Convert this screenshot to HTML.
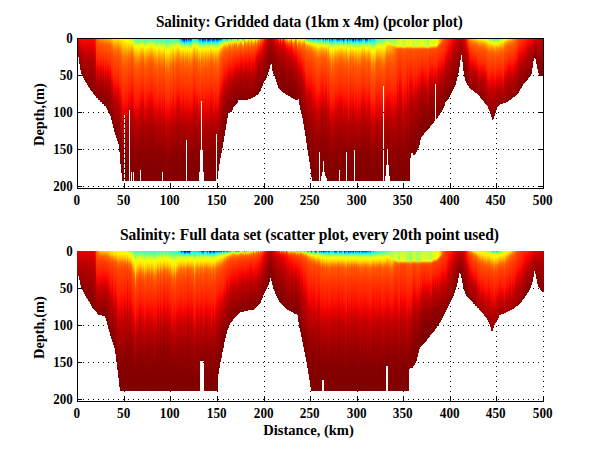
<!DOCTYPE html>
<html><head><meta charset="utf-8"><title>Salinity</title>
<style>
html,body{margin:0;padding:0;background:#fff}
body{width:600px;height:451px;position:relative;overflow:hidden;font-family:"Liberation Serif",serif}
svg{position:absolute;left:0;top:0}
i{position:absolute;width:1px;display:block}
</style></head><body>
<svg width="600" height="451" viewBox="0 0 600 451" shape-rendering="crispEdges">
<path d="M78 75.5 H543" stroke="#000" stroke-width="1" stroke-dasharray="1 4" stroke-dashoffset="0"/>
<path d="M78 112.5 H543" stroke="#000" stroke-width="1" stroke-dasharray="1 4" stroke-dashoffset="0"/>
<path d="M78 149.5 H543" stroke="#000" stroke-width="1" stroke-dasharray="1 4" stroke-dashoffset="0"/>
<path d="M78 186.5 H543" stroke="#000" stroke-width="1" stroke-dasharray="1 4" stroke-dashoffset="0"/>
<path d="M124.5 38 V188" stroke="#000" stroke-width="1" stroke-dasharray="1 4" stroke-dashoffset="0"/>
<path d="M170.5 38 V188" stroke="#000" stroke-width="1" stroke-dasharray="1 4" stroke-dashoffset="0"/>
<path d="M217.5 38 V188" stroke="#000" stroke-width="1" stroke-dasharray="1 4" stroke-dashoffset="0"/>
<path d="M264.5 38 V188" stroke="#000" stroke-width="1" stroke-dasharray="1 4" stroke-dashoffset="0"/>
<path d="M310.5 38 V188" stroke="#000" stroke-width="1" stroke-dasharray="1 4" stroke-dashoffset="0"/>
<path d="M357.5 38 V188" stroke="#000" stroke-width="1" stroke-dasharray="1 4" stroke-dashoffset="0"/>
<path d="M403.5 38 V188" stroke="#000" stroke-width="1" stroke-dasharray="1 4" stroke-dashoffset="0"/>
<path d="M450.5 38 V188" stroke="#000" stroke-width="1" stroke-dasharray="1 4" stroke-dashoffset="0"/>
<path d="M496.5 38 V188" stroke="#000" stroke-width="1" stroke-dasharray="1 4" stroke-dashoffset="0"/>
<path d="M543.5 38 V188" stroke="#000" stroke-width="1" stroke-dasharray="1 4" stroke-dashoffset="0"/>
<path d="M78 288.5 H543" stroke="#000" stroke-width="1" stroke-dasharray="1 4" stroke-dashoffset="0"/>
<path d="M78 325.5 H543" stroke="#000" stroke-width="1" stroke-dasharray="1 4" stroke-dashoffset="0"/>
<path d="M78 362.5 H543" stroke="#000" stroke-width="1" stroke-dasharray="1 4" stroke-dashoffset="0"/>
<path d="M78 399.5 H543" stroke="#000" stroke-width="1" stroke-dasharray="1 4" stroke-dashoffset="0"/>
<path d="M124.5 251 V401" stroke="#000" stroke-width="1" stroke-dasharray="1 4" stroke-dashoffset="0"/>
<path d="M170.5 251 V401" stroke="#000" stroke-width="1" stroke-dasharray="1 4" stroke-dashoffset="0"/>
<path d="M217.5 251 V401" stroke="#000" stroke-width="1" stroke-dasharray="1 4" stroke-dashoffset="0"/>
<path d="M264.5 251 V401" stroke="#000" stroke-width="1" stroke-dasharray="1 4" stroke-dashoffset="0"/>
<path d="M310.5 251 V401" stroke="#000" stroke-width="1" stroke-dasharray="1 4" stroke-dashoffset="0"/>
<path d="M357.5 251 V401" stroke="#000" stroke-width="1" stroke-dasharray="1 4" stroke-dashoffset="0"/>
<path d="M403.5 251 V401" stroke="#000" stroke-width="1" stroke-dasharray="1 4" stroke-dashoffset="0"/>
<path d="M450.5 251 V401" stroke="#000" stroke-width="1" stroke-dasharray="1 4" stroke-dashoffset="0"/>
<path d="M496.5 251 V401" stroke="#000" stroke-width="1" stroke-dasharray="1 4" stroke-dashoffset="0"/>
<path d="M543.5 251 V401" stroke="#000" stroke-width="1" stroke-dasharray="1 4" stroke-dashoffset="0"/>
<path d="M77.5 38 V189 M77 188.5 H544 M543.5 38 V189 M77 38.5 H544" stroke="#000" fill="none"/>
<path d="M77.5 251 V402 M77 401.5 H544" stroke="#000" fill="none"/>
<path d="M124.5 188 v-5 M124.5 38 v5 M124.5 401 v-5 M170.5 188 v-5 M170.5 38 v5 M170.5 401 v-5 M217.5 188 v-5 M217.5 38 v5 M217.5 401 v-5 M264.5 188 v-5 M264.5 38 v5 M264.5 401 v-5 M310.5 188 v-5 M310.5 38 v5 M310.5 401 v-5 M357.5 188 v-5 M357.5 38 v5 M357.5 401 v-5 M403.5 188 v-5 M403.5 38 v5 M403.5 401 v-5 M450.5 188 v-5 M450.5 38 v5 M450.5 401 v-5 M496.5 188 v-5 M496.5 38 v5 M496.5 401 v-5 M543.5 401 v-5 M77 75.5 h5 M543 75.5 h-5 M77 112.5 h5 M543 112.5 h-5 M77 149.5 h5 M543 149.5 h-5 M77 186.5 h5 M543 186.5 h-5 M77 288.5 h5 M77 325.5 h5 M77 362.5 h5 M77 399.5 h5" stroke="#000" fill="none"/>
</svg>
<div id="p1">
<i style="left:78px;top:39px;height:18px;background:linear-gradient(#f00 0px,#bc0000 7px,#930000 18px)"></i>
<i style="left:79px;top:39px;height:25px;background:linear-gradient(#ff0100 0px,#be0000 8px,#8a0000 25px)"></i>
<i style="left:80px;top:39px;height:31px;background:linear-gradient(#ff0300 0px,#bc0000 10px,#890000 31px)"></i>
<i style="left:81px;top:39px;height:35px;background:linear-gradient(#ff0600 0px,#bc0000 12px,#890000 35px)"></i>
<i style="left:82px;top:39px;height:37px;background:linear-gradient(#ff0900 0px,#d70000 8px,#ac0000 20px,#8d0000 37px)"></i>
<i style="left:83px;top:39px;height:39px;background:linear-gradient(#ff0b00 0px,#ec0000 6px,#b90000 17px,#910000 39px)"></i>
<i style="left:84px;top:39px;height:41px;background:linear-gradient(#ff0900 0px,#e80000 6px,#b70000 17px,#8d0000 41px)"></i>
<i style="left:85px;top:39px;height:43px;background:linear-gradient(#ff0a00 0px,#ec0000 6px,#b00 17px,#8e0000 43px)"></i>
<i style="left:86px;top:39px;height:44px;background:linear-gradient(#ff0800 0px,#dc0000 8px,#b10000 20px,#8a0000 44px)"></i>
<i style="left:87px;top:39px;height:46px;background:linear-gradient(#ff0900 0px,#df0000 8px,#b30000 20px,#8a0000 46px)"></i>
<i style="left:88px;top:39px;height:48px;background:linear-gradient(#ff0800 0px,#de0000 8px,#b30000 20px,#890000 48px)"></i>
<i style="left:89px;top:39px;height:49px;background:linear-gradient(#ff0800 0px,#df0000 8px,#b40000 20px,#890000 49px)"></i>
<i style="left:90px;top:39px;height:51px;background:linear-gradient(#ff0900 0px,#e30000 8px,#b60000 20px,#890000 51px)"></i>
<i style="left:91px;top:39px;height:52px;background:linear-gradient(#ff0500 0px,#bd0000 14px,#8b0000 42px,#840000 52px)"></i>
<i style="left:92px;top:39px;height:53px;background:linear-gradient(#ff0500 0px,#be0000 14px,#940000 35px,#840000 53px)"></i>
<i style="left:93px;top:39px;height:55px;background:linear-gradient(#ff0b00 0px,#ed0000 7px,#bc0000 20px,#890000 55px)"></i>
<i style="left:94px;top:39px;height:56px;background:linear-gradient(#ff0a00 0px,#e60000 8px,#ba0000 20px,#800 56px)"></i>
<i style="left:95px;top:39px;height:57px;background:linear-gradient(#ff2e00 0px,#fe0000 12px,#c20000 24px,#900000 50px,#800 57px)"></i>
<i style="left:96px;top:39px;height:59px;background:linear-gradient(#ff5d00 0px,#ff2900 20px,#fa0000 29px,#b50000 42px,#900000 59px)"></i>
<i style="left:97px;top:39px;height:59px;background:linear-gradient(#ff6700 0px,#ff4500 8px,#ff2000 20px,#ff0900 24px,#c00000 35px,#890000 59px)"></i>
<i style="left:98px;top:39px;height:61px;background:linear-gradient(#ff8100 0px,#ff5700 5px,#ff1c00 24px,#fd0000 29px,#d20000 35px,#9d0000 50px,#890000 61px)"></i>
<i style="left:99px;top:39px;height:61px;background:linear-gradient(#ff9100 0px,#ff5c00 5px,#ff1f00 24px,#ff0100 29px,#b30000 42px,#890000 61px)"></i>
<i style="left:100px;top:39px;height:63px;background:linear-gradient(#ff8b00 0px,#ff5d00 4px,#ff2900 20px,#ff1200 24px,#ed0000 29px,#c30000 35px,#970000 50px,#850000 63px)"></i>
<i style="left:101px;top:39px;height:63px;background:linear-gradient(#ff9100 0px,#ff5b00 5px,#ff1800 24px,#f60000 29px,#c90000 35px,#9a0000 50px,#860000 63px)"></i>
<i style="left:102px;top:39px;height:65px;background:linear-gradient(#ff9800 0px,#ff5e00 5px,#ff2100 24px,#ff0300 29px,#b50000 42px,#860000 65px)"></i>
<i style="left:103px;top:39px;height:65px;background:linear-gradient(#ff9700 0px,#ff5d00 5px,#ff1a00 24px,#f90000 29px,#cb0000 35px,#9b0000 50px,#850000 65px)"></i>
<i style="left:104px;top:39px;height:67px;background:linear-gradient(#ffa500 0px,#ff6000 6px,#ff1900 29px,#f60000 35px,#c50000 42px,#940000 60px,#890000 67px)"></i>
<i style="left:105px;top:39px;height:67px;background:linear-gradient(#ff9c00 0px,#ff5e00 5px,#ff1b00 24px,#fa0000 29px,#c00 35px,#9c0000 50px,#840000 67px)"></i>
<i style="left:106px;top:39px;height:69px;background:linear-gradient(#ffa600 0px,#ff6000 6px,#ff3600 20px,#ff1200 29px,#ec0000 35px,#c00000 42px,#920000 60px,#860000 69px)"></i>
<i style="left:107px;top:39px;height:71px;background:linear-gradient(#ffa400 0px,#ff6300 5px,#ff4200 14px,#ff2500 24px,#ff0800 29px,#b70000 42px,#8f0000 60px,#830000 71px)"></i>
<i style="left:108px;top:39px;height:73px;background:linear-gradient(#fa0 0px,#ff6000 6px,#ff2a00 24px,#ff1000 29px,#e80000 35px,#be0000 42px,#930000 60px,#830000 73px)"></i>
<i style="left:109px;top:39px;height:75px;background:linear-gradient(#ffae00 0px,#ff6100 6px,#f40 14px,#ff2a00 24px,#ff0f00 29px,#e60000 35px,#bd0000 42px,#930000 60px,#820000 75px)"></i>
<i style="left:110px;top:39px;height:77px;background:linear-gradient(#ffb500 0px,#f60 6px,#ff4600 14px,#ff2c00 24px,#ff1400 29px,#ed0000 35px,#c20000 42px,#950000 60px,#820000 77px)"></i>
<i style="left:111px;top:39px;height:81px;background:linear-gradient(#ffca00 0px,#ff7300 7px,#ff4c00 14px,#ff2d00 29px,#ff1600 35px,#ed0000 42px,#bf0000 50px,#8f0000 72px,#850000 81px)"></i>
<i style="left:112px;top:39px;height:85px;background:linear-gradient(#ffd100 0px,#ff7000 8px,#ff5000 14px,#ff1d00 35px,#f70000 42px,#c70000 50px,#930000 72px,#840000 85px)"></i>
<i style="left:113px;top:39px;height:89px;background:linear-gradient(#ffe100 0px,#ff8500 8px,#ff5c00 14px,#ff3000 35px,#ff1600 42px,#e90000 50px,#b80000 60px,#870000 89px)"></i>
<i style="left:114px;top:39px;height:93px;background:linear-gradient(#ffe600 0px,#ff7a00 10px,#f50 17px,#ff1d00 42px,#f40000 50px,#c00000 60px,#8c0000 86px,#860000 93px)"></i>
<i style="left:115px;top:39px;height:96px;background:linear-gradient(#ffe400 0px,#ff8700 8px,#ff5c00 14px,#ff1800 42px,#f00000 50px,#be0000 60px,#8d0000 86px,#840000 96px)"></i>
<i style="left:116px;top:39px;height:99px;background:linear-gradient(#ffe800 0px,#ff7b00 10px,#f50 17px,#ff2000 42px,#fa0000 50px,#c50000 60px,#910000 86px,#840000 99px)"></i>
<i style="left:117px;top:39px;height:102px;background:linear-gradient(#ffe700 0px,#ff7900 10px,#ff5400 17px,#ff1e00 42px,#f80000 50px,#c50000 60px,#920000 86px,#830000 102px)"></i>
<i style="left:118px;top:39px;height:105px;background:linear-gradient(#ffe200 0px,#ff8100 8px,#ff5900 14px,#ff2c00 35px,#ff1300 42px,#ec0000 50px,#bf0000 60px,#900000 86px,#810000 105px)"></i>
<i style="left:119px;top:39px;height:113px;background:linear-gradient(#ffec00 0px,#ff8100 10px,#ff5900 17px,#ff2a00 42px,#ff0b00 50px,#b30000 72px,#8a0000 100px,#820000 113px)"></i>
<i style="left:120px;top:39px;height:125px;background:linear-gradient(#ffed00 0px,#ff8600 10px,#ff5b00 17px,#ff2d00 42px,#ff1400 50px,#e90000 60px,#b00 72px,#900000 100px,#800000 125px)"></i>
<i style="left:121px;top:39px;height:134px;background:linear-gradient(#fff400 0px,#ff8400 12px,#ff5a00 20px,#ff2500 50px,#ff0100 60px,#cb0000 72px,#980000 100px,#800000 134px)"></i>
<i style="left:122px;top:39px;height:142px;background:linear-gradient(#fffd00 0px,#ff7a00 17px,#ff5100 29px,#ff1a00 60px,#ec0000 72px,#ba0000 86px,#910000 115px,#800000 142px)"></i>
<i style="left:123px;top:39px;height:142px;background:linear-gradient(#faff05 0px,#ff7800 20px,#ff5800 29px,#ff2400 60px,#f90000 72px,#c30000 86px,#950000 115px,#810000 142px)"></i>
<i style="left:124px;top:39px;height:76px;background:linear-gradient(#f9ff06 0px,#ff7f00 17px,#ff5200 29px,#ff1c00 60px,#f00000 72px,#de0000 76px)"></i>
<i style="left:125px;top:39px;height:142px;background:linear-gradient(#f2ff0d 0px,#fff700 2px,#ff8e00 14px,#ff5b00 24px,#ff1600 60px,#e60000 72px,#b70000 86px,#850000 130px,#800000 142px)"></i>
<i style="left:126px;top:39px;height:142px;background:linear-gradient(#e5ff1a 0px,#fffe00 2px,#ff7d00 17px,#ff4f00 29px,#ff3000 50px,#ff1600 60px,#e70000 72px,#b70000 86px,#850000 130px,#800000 142px)"></i>
<i style="left:127px;top:39px;height:142px;background:linear-gradient(#d8ff27 0px,#fffd00 3px,#ff8200 17px,#ff5e00 24px,#ff1700 60px,#e80000 72px,#b70000 86px,#850000 130px,#800000 142px)"></i>
<i style="left:128px;top:39px;height:142px;background:linear-gradient(#deff21 0px,#fffe00 2px,#ff7e00 14px,#ff4f00 24px,#ff2000 50px,#fa0000 60px,#c80000 72px,#970000 100px,#800000 142px)"></i>
<i style="left:129px;top:39px;height:71px;background:linear-gradient(#c0ff3f 0px,#fbff04 3px,#ff7b00 17px,#ff4b00 29px,#ff2b00 50px,#ff0c00 60px,#d00 71px)"></i>
<i style="left:130px;top:39px;height:142px;background:linear-gradient(#beff41 0px,#feff01 3px,#ff8500 14px,#ff5d00 20px,#ff1f00 50px,#fa0000 60px,#c70000 72px,#970000 100px,#800000 142px)"></i>
<i style="left:131px;top:39px;height:133px;background:linear-gradient(#b5ff4a 0px,#ebff14 2px,#feff01 3px,#ff7d00 14px,#ff5900 20px,#ff1600 50px,#ed0000 60px,#bf0000 72px,#930000 100px,#800000 133px)"></i>
<i style="left:132px;top:39px;height:142px;background:linear-gradient(#afff50 0px,#d5ff2a 1px,#ff0 3px,#ff8900 12px,#ff5f00 17px,#ff2500 42px,#ff0900 50px,#b60000 72px,#840000 115px,#800000 142px)"></i>
<i style="left:133px;top:39px;height:133px;background:linear-gradient(#7cff83 0px,#d9ff26 3px,#feff01 5px,#ff7b00 17px,#ff5600 24px,#ff2400 50px,#f00 60px,#ca0000 72px,#980000 100px,#800000 133px)"></i>
<i style="left:134px;top:39px;height:142px;background:linear-gradient(#59ffa6 0px,#bf4 4px,#f6ff09 7px,#ffe800 10px,#f80 20px,#ff5800 29px,#ff1b00 60px,#eb0000 72px,#b80000 86px,#8f0000 115px,#800000 142px)"></i>
<i style="left:135px;top:39px;height:142px;background:linear-gradient(#5fa 0px,#94ff6b 3px,#cfff30 5px,#ff0 8px,#ff8900 20px,#ff5800 29px,#ff1b00 60px,#ea0000 72px,#b70000 86px,#840000 130px,#800000 142px)"></i>
<i style="left:136px;top:39px;height:142px;background:linear-gradient(#4fffb0 0px,#84ff7b 3px,#d5ff2a 6px,#f6ff09 8px,#ffac00 17px,#ff7500 24px,#ff4c00 35px,#ff1f00 60px,#f00000 72px,#b00 86px,#900000 115px,#800000 142px)"></i>
<i style="left:137px;top:39px;height:142px;background:linear-gradient(#4fffb0 0px,#87ff78 3px,#dbff24 6px,#fdff02 8px,#ff8700 20px,#ff5700 29px,#ff1800 60px,#e60000 72px,#b60000 86px,#8d0000 115px,#800000 142px)"></i>
<i style="left:138px;top:39px;height:142px;background:linear-gradient(#49ffb6 0px,#78ff87 3px,#deff21 7px,#fff600 10px,#ff9200 20px,#ff5b00 29px,#ff1d00 60px,#ed0000 72px,#b90000 86px,#8f0000 115px,#800000 142px)"></i>
<i style="left:139px;top:39px;height:142px;background:linear-gradient(#49ffb6 0px,#7eff81 3px,#d6ff29 6px,#faff05 8px,#ff8500 20px,#ff6800 24px,#ff4800 35px,#ff3000 50px,#ff1400 60px,#e10000 72px,#b40000 86px,#8c0000 115px,#800000 142px)"></i>
<i style="left:140px;top:39px;height:131px;background:linear-gradient(#4effb1 0px,#76ff89 2px,#d5ff2a 5px,#fcff03 7px,#ff8c00 17px,#ff5b00 24px,#ff2800 50px,#ff0400 60px,#c00 72px,#980000 100px,#800000 131px)"></i>
<i style="left:141px;top:39px;height:142px;background:linear-gradient(#4fffb0 0px,#9f6 3px,#daff25 5px,#fffe00 7px,#ff8700 17px,#ff5900 24px,#ff2400 50px,#fe0000 60px,#c90000 72px,#970000 100px,#800000 142px)"></i>
<i style="left:142px;top:39px;height:142px;background:linear-gradient(#52ffad 0px,#a2ff5d 3px,#e1ff1e 5px,#fff900 7px,#ff8000 17px,#ff5600 24px,#ff2000 50px,#f90000 60px,#c50000 72px,#950000 100px,#800000 142px)"></i>
<i style="left:143px;top:39px;height:142px;background:linear-gradient(#51ffae 0px,#7eff81 2px,#deff21 5px,#fffc00 7px,#ff8300 17px,#ff5700 24px,#f20 50px,#fb0000 60px,#c70000 72px,#960000 100px,#800000 130px,#800000 142px)"></i>
<i style="left:144px;top:39px;height:142px;background:linear-gradient(#4fb 0px,#6fff90 3px,#d9ff26 7px,#fff900 10px,#ff9300 20px,#ff5b00 29px,#ff1c00 60px,#eb0000 72px,#b70000 86px,#8e0000 115px,#800000 142px)"></i>
<i style="left:145px;top:39px;height:142px;background:linear-gradient(#46ffb9 0px,#74ff8b 3px,#deff21 7px,#fff500 10px,#ff8d00 20px,#ff5800 29px,#ff1800 60px,#e60000 72px,#b60000 86px,#8d0000 115px,#800000 142px)"></i>
<i style="left:146px;top:39px;height:142px;background:linear-gradient(#49ffb6 0px,#7fff80 3px,#d8ff27 6px,#fcff03 8px,#ff8000 20px,#ff6400 24px,#f10 60px,#dc0000 72px,#b20000 86px,#8b0000 115px,#800000 142px)"></i>
<i style="left:147px;top:39px;height:142px;background:linear-gradient(#49ffb6 0px,#68ff97 2px,#d9ff26 6px,#fdff02 8px,#ff7f00 20px,#ff6300 24px,#ff1000 60px,#db0000 72px,#b20000 86px,#8b0000 115px,#800000 142px)"></i>
<i style="left:148px;top:39px;height:142px;background:linear-gradient(#4dffb2 0px,#73ff8c 2px,#d2ff2d 5px,#faff05 7px,#ff7500 20px,#ff4c00 29px,#ff2900 50px,#ff0600 60px,#cf0000 72px,#980000 100px,#800000 142px)"></i>
<i style="left:149px;top:39px;height:142px;background:linear-gradient(#4fffb0 0px,#78ff87 2px,#d8ff27 5px,#feff01 7px,#ff8900 17px,#ff5a00 24px,#ff2600 50px,#ff0100 60px,#cb0000 72px,#970000 100px,#800000 142px)"></i>
<i style="left:150px;top:39px;height:142px;background:linear-gradient(#4effb1 0px,#7f8 2px,#d6ff29 5px,#fdff02 7px,#ff8b00 17px,#ff5b00 24px,#ff2700 50px,#ff0300 60px,#c00 72px,#980000 100px,#800000 130px,#800000 142px)"></i>
<i style="left:151px;top:39px;height:142px;background:linear-gradient(#53ffac 0px,#85ff7a 2px,#cfff30 4px,#fbff04 6px,#ff7c00 17px,#ff5400 24px,#ff1d00 50px,#f50000 60px,#c30000 72px,#940000 100px,#800000 142px)"></i>
<i style="left:152px;top:39px;height:142px;background:linear-gradient(#4fffb0 0px,#97ff68 3px,#d9ff26 5px,#ff0 7px,#f80 17px,#ff5900 24px,#ff2500 50px,#ff0100 60px,#ca0000 72px,#970000 100px,#800000 142px)"></i>
<i style="left:153px;top:39px;height:142px;background:linear-gradient(#4bffb4 0px,#6eff91 2px,#e0ff1f 6px,#fffc00 8px,#ff7900 20px,#ff5f00 24px,#ff2c00 50px,#ff0b00 60px,#af0000 86px,#890000 115px,#800000 142px)"></i>
<i style="left:154px;top:39px;height:142px;background:linear-gradient(#47ffb8 0px,#78ff87 3px,#d0ff2f 6px,#f5ff0a 8px,#ffc500 14px,#ff6b00 24px,#ff4900 35px,#ff1600 60px,#e30000 72px,#b40000 86px,#8c0000 115px,#800000 142px)"></i>
<i style="left:155px;top:39px;height:142px;background:linear-gradient(#46ffb9 0px,#76ff89 3px,#e1ff1e 7px,#f3ff0c 8px,#fd0 12px,#ff8b00 20px,#ff5700 29px,#ff1700 60px,#e50000 72px,#b50000 86px,#8d0000 115px,#800000 142px)"></i>
<i style="left:156px;top:39px;height:142px;background:linear-gradient(#4fb 0px,#59ffa6 2px,#a1ff5e 5px,#eaff15 8px,#fff900 10px,#ff9300 20px,#ff5b00 29px,#ff1c00 60px,#ec0000 72px,#b80000 86px,#8e0000 115px,#800000 142px)"></i>
<i style="left:157px;top:39px;height:142px;background:linear-gradient(#3fffc0 0px,#5effa1 3px,#bcff43 7px,#f5ff0a 10px,#ffe100 14px,#ff8700 24px,#ff6700 29px,#ff2800 60px,#fa0000 72px,#c10000 86px,#920000 115px,#800000 142px)"></i>
<i style="left:158px;top:39px;height:142px;background:linear-gradient(#49ffb6 0px,#6f9 2px,#d7ff28 6px,#fbff04 8px,#ff8200 20px,#ff6500 24px,#ff4700 35px,#ff2f00 50px,#ff1200 60px,#d00 72px,#b20000 86px,#8b0000 115px,#800000 142px)"></i>
<i style="left:159px;top:39px;height:142px;background:linear-gradient(#47ffb8 0px,#79ff86 3px,#d2ff2d 6px,#f6ff09 8px,#ffa300 17px,#ff6a00 24px,#ff4800 35px,#ff3100 50px,#ff1500 60px,#e20000 72px,#b40000 86px,#8c0000 115px,#800000 142px)"></i>
<i style="left:160px;top:39px;height:142px;background:linear-gradient(#45ffba 0px,#72ff8d 3px,#dcff23 7px,#fff600 10px,#ff8f00 20px,#ff5900 29px,#ff1a00 60px,#e80000 72px,#b60000 86px,#8e0000 115px,#800000 142px)"></i>
<i style="left:161px;top:39px;height:142px;background:linear-gradient(#4fb 0px,#59ffa6 2px,#a1ff5e 5px,#eaff15 8px,#fff900 10px,#ff9300 20px,#ff5b00 29px,#ff1c00 60px,#eb0000 72px,#b70000 86px,#8e0000 115px,#800000 142px)"></i>
<i style="left:162px;top:39px;height:133px;background:linear-gradient(#4fb 0px,#58ffa7 2px,#bcff43 6px,#e8ff17 8px,#fffa00 10px,#ff9500 20px,#ff5c00 29px,#ff1d00 60px,#ed0000 72px,#b80000 86px,#8f0000 115px,#820000 133px)"></i>
<i style="left:163px;top:39px;height:142px;background:linear-gradient(#45ffba 0px,#73ff8c 3px,#df2 7px,#fff600 10px,#ff8e00 20px,#ff5900 29px,#ff1900 60px,#e80000 72px,#b60000 86px,#8e0000 115px,#800000 142px)"></i>
<i style="left:164px;top:39px;height:142px;background:linear-gradient(#4cffb3 0px,#70ff8f 2px,#e3ff1c 6px,#fffa00 8px,#ff7800 20px,#ff4d00 29px,#ff2b00 50px,#ff0900 60px,#d20000 72px,#ae0000 86px,#890000 115px,#800000 142px)"></i>
<i style="left:165px;top:39px;height:142px;background:linear-gradient(#39ffc6 0px,#5affa5 4px,#d6ff29 10px,#f2ff0d 12px,#fff800 14px,#ff8000 29px,#ff4c00 42px,#ff3000 60px,#ff0d00 72px,#cd0000 86px,#970000 115px,#810000 142px)"></i>
<i style="left:166px;top:39px;height:142px;background:linear-gradient(#3dffc2 0px,#58ffa7 3px,#afff50 7px,#ebff14 10px,#fffa00 12px,#ff8f00 24px,#ff5800 35px,#ff2b00 60px,#f00 72px,#c40000 86px,#940000 115px,#800000 142px)"></i>
<i style="left:167px;top:39px;height:142px;background:linear-gradient(#3dffc2 0px,#58ffa7 3px,#afff50 7px,#ebff14 10px,#fffb00 12px,#ff8f00 24px,#ff5800 35px,#ff2b00 60px,#f00 72px,#c40000 86px,#940000 115px,#800000 142px)"></i>
<i style="left:168px;top:39px;height:142px;background:linear-gradient(#3cffc3 0px,#65ff9a 4px,#e3ff1c 10px,#feff01 12px,#ff9700 24px,#ff5b00 35px,#ff2d00 60px,#ff0500 72px,#c70000 86px,#950000 115px,#800000 142px)"></i>
<i style="left:169px;top:39px;height:142px;background:linear-gradient(#3dffc2 0px,#58ffa7 3px,#afff50 7px,#ecff13 10px,#fffa00 12px,#ff8f00 24px,#ff6e00 29px,#ff4800 42px,#ff2b00 60px,#f00 72px,#c40000 86px,#940000 115px,#800000 142px)"></i>
<i style="left:170px;top:39px;height:142px;background:linear-gradient(#45ffba 0px,#5bffa4 2px,#a4ff5b 5px,#ecff13 8px,#fff700 10px,#ff9100 20px,#ff5a00 29px,#ff1b00 60px,#ea0000 72px,#b70000 86px,#8e0000 115px,#800000 142px)"></i>
<i style="left:171px;top:39px;height:142px;background:linear-gradient(#3fffc0 0px,#5effa1 3px,#bcff43 7px,#f4ff0b 10px,#ffe100 14px,#ff8700 24px,#ff6700 29px,#ff2800 60px,#fa0000 72px,#c10000 86px,#920000 115px,#800000 142px)"></i>
<i style="left:172px;top:39px;height:142px;background:linear-gradient(#47ffb8 0px,#79ff86 3px,#d1ff2e 6px,#f6ff09 8px,#ffa300 17px,#ff6a00 24px,#ff4900 35px,#ff3100 50px,#ff1500 60px,#e20000 72px,#b40000 86px,#8c0000 115px,#800000 142px)"></i>
<i style="left:173px;top:39px;height:142px;background:linear-gradient(#4bffb4 0px,#6fff90 2px,#e1ff1e 6px,#fffc00 8px,#ff7900 20px,#ff4e00 29px,#ff2b00 50px,#ff0b00 60px,#af0000 86px,#890000 115px,#800000 142px)"></i>
<i style="left:174px;top:39px;height:142px;background:linear-gradient(#42ffbd 0px,#69ff96 3px,#d1ff2e 7px,#fffe00 10px,#ff7a00 24px,#ff5e00 29px,#ff2000 60px,#f10000 72px,#b00 86px,#900000 115px,#800000 142px)"></i>
<i style="left:175px;top:39px;height:142px;background:linear-gradient(#45ffba 0px,#5bffa4 2px,#a4ff5b 5px,#ecff13 8px,#fff700 10px,#ff9100 20px,#ff5a00 29px,#ff1b00 60px,#ea0000 72px,#b70000 86px,#8e0000 115px,#800000 142px)"></i>
<i style="left:176px;top:39px;height:142px;background:linear-gradient(#3fffc0 0px,#67ff98 2px,#deff21 6px,#fffd00 8px,#ff7900 20px,#ff4e00 29px,#ff2b00 50px,#ff0a00 60px,#af0000 86px,#890000 115px,#800000 142px)"></i>
<i style="left:177px;top:39px;height:142px;background:linear-gradient(#29ffd6 0px,#86ff79 3px,#d0ff2f 5px,#f9ff06 7px,#f80 17px,#ff5900 24px,#ff2500 50px,#f00 60px,#ca0000 72px,#970000 100px,#800000 142px)"></i>
<i style="left:178px;top:39px;height:142px;background:linear-gradient(#10ffef 0px,#cbff34 5px,#f7ff08 7px,#ffa600 14px,#ff6d00 20px,#ff4a00 29px,#ff2300 50px,#fd0000 60px,#c80000 72px,#960000 100px,#800000 142px)"></i>
<i style="left:179px;top:39px;height:142px;background:linear-gradient(#00f3ff 0px,#17ffe8 1px,#bcff43 5px,#fdff02 8px,#ff8f00 17px,#ff5c00 24px,#ff2900 50px,#ff0500 60px,#ce0000 72px,#980000 100px,#800000 142px)"></i>
<i style="left:180px;top:39px;height:142px;background:linear-gradient(#008bff 0px,#00f6ff 2px,#afff50 6px,#e3ff1c 8px,#fffb00 10px,#ff8600 20px,#ff6800 24px,#ff4800 35px,#ff3000 50px,#ff1400 60px,#e00000 72px,#b30000 86px,#8c0000 115px,#800000 142px)"></i>
<i style="left:181px;top:39px;height:142px;background:linear-gradient(#0092ff 0px,#00f4ff 2px,#4dffb2 4px,#a4ff5b 6px,#daff25 8px,#fdff02 10px,#ff8f00 20px,#ff5900 29px,#ff1900 60px,#e70000 72px,#b60000 86px,#8d0000 115px,#800000 142px)"></i>
<i style="left:182px;top:39px;height:142px;background:linear-gradient(#0000e0 0px,#0042ff 1px,#009bff 2px,#00e5ff 3px,#2cffd3 4px,#6bff94 5px,#bdff42 7px,#fffd00 10px,#f90 17px,#ff6000 24px,#ff2c00 50px,#ff0b00 60px,#af0000 86px,#890000 115px,#800000 142px)"></i>
<i style="left:183px;top:39px;height:142px;background:linear-gradient(#0000bf 0px,#0029ff 1px,#08f 2px,#00d7ff 3px,#23ffdc 4px,#65ff9a 5px,#baff45 7px,#fffe00 10px,#ffbc00 14px,#ff7a00 20px,#ff5f00 24px,#ff2b00 50px,#ff0a00 60px,#d30000 72px,#900 100px,#810000 130px,#800000 142px)"></i>
<i style="left:184px;top:39px;height:142px;background:linear-gradient(#000080 0px,#0000dc 1px,#0040ff 2px,#09f 3px,#00e2ff 4px,#27ffd8 5px,#91ff6e 7px,#e6ff19 10px,#fff500 12px,#ff9300 20px,#ff5a00 29px,#ff1b00 60px,#ea0000 72px,#b70000 86px,#8e0000 115px,#800000 142px)"></i>
<i style="left:185px;top:39px;height:142px;background:linear-gradient(#0060ff 0px,#00dcff 2px,#14ffeb 3px,#a6ff59 6px,#deff21 8px,#fffe00 10px,#ff8600 20px,#ff6900 24px,#ff4800 35px,#ff3000 50px,#ff1400 60px,#e00000 72px,#b30000 86px,#8c0000 115px,#800000 142px)"></i>
<i style="left:186px;top:39px;height:101px;background:linear-gradient(#00009f 0px,#000fff 1px,#00beff 3px,#06fff9 4px,#80ff7f 6px,#c8ff37 8px,#f3ff0c 10px,#ffcb00 14px,#ff8700 20px,#ff6900 24px,#ff4800 35px,#ff3000 50px,#ff1400 60px,#e00000 72px,#b30000 86px,#9b0000 101px)"></i>
<i style="left:187px;top:39px;height:142px;background:linear-gradient(#0079ff 0px,#00f1ff 2px,#27ffd8 3px,#8fff70 5px,#d1ff2e 7px,#e8ff17 8px,#fff500 10px,#f90 17px,#ff6000 24px,#ff2c00 50px,#ff0d00 60px,#b00000 86px,#8a0000 115px,#800000 142px)"></i>
<i style="left:188px;top:39px;height:142px;background:linear-gradient(#0015ff 0px,#06f 1px,#00e5ff 3px,#1bffe4 4px,#a7ff58 7px,#ef1 10px,#fff300 12px,#f90 20px,#ff5d00 29px,#ff1f00 60px,#ef0000 72px,#b90000 86px,#8f0000 115px,#800000 142px)"></i>
<i style="left:189px;top:39px;height:142px;background:linear-gradient(#0025ff 0px,#00bdff 2px,#00fcff 3px,#71ff8e 5px,#bfff40 7px,#ff0 10px,#ffa000 17px,#ff6500 24px,#ff3d00 42px,#f10 60px,#dc0000 72px,#b20000 86px,#8b0000 115px,#800000 142px)"></i>
<i style="left:190px;top:39px;height:142px;background:linear-gradient(#001dff 0px,#006cff 1px,#00e4ff 3px,#19ffe6 4px,#a1ff5e 7px,#eaff15 10px,#fff700 12px,#ff9e00 20px,#ff5f00 29px,#f20 60px,#f30000 72px,#bc0000 86px,#900000 115px,#800000 142px)"></i>
<i style="left:191px;top:39px;height:142px;background:linear-gradient(#0043ff 0px,#00c5ff 2px,#00feff 3px,#91ff6e 6px,#cfff30 8px,#f6ff09 10px,#ffae00 17px,#ff7200 24px,#ff4b00 35px,#ff1a00 60px,#e90000 72px,#b70000 86px,#8e0000 115px,#800000 142px)"></i>
<i style="left:192px;top:39px;height:142px;background:linear-gradient(#00f2ff 0px,#12ffed 1px,#c4ff3b 6px,#f0ff0f 8px,#fff400 10px,#ff8400 20px,#ff6700 24px,#ff4800 35px,#ff3000 50px,#ff1300 60px,#df0000 72px,#b30000 86px,#8c0000 115px,#800000 142px)"></i>
<i style="left:193px;top:39px;height:142px;background:linear-gradient(#06fff9 0px,#c8ff37 5px,#f6ff09 7px,#fd0 10px,#ff8600 17px,#ff5800 24px,#ff2400 50px,#fd0000 60px,#c80000 72px,#960000 100px,#800000 142px)"></i>
<i style="left:194px;top:39px;height:142px;background:linear-gradient(#02fffd 0px,#beff41 4px,#f2ff0d 6px,#ffea00 8px,#ff9200 14px,#ff5e00 20px,#ff1400 50px,#ea0000 60px,#bc0000 72px,#910000 100px,#800000 142px)"></i>
<i style="left:195px;top:39px;height:142px;background:linear-gradient(#00eaff 0px,#0dfff2 1px,#b3ff4c 5px,#f8ff07 8px,#ff7900 20px,#ff5e00 24px,#ff2b00 50px,#ff0a00 60px,#d30000 72px,#900 100px,#810000 130px,#800000 142px)"></i>
<i style="left:196px;top:39px;height:142px;background:linear-gradient(#00c3ff 0px,#00f0ff 1px,#23ffdc 2px,#aeff51 5px,#f5ff0a 8px,#ffb300 14px,#ff7600 20px,#ff4c00 29px,#ff2a00 50px,#ff0700 60px,#d00000 72px,#900 100px,#810000 130px,#800000 142px)"></i>
<i style="left:197px;top:39px;height:142px;background:linear-gradient(#0afff5 0px,#9bff64 4px,#c2ff3d 5px,#ff0 8px,#ff8e00 17px,#ff5c00 24px,#ff2900 50px,#ff0500 60px,#ce0000 72px,#980000 100px,#800000 142px)"></i>
<i style="left:198px;top:39px;height:142px;background:linear-gradient(#0075ff 0px,#00deff 2px,#10ffef 3px,#b5ff4a 7px,#f4ff0b 10px,#ffd800 14px,#ff7800 24px,#ff4c00 35px,#ff1f00 60px,#ef0000 72px,#ba0000 86px,#8f0000 115px,#800000 142px)"></i>
<i style="left:199px;top:39px;height:133px;background:linear-gradient(#005bff 0px,#00dbff 2px,#14ffeb 3px,#a7ff58 6px,#dfff20 8px,#fffd00 10px,#ffa100 17px,#ff6700 24px,#ff4700 35px,#ff2f00 50px,#ff1200 60px,#de0000 72px,#b30000 86px,#8b0000 115px,#810000 133px)"></i>
<i style="left:200px;top:39px;height:111px;background:linear-gradient(#0053ff 0px,#00c7ff 2px,#00f4ff 3px,#48ffb7 5px,#b9ff46 8px,#fffe00 12px,#f80 24px,#ff6800 29px,#ff4700 42px,#ff2800 60px,#fb0000 72px,#c10000 86px,#970000 111px)"></i>
<i style="left:201px;top:39px;height:62px;background:linear-gradient(#09f 0px,#0ff 2px,#b3ff4c 6px,#e6ff19 8px,#fff900 10px,#ff8400 20px,#ff6700 24px,#ff4700 35px,#ff2f00 50px,#ff0b00 62px)"></i>
<i style="left:202px;top:39px;height:111px;background:linear-gradient(#000084 0px,#0000f9 1px,#00b4ff 3px,#0ff 4px,#7dff82 6px,#c7ff38 8px,#f3ff0c 10px,#ffc900 14px,#ff8400 20px,#f60 24px,#ff3e00 42px,#ff1200 60px,#d00 72px,#b20000 86px,#900000 111px)"></i>
<i style="left:203px;top:39px;height:133px;background:linear-gradient(#0000f7 0px,#00e1ff 3px,#1effe1 4px,#8cff73 6px,#cdff32 8px,#f5ff0a 10px,#ffce00 14px,#ff8b00 20px,#ff5700 29px,#ff1700 60px,#e40000 72px,#b50000 86px,#8d0000 115px,#810000 133px)"></i>
<i style="left:204px;top:39px;height:142px;background:linear-gradient(#0005ff 0px,#005aff 1px,#00dfff 3px,#17ffe8 4px,#a6ff59 7px,#ef1 10px,#fff200 12px,#ff9600 20px,#ff5c00 29px,#ff1d00 60px,#ed0000 72px,#b80000 86px,#8f0000 115px,#800000 142px)"></i>
<i style="left:205px;top:39px;height:142px;background:linear-gradient(#0000db 0px,#0040ff 1px,#009cff 2px,#00e8ff 3px,#3fc 4px,#73ff8c 5px,#c3ff3c 7px,#fff900 10px,#ffb700 14px,#ff7600 20px,#ff4c00 29px,#ff2a00 50px,#ff0600 60px,#cf0000 72px,#980000 100px,#800000 142px)"></i>
<i style="left:206px;top:39px;height:142px;background:linear-gradient(#00cbff 0px,#00f2ff 1px,#17ffe8 2px,#b3ff4c 6px,#e3ff1c 8px,#fffc00 10px,#ff8c00 20px,#ff5800 29px,#ff1800 60px,#e50000 72px,#b50000 86px,#8d0000 115px,#800000 142px)"></i>
<i style="left:207px;top:39px;height:142px;background:linear-gradient(#0000e5 0px,#0043ff 1px,#00d9ff 3px,#17ffe8 4px,#8f7 6px,#cbff34 8px,#f4ff0b 10px,#ffce00 14px,#ff8c00 20px,#ff6d00 24px,#ff4900 35px,#ff1700 60px,#e40000 72px,#b50000 86px,#8d0000 115px,#800000 142px)"></i>
<i style="left:208px;top:39px;height:142px;background:linear-gradient(#0000ac 0px,#001aff 1px,#007cff 2px,#00cdff 3px,#1affe5 4px,#5dffa2 5px,#b4ff4b 7px,#fdff02 10px,#ff9a00 17px,#ff6000 24px,#ff2c00 50px,#ff0c00 60px,#b00000 86px,#8a0000 115px,#800000 142px)"></i>
<i style="left:209px;top:39px;height:142px;background:linear-gradient(#0000ec 0px,#0048ff 1px,#00d7ff 3px,#12ffed 4px,#7dff82 6px,#c3ff3c 8px,#efff10 10px,#fff100 12px,#ff9300 20px,#ff5b00 29px,#ff1b00 60px,#eb0000 72px,#b70000 86px,#8e0000 115px,#800000 142px)"></i>
<i style="left:210px;top:39px;height:142px;background:linear-gradient(#000cff 0px,#0bf 2px,#04fffb 3px,#83ff7c 5px,#cdff32 7px,#fff200 10px,#ffb100 14px,#ff7200 20px,#ff4b00 29px,#ff2700 50px,#ff0300 60px,#cb0000 72px,#970000 100px,#800000 142px)"></i>
<i style="left:211px;top:39px;height:142px;background:linear-gradient(#0083ff 0px,#06fff9 2px,#7cff83 4px,#c9ff36 6px,#f7ff08 8px,#ff8600 17px,#ff5800 24px,#ff2300 50px,#fc0000 60px,#c80000 72px,#960000 100px,#800000 142px)"></i>
<i style="left:212px;top:39px;height:142px;background:linear-gradient(#0000d2 0px,#0037ff 1px,#0092ff 2px,#00deff 3px,#27ffd8 4px,#67ff98 5px,#baff45 7px,#ff0 10px,#f90 17px,#ff6000 24px,#ff2c00 50px,#ff0b00 60px,#af0000 86px,#890000 115px,#800000 142px)"></i>
<i style="left:213px;top:39px;height:142px;background:linear-gradient(#00f 0px,#00a5ff 2px,#00e9ff 3px,#28ffd7 4px,#94ff6b 6px,#d4ff2b 8px,#faff05 10px,#ffa300 17px,#ff6700 24px,#ff4800 35px,#ff2f00 50px,#ff1200 60px,#de0000 72px,#b30000 86px,#8b0000 115px,#800000 142px)"></i>
<i style="left:214px;top:39px;height:142px;background:linear-gradient(#0016ff 0px,#0af 2px,#00eaff 3px,#20ffdf 4px,#86ff79 6px,#c8ff37 8px,#f1ff0e 10px,#ffd500 14px,#ff9400 20px,#ff5b00 29px,#ff1c00 60px,#eb0000 72px,#b70000 86px,#8e0000 115px,#800000 142px)"></i>
<i style="left:215px;top:39px;height:142px;background:linear-gradient(#0061ff 0px,#00e7ff 2px,#20ffdf 3px,#8cff73 5px,#ceff31 7px,#fff700 10px,#ff9c00 17px,#ff6300 24px,#ff1000 60px,#da0000 72px,#b10000 86px,#8a0000 115px,#800000 142px)"></i>
<i style="left:216px;top:39px;height:95px;background:linear-gradient(#0000d9 0px,#003cff 1px,#0095ff 2px,#00deff 3px,#2fd 4px,#8fff70 6px,#d0ff2f 8px,#f6ff09 10px,#ffa800 17px,#ff6e00 24px,#ff4a00 35px,#ff1700 60px,#e40000 72px,#b40000 86px,#a50000 95px)"></i>
<i style="left:217px;top:39px;height:139px;background:linear-gradient(#0000c1 0px,#002dff 1px,#008aff 2px,#00d6ff 3px,#1fffe0 4px,#5dffa2 5px,#b0ff4f 7px,#f6ff09 10px,#ffa800 17px,#ff6e00 24px,#ff4a00 35px,#ff3200 50px,#ff1600 60px,#e10000 72px,#b30000 86px,#8a0000 115px,#800000 139px)"></i>
<i style="left:218px;top:39px;height:132px;background:linear-gradient(#001fff 0px,#007bff 1px,#00c8ff 2px,#0dfff2 3px,#82ff7d 5px,#c6ff39 7px,#fffd00 10px,#ffa300 17px,#ff6b00 24px,#ff4a00 35px,#ff3000 50px,#ff1200 60px,#d90000 72px,#af0000 86px,#800 115px,#800000 132px)"></i>
<i style="left:219px;top:39px;height:125px;background:linear-gradient(#0014ff 0px,#00e9ff 2px,#39ffc6 3px,#a1ff5e 5px,#f8ff07 8px,#ff9f00 14px,#ff6500 20px,#ff4000 35px,#ff1d00 50px,#f10000 60px,#bc0000 72px,#8e0000 100px,#800000 125px)"></i>
<i style="left:220px;top:39px;height:119px;background:linear-gradient(#0015ff 0px,#09f 1px,#00faff 2px,#48ffb7 3px,#adff52 5px,#f3ff0c 7px,#ffef00 8px,#ffa000 12px,#ff6700 17px,#ff4200 29px,#ff2700 42px,#ff0600 50px,#d20000 60px,#af0000 72px,#800 100px,#800000 119px)"></i>
<i style="left:221px;top:39px;height:114px;background:linear-gradient(#0018ff 0px,#09f 1px,#00fdff 2px,#82ff7d 4px,#dbff24 6px,#fdff02 7px,#ffb600 10px,#ff7b00 14px,#ff5300 20px,#ff1f00 42px,#fa0000 50px,#c70000 60px,#930000 86px,#800000 114px)"></i>
<i style="left:222px;top:39px;height:109px;background:linear-gradient(#00b3ff 0px,#13ffec 1px,#92ff6d 3px,#e9ff16 5px,#fff300 6px,#ff9800 10px,#f60 14px,#ff4300 24px,#ff2a00 35px,#ff0d00 42px,#e20000 50px,#b70000 60px,#8b0000 86px,#800000 109px)"></i>
<i style="left:223px;top:39px;height:103px;background:linear-gradient(#00edff 0px,#3dffc2 1px,#b3ff4c 3px,#fff900 5px,#ffa900 8px,#ff6c00 12px,#ff4800 20px,#ff1e00 35px,#fb0000 42px,#c00 50px,#980000 72px,#800000 103px)"></i>
<i style="left:224px;top:39px;height:97px;background:linear-gradient(#09fff6 0px,#95ff6a 2px,#f6ff09 4px,#f90 8px,#ff6500 12px,#f40 20px,#f10 35px,#e90000 42px,#c00000 50px,#920000 72px,#800000 97px)"></i>
<i style="left:225px;top:39px;height:91px;background:linear-gradient(#00dcff 0px,#36ffc9 1px,#baff45 3px,#ecff13 4px,#ffec00 5px,#ff9a00 8px,#ff7800 10px,#ff5700 14px,#f10 35px,#e70000 42px,#bd0000 50px,#900000 72px,#800000 91px)"></i>
<i style="left:226px;top:39px;height:85px;background:linear-gradient(#00a5ff 0px,#1fe 1px,#6f9 2px,#abff54 3px,#e0ff1f 4px,#fff200 5px,#ffb000 7px,#f70 10px,#f50 14px,#ff2800 29px,#ff0900 35px,#b60000 50px,#8b0000 72px,#800000 85px)"></i>
<i style="left:227px;top:39px;height:79px;background:linear-gradient(#007fff 0px,#00f6ff 1px,#a0ff5f 3px,#dbff24 4px,#fff300 5px,#ff9500 8px,#ff6000 12px,#fd0000 35px,#cd0000 42px,#900 60px,#820000 79px)"></i>
<i style="left:228px;top:39px;height:74px;background:linear-gradient(#23ffdc 0px,#78ff87 1px,#efff10 3px,#ffe300 4px,#ff8c00 7px,#ff5600 12px,#ff1600 29px,#ef0000 35px,#c20000 42px,#940000 60px,#830000 74px)"></i>
<i style="left:229px;top:39px;height:74px;background:linear-gradient(#00e6ff 0px,#4cffb3 1px,#9bff64 2px,#daff25 3px,#fff200 4px,#fa0 6px,#ff8100 8px,#ff5700 12px,#f10 29px,#e80000 35px,#be0000 42px,#920000 60px,#820000 74px)"></i>
<i style="left:230px;top:39px;height:73px;background:linear-gradient(#78ff87 0px,#f2ff0d 2px,#ffbd00 4px,#ff7b00 7px,#ff5000 12px,#ff2800 24px,#ff0c00 29px,#ba0000 42px,#900000 60px,#820000 73px)"></i>
<i style="left:231px;top:39px;height:73px;background:linear-gradient(#006eff 0px,#00f0ff 1px,#57ffa8 2px,#a8ff57 3px,#e6ff19 4px,#ffe600 5px,#ffa400 7px,#ff6d00 10px,#ff4300 17px,#ff1300 29px,#ec0000 35px,#c00000 42px,#930000 60px,#830000 73px)"></i>
<i style="left:232px;top:39px;height:71px;background:linear-gradient(#3effc1 0px,#92ff6d 1px,#d5ff2a 2px,#fff600 3px,#ffac00 5px,#ff7300 8px,#ff4800 14px,#ff0800 29px,#b70000 42px,#8f0000 60px,#830000 71px)"></i>
<i style="left:233px;top:39px;height:68px;background:linear-gradient(#00e8ff 0px,#51ffae 1px,#a3ff5c 2px,#e3ff1c 3px,#ffe900 4px,#ffa600 6px,#ff7d00 8px,#f50 12px,#ff0b00 29px,#ba0000 42px,#850000 68px)"></i>
<i style="left:234px;top:39px;height:67px;background:linear-gradient(#79ff86 0px,#c2ff3d 1px,#fcff03 2px,#ffb300 4px,#ff7300 7px,#ff4200 14px,#ff1400 24px,#f10000 29px,#c60000 35px,#900 50px,#820000 67px)"></i>
<i style="left:235px;top:39px;height:66px;background:linear-gradient(#49ffb6 0px,#9eff61 1px,#e0ff1f 2px,#ffe900 3px,#ff8f00 6px,#ff5b00 10px,#fa0000 29px,#cd0000 35px,#9c0000 50px,#850000 66px)"></i>
<i style="left:236px;top:39px;height:65px;background:linear-gradient(#81ff7e 0px,#c9ff36 1px,#fffb00 2px,#ffb000 4px,#ff7200 7px,#ff4000 14px,#ff1200 24px,#ef0000 29px,#c50000 35px,#900 50px,#840000 65px)"></i>
<i style="left:237px;top:39px;height:64px;background:linear-gradient(#0065ff 0px,#00f0ff 1px,#5effa1 2px,#afff50 3px,#ef1 4px,#ffe000 5px,#ff9d00 7px,#ff6900 10px,#ff3800 17px,#f50000 29px,#c90000 35px,#9a0000 50px,#850000 64px)"></i>
<i style="left:238px;top:39px;height:61px;background:linear-gradient(#0afff5 0px,#70ff8f 1px,#bfff40 2px,#f9ff06 3px,#ff9800 6px,#ff7300 8px,#ff4100 14px,#ff0d00 24px,#e80000 29px,#c10000 35px,#960000 50px,#860000 61px)"></i>
<i style="left:239px;top:39px;height:61px;background:linear-gradient(#49ffb6 0px,#a0ff5f 1px,#e4ff1b 2px,#ffe900 3px,#ff8c00 6px,#ff5900 10px,#ff1200 24px,#ef0000 29px,#c50000 35px,#980000 50px,#870000 61px)"></i>
<i style="left:240px;top:39px;height:61px;background:linear-gradient(#afff50 0px,#f0ff0f 1px,#ffdf00 2px,#ff9d00 4px,#ff6900 7px,#ff3900 14px,#fc0000 24px,#d30000 29px,#a00000 42px,#830000 61px)"></i>
<i style="left:241px;top:39px;height:61px;background:linear-gradient(#87ff78 0px,#d2ff2d 1px,#fff700 2px,#ffab00 4px,#ff7000 7px,#ff4500 12px,#ff0300 24px,#b80000 35px,#840000 61px)"></i>
<i style="left:242px;top:39px;height:61px;background:linear-gradient(#00fbff 0px,#67ff98 1px,#b6ff49 2px,#f3ff0c 3px,#ffb500 5px,#ff7400 8px,#ff3e00 14px,#ff0400 24px,#ba0000 35px,#860000 60px,#850000 61px)"></i>
<i style="left:243px;top:39px;height:61px;background:linear-gradient(#007aff 0px,#04fffb 1px,#6aff95 2px,#b9ff46 3px,#f7ff08 4px,#f90 7px,#ff6500 10px,#ff3200 17px,#ff0800 24px,#be0000 35px,#950000 50px,#850000 61px)"></i>
<i style="left:244px;top:39px;height:61px;background:linear-gradient(#efff10 0px,#ffe000 1px,#f80 4px,#ff5800 8px,#ff0500 24px,#bc0000 35px,#860000 60px,#850000 61px)"></i>
<i style="left:245px;top:39px;height:61px;background:linear-gradient(#baff45 0px,#f5ff0a 1px,#f90 4px,#ff5d00 8px,#fc0000 24px,#d50000 29px,#b60000 35px,#850000 60px,#840000 61px)"></i>
<i style="left:246px;top:39px;height:61px;background:linear-gradient(#70ff8f 0px,#bdff42 1px,#faff05 2px,#ffb200 4px,#ff7200 7px,#ff4200 12px,#f50000 24px,#c00 29px,#9e0000 42px,#830000 61px)"></i>
<i style="left:247px;top:39px;height:61px;background:linear-gradient(#abff54 0px,#e9ff16 1px,#ffe400 2px,#ff9f00 4px,#ff6b00 7px,#ff3a00 14px,#ff0900 24px,#c10000 35px,#970000 50px,#870000 61px)"></i>
<i style="left:248px;top:39px;height:60px;background:linear-gradient(#ffdc00 0px,#ff8700 3px,#ff5800 7px,#ff0200 24px,#b00 35px,#860000 60px)"></i>
<i style="left:249px;top:39px;height:60px;background:linear-gradient(#7eff81 0px,#c8ff37 1px,#fffc00 2px,#ffae00 4px,#ff7000 7px,#ff4200 12px,#fd0000 24px,#b90000 35px,#860000 60px)"></i>
<i style="left:250px;top:39px;height:60px;background:linear-gradient(#49ffb6 0px,#a0ff5f 1px,#e4ff1b 2px,#ffe600 3px,#ffa100 5px,#ff6900 8px,#ff3900 14px,#f00 24px,#b00 35px,#860000 60px)"></i>
<i style="left:251px;top:39px;height:59px;background:linear-gradient(#ffca00 0px,#ff7e00 3px,#ff4f00 8px,#ff0900 24px,#c40000 35px,#890000 59px)"></i>
<i style="left:252px;top:39px;height:59px;background:linear-gradient(#afff50 0px,#efff10 1px,#ffde00 2px,#ff9d00 4px,#ff6700 7px,#ff3500 14px,#fe0000 24px,#bd0000 35px,#800 59px)"></i>
<i style="left:253px;top:39px;height:58px;background:linear-gradient(#90ff6f 0px,#d8ff27 1px,#fff000 2px,#ffa700 4px,#ff6a00 7px,#ff3d00 12px,#f60000 24px,#d10000 29px,#a30000 42px,#870000 58px)"></i>
<i style="left:254px;top:39px;height:58px;background:linear-gradient(#af5 0px,#ebff14 1px,#ffe200 2px,#ff9e00 4px,#ff6700 7px,#ff3d00 12px,#ff0100 24px,#c10000 35px,#8a0000 58px)"></i>
<i style="left:255px;top:39px;height:57px;background:linear-gradient(#ffe100 0px,#ff9d00 2px,#f60 5px,#ff3b00 10px,#f00 20px,#c40000 29px,#8f0000 50px,#860000 57px)"></i>
<i style="left:256px;top:39px;height:56px;background:linear-gradient(#95ff6a 0px,#dcff23 1px,#ffeb00 2px,#ff9f00 4px,#ff5e00 7px,#ff0100 17px,#c90000 24px,#950000 42px,#830000 56px)"></i>
<i style="left:257px;top:39px;height:56px;background:linear-gradient(#ffef00 0px,#ffa200 2px,#ff6000 5px,#ff0800 14px,#bd0000 24px,#8f0000 42px,#800000 56px)"></i>
<i style="left:258px;top:39px;height:55px;background:linear-gradient(#ff9c00 0px,#ff6000 3px,#ff1000 12px,#ff0100 14px,#cf0000 20px,#9b0000 35px,#810000 55px)"></i>
<i style="left:259px;top:39px;height:53px;background:linear-gradient(#ffd800 0px,#ff8f00 2px,#ff3f00 6px,#fa0000 12px,#cb0000 17px,#9d0000 29px,#800000 53px)"></i>
<i style="left:260px;top:39px;height:52px;background:linear-gradient(#ff7600 0px,#ff3e00 4px,#ff0800 10px,#c00000 20px,#8a0000 42px,#810000 52px)"></i>
<i style="left:261px;top:39px;height:49px;background:linear-gradient(#ff8d00 0px,#ff3f00 4px,#ff0400 10px,#c00000 20px,#8d0000 42px,#850000 49px)"></i>
<i style="left:262px;top:39px;height:47px;background:linear-gradient(#ff7000 0px,#ff2800 4px,#fc0000 8px,#be0000 17px,#930000 35px,#840000 47px)"></i>
<i style="left:263px;top:39px;height:44px;background:linear-gradient(#ff5300 0px,#ff1400 4px,#f60000 7px,#c50000 14px,#940000 35px,#870000 44px)"></i>
<i style="left:264px;top:39px;height:42px;background:linear-gradient(#ff2e00 0px,#fe0000 3px,#cd0000 8px,#a20000 20px,#830000 42px)"></i>
<i style="left:265px;top:39px;height:41px;background:linear-gradient(#ff0f00 0px,#f00 1px,#cd0000 6px,#9f0000 20px,#830000 41px)"></i>
<i style="left:266px;top:39px;height:39px;background:linear-gradient(#e70000 0px,#b60000 7px,#8e0000 24px,#800000 39px)"></i>
<i style="left:267px;top:39px;height:36px;background:linear-gradient(#d40000 0px,#ac0000 8px,#870000 29px,#810000 36px)"></i>
<i style="left:268px;top:39px;height:33px;background:linear-gradient(#c50000 0px,#960000 14px,#800000 33px)"></i>
<i style="left:269px;top:39px;height:30px;background:linear-gradient(#b00 0px,#930000 14px,#800000 30px)"></i>
<i style="left:270px;top:39px;height:26px;background:linear-gradient(#b00000 0px,#870000 20px,#810000 26px)"></i>
<i style="left:271px;top:39px;height:25px;background:linear-gradient(#b30000 0px,#890000 17px,#820000 25px)"></i>
<i style="left:272px;top:39px;height:32px;background:linear-gradient(#c40000 0px,#9a0000 10px,#800000 32px)"></i>
<i style="left:273px;top:39px;height:35px;background:linear-gradient(#d80000 0px,#a80000 8px,#850000 29px,#800000 35px)"></i>
<i style="left:274px;top:39px;height:37px;background:linear-gradient(#eb0000 0px,#c00000 4px,#9a0000 14px,#800000 37px)"></i>
<i style="left:275px;top:39px;height:40px;background:linear-gradient(#ff0300 0px,#c30000 5px,#980000 17px,#800000 40px)"></i>
<i style="left:276px;top:39px;height:43px;background:linear-gradient(#ff1d00 0px,#ff0400 1px,#bf0000 7px,#970000 20px,#800000 43px)"></i>
<i style="left:277px;top:39px;height:46px;background:linear-gradient(#ff3400 0px,#ff0100 2px,#c60000 7px,#9b0000 20px,#800000 46px)"></i>
<i style="left:278px;top:39px;height:49px;background:linear-gradient(#ff4100 0px,#ff0a00 2px,#db0000 5px,#b70000 10px,#8b0000 29px,#800000 49px)"></i>
<i style="left:279px;top:39px;height:50px;background:linear-gradient(#ff9400 0px,#ff4100 2px,#ff0c00 4px,#ea0000 6px,#b00 12px,#8c0000 35px,#800000 50px)"></i>
<i style="left:280px;top:39px;height:51px;background:linear-gradient(#ff1200 0px,#f60000 2px,#c60000 8px,#940000 29px,#800000 51px)"></i>
<i style="left:281px;top:39px;height:52px;background:linear-gradient(#ffc400 0px,#ff6100 2px,#ff0a00 5px,#d00 8px,#b70000 14px,#8c0000 35px,#800000 52px)"></i>
<i style="left:282px;top:39px;height:53px;background:linear-gradient(#ff6300 0px,#ff1300 3px,#f00 4px,#d10000 8px,#a00 17px,#840000 42px,#800000 53px)"></i>
<i style="left:283px;top:39px;height:54px;background:linear-gradient(#ff2300 0px,#f80000 4px,#c40000 12px,#930000 35px,#810000 54px)"></i>
<i style="left:284px;top:39px;height:54px;background:linear-gradient(#ff6d00 0px,#ff2000 3px,#fe0000 5px,#cb0000 10px,#9c0000 24px,#800000 50px,#800000 54px)"></i>
<i style="left:285px;top:39px;height:55px;background:linear-gradient(#ffb800 0px,#ff6700 2px,#ff2100 5px,#ff0200 7px,#c60000 14px,#930000 35px,#800000 55px)"></i>
<i style="left:286px;top:39px;height:56px;background:linear-gradient(#ffe100 0px,#ff8600 2px,#ff3700 5px,#ff0c00 8px,#e50000 12px,#bc0000 20px,#800 50px,#840000 56px)"></i>
<i style="left:287px;top:39px;height:56px;background:linear-gradient(#ffdc00 0px,#ff8400 2px,#ff3900 5px,#ff0f00 8px,#fa0000 10px,#c80000 17px,#910000 42px,#830000 56px)"></i>
<i style="left:288px;top:39px;height:57px;background:linear-gradient(#df2 0px,#ffe100 1px,#ff8700 3px,#ff3a00 6px,#ff0300 10px,#ca0000 17px,#9a0000 35px,#820000 57px)"></i>
<i style="left:289px;top:39px;height:57px;background:linear-gradient(#fff000 0px,#ff9400 2px,#ff4500 5px,#ff0200 10px,#bd0000 20px,#8f0000 42px,#810000 57px)"></i>
<i style="left:290px;top:39px;height:58px;background:linear-gradient(#fff800 0px,#ff9d00 2px,#ff4d00 5px,#ff0900 10px,#ce0000 17px,#9a0000 35px,#810000 58px)"></i>
<i style="left:291px;top:39px;height:59px;background:linear-gradient(#f60 0px,#ff1a00 7px,#ff0300 10px,#c10000 20px,#8e0000 42px,#800000 59px)"></i>
<i style="left:292px;top:39px;height:59px;background:linear-gradient(#c3ff3c 0px,#fffb00 1px,#ffa100 3px,#ff5400 6px,#ff0900 12px,#c90000 20px,#9c0000 35px,#800000 59px)"></i>
<i style="left:293px;top:39px;height:60px;background:linear-gradient(#8aff75 0px,#d7ff28 1px,#ffeb00 2px,#f90 4px,#ff5300 7px,#ff1400 12px,#ff0300 14px,#bf0000 24px,#940000 42px,#810000 60px)"></i>
<i style="left:294px;top:39px;height:60px;background:linear-gradient(#f3ff0c 0px,#ffb100 2px,#ff6700 5px,#ff2f00 10px,#fd0000 17px,#ce0000 24px,#9b0000 42px,#840000 60px)"></i>
<i style="left:295px;top:39px;height:61px;background:linear-gradient(#ff9500 0px,#ff5300 4px,#f80000 17px,#c70000 24px,#970000 42px,#810000 61px)"></i>
<i style="left:296px;top:39px;height:61px;background:linear-gradient(#fc0 0px,#ff8e00 2px,#ff4e00 6px,#fe0000 17px,#ca0000 24px,#970000 42px,#810000 61px)"></i>
<i style="left:297px;top:39px;height:61px;background:linear-gradient(#12ffed 0px,#78ff87 1px,#c6ff39 2px,#fffc00 3px,#ffa900 5px,#ff6500 8px,#ff2900 14px,#f00 20px,#c40000 29px,#910000 50px,#840000 61px)"></i>
<i style="left:298px;top:39px;height:60px;background:linear-gradient(#dcff23 0px,#ffed00 1px,#ffa500 3px,#ff6a00 6px,#ff3900 12px,#fb0000 24px,#bd0000 35px,#800 60px)"></i>
<i style="left:299px;top:39px;height:66px;background:linear-gradient(#d6ff29 0px,#fff100 1px,#ffa800 3px,#ff6d00 6px,#ff3e00 12px,#ff0600 24px,#c50000 35px,#9b0000 50px,#860000 66px)"></i>
<i style="left:300px;top:39px;height:71px;background:linear-gradient(#deff21 0px,#ffeb00 1px,#ffa400 3px,#ff6b00 6px,#ff3c00 12px,#fa0000 24px,#b90000 35px,#890000 60px,#800000 71px)"></i>
<i style="left:301px;top:39px;height:75px;background:linear-gradient(#36ffc9 0px,#91ff6e 1px,#d7ff28 2px,#fff000 3px,#ffa800 5px,#ff6d00 8px,#ff3e00 14px,#ff1200 24px,#f40000 29px,#c00 35px,#a10000 50px,#820000 75px)"></i>
<i style="left:302px;top:39px;height:79px;background:linear-gradient(#aeff51 0px,#ebff14 1px,#ffe300 2px,#ffa100 4px,#ff6c00 7px,#ff4000 14px,#ff0300 29px,#bc0000 42px,#870000 72px,#820000 79px)"></i>
<i style="left:303px;top:39px;height:85px;background:linear-gradient(#baff45 0px,#f5ff0a 1px,#ffa000 4px,#ff6d00 7px,#ff4500 14px,#f70000 35px,#cd0000 42px,#9d0000 60px,#820000 85px)"></i>
<i style="left:304px;top:39px;height:91px;background:linear-gradient(#f1ff0e 0px,#ffbe00 2px,#ff7e00 5px,#ff5300 10px,#ff1a00 29px,#fc0000 35px,#d40000 42px,#b60000 50px,#830000 86px,#800000 91px)"></i>
<i style="left:305px;top:39px;height:97px;background:linear-gradient(#3affc5 0px,#8eff71 1px,#cfff30 2px,#fffd00 3px,#ffb400 5px,#ff7c00 8px,#ff5800 12px,#ff1b00 35px,#fb0000 42px,#cf0000 50px,#9b0000 72px,#820000 97px)"></i>
<i style="left:306px;top:39px;height:104px;background:linear-gradient(#00a8ff 0px,#1bffe4 1px,#74ff8b 2px,#bf4 3px,#f0ff0f 4px,#ffe300 5px,#ffa500 7px,#ff7500 10px,#ff5600 14px,#ff2800 35px,#ff0c00 42px,#ba0000 60px,#8f0000 86px,#810000 104px)"></i>
<i style="left:307px;top:39px;height:111px;background:linear-gradient(#1fffe0 0px,#72ff8d 1px,#e7ff18 3px,#ffed00 4px,#ff9d00 7px,#ff7200 10px,#ff4e00 17px,#ff1700 42px,#f40000 50px,#c50000 60px,#950000 86px,#800000 111px)"></i>
<i style="left:308px;top:39px;height:117px;background:linear-gradient(#00a1ff 0px,#13ffec 1px,#6bff94 2px,#e7ff18 4px,#ffeb00 5px,#ff9700 8px,#f60 12px,#ff4600 20px,#ff2700 35px,#ff0d00 42px,#e90000 50px,#bf0000 60px,#860000 100px,#800000 117px)"></i>
<i style="left:309px;top:39px;height:123px;background:linear-gradient(#00e6ff 0px,#47ffb8 1px,#91ff6e 2px,#fbff04 4px,#ffa700 7px,#ff7500 10px,#ff4d00 17px,#ff2600 35px,#ff0d00 42px,#e90000 50px,#c00000 60px,#870000 100px,#800000 123px)"></i>
<i style="left:310px;top:39px;height:130px;background:linear-gradient(#00d7ff 0px,#36ffc9 1px,#81ff7e 2px,#ebff14 4px,#fe0 5px,#ffa000 8px,#ff6c00 12px,#ff4a00 20px,#ff1b00 42px,#fb0000 50px,#cd0000 60px,#9a0000 86px,#800000 130px)"></i>
<i style="left:311px;top:39px;height:138px;background:linear-gradient(#00caff 0px,#2bffd4 1px,#7f8 2px,#e5ff1a 4px,#fff300 5px,#ffa300 8px,#ff6c00 12px,#ff4900 20px,#f60000 50px,#ca0000 60px,#9a0000 86px,#800000 130px,#800000 138px)"></i>
<i style="left:312px;top:39px;height:142px;background:linear-gradient(#00cfff 0px,#2affd5 1px,#acff53 3px,#fffc00 5px,#ffae00 8px,#ff7500 12px,#ff4c00 20px,#ff2100 42px,#ff0500 50px,#b50000 72px,#900000 100px,#800000 142px)"></i>
<i style="left:313px;top:39px;height:142px;background:linear-gradient(#005dff 0px,#00cfff 1px,#2bffd4 2px,#adff52 4px,#fffb00 6px,#ffc300 8px,#ff8000 12px,#ff6a00 14px,#ff4700 24px,#ff2500 42px,#ff0b00 50px,#b80000 72px,#860000 115px,#800000 142px)"></i>
<i style="left:314px;top:39px;height:142px;background:linear-gradient(#0095ff 0px,#00f8ff 1px,#85ff7a 3px,#e2ff1d 5px,#fff900 6px,#ffa100 10px,#ff7100 14px,#ff4900 24px,#ff2a00 42px,#ff1200 50px,#e90000 60px,#bd0000 72px,#930000 100px,#800000 142px)"></i>
<i style="left:315px;top:39px;height:142px;background:linear-gradient(#0ff 0px,#7eff81 2px,#ef1 5px,#fff500 6px,#ffab00 10px,#ff6700 17px,#ff4600 29px,#ff2000 50px,#fb0000 60px,#c90000 72px,#980000 100px,#800000 142px)"></i>
<i style="left:316px;top:39px;height:142px;background:linear-gradient(#00a8ff 0px,#06fff9 1px,#4bffb4 2px,#aeff51 4px,#f0ff0f 6px,#fff400 7px,#ffb900 10px,#ff8700 14px,#ff5e00 20px,#ff2400 50px,#ff0100 60px,#c00 72px,#900 100px,#800000 142px)"></i>
<i style="left:317px;top:39px;height:142px;background:linear-gradient(#00b4ff 0px,#0cfff3 1px,#51ffae 2px,#adff52 4px,#ecff13 6px,#fffa00 7px,#ffa500 12px,#ff6100 20px,#ff2800 50px,#ff0500 60px,#d00000 72px,#9a0000 100px,#800000 142px)"></i>
<i style="left:318px;top:39px;height:142px;background:linear-gradient(#006cff 0px,#00d4ff 1px,#25ffda 2px,#64ff9b 3px,#b9ff46 5px,#f3ff0c 7px,#fff300 8px,#ffaf00 12px,#f60 20px,#ff4300 35px,#ff2a00 50px,#ff0800 60px,#b00000 86px,#820000 130px,#800000 142px)"></i>
<i style="left:319px;top:39px;height:113px;background:linear-gradient(#008dff 0px,#00f0ff 1px,#3cffc3 2px,#7f8 3px,#e6ff19 6px,#fffe00 7px,#ffbf00 10px,#ff8a00 14px,#ff5d00 20px,#ff1d00 50px,#f70000 60px,#c60000 72px,#960000 100px,#890000 113px)"></i>
<i style="left:320px;top:39px;height:142px;background:linear-gradient(#0070ff 0px,#0df 1px,#2dffd2 2px,#6cff93 3px,#c2ff3d 5px,#feff01 7px,#ffbe00 10px,#ff8700 14px,#ff5b00 20px,#ff1800 50px,#f10000 60px,#c10000 72px,#940000 100px,#800000 142px)"></i>
<i style="left:321px;top:39px;height:137px;background:linear-gradient(#36ffc9 0px,#74ff8b 1px,#c6ff39 3px,#fbff04 5px,#ffa700 10px,#ff6000 17px,#ff3400 35px,#ff0b00 50px,#b70000 72px,#850000 115px,#800000 137px)"></i>
<i style="left:322px;top:39px;height:133px;background:linear-gradient(#006fff 0px,#00deff 1px,#30ffcf 2px,#6fff90 3px,#e7ff18 6px,#fffa00 7px,#ffb800 10px,#ff8000 14px,#ff6400 17px,#ff4200 29px,#ff0f00 50px,#e40000 60px,#b90000 72px,#910000 100px,#800000 133px)"></i>
<i style="left:323px;top:39px;height:122px;background:linear-gradient(#000aff 0px,#0093ff 1px,#00f5ff 2px,#7dff82 4px,#d3ff2c 6px,#f4ff0b 7px,#ffed00 8px,#ff9d00 12px,#ff6500 17px,#ff4200 29px,#ff2900 42px,#ff0e00 50px,#e20000 60px,#b90000 72px,#910000 100px,#810000 122px)"></i>
<i style="left:324px;top:39px;height:133px;background:linear-gradient(#00f9ff 0px,#7eff81 2px,#caff35 4px,#f7ff08 6px,#ff8e00 14px,#ff5e00 20px,#ff1c00 50px,#f50000 60px,#c40000 72px,#950000 100px,#800000 133px)"></i>
<i style="left:325px;top:39px;height:137px;background:linear-gradient(#0000dc 0px,#006eff 1px,#00dbff 2px,#30ffcf 3px,#9fff60 5px,#ebff14 7px,#fff500 8px,#ffa100 12px,#f60 17px,#ff4200 29px,#ff2900 42px,#ff0d00 50px,#e20000 60px,#b80000 72px,#900000 100px,#800000 137px)"></i>
<i style="left:326px;top:39px;height:139px;background:linear-gradient(#005eff 0px,#00d1ff 1px,#29ffd6 2px,#6bff94 3px,#c3ff3c 5px,#fffd00 7px,#ffb800 10px,#ff7e00 14px,#ff6200 17px,#f30 35px,#ff0700 50px,#b50000 72px,#8f0000 100px,#800000 139px)"></i>
<i style="left:327px;top:39px;height:142px;background:linear-gradient(#06f 0px,#00bdff 1px,#0ffff0 2px,#5fa 3px,#afff50 5px,#faff05 8px,#ffa600 14px,#ff6e00 20px,#ff4b00 29px,#ff2900 50px,#ff0600 60px,#cf0000 72px,#900 100px,#810000 130px,#800000 142px)"></i>
<i style="left:328px;top:39px;height:142px;background:linear-gradient(#0dfff2 0px,#a9ff56 3px,#f6ff09 6px,#ffc700 10px,#ff7600 17px,#ff5200 24px,#ff1d00 50px,#f50000 60px,#c40000 72px,#950000 100px,#800000 142px)"></i>
<i style="left:329px;top:39px;height:142px;background:linear-gradient(#0000ce 0px,#0043ff 1px,#00f6ff 3px,#7f8 5px,#c3ff3c 7px,#fff900 10px,#fb0 14px,#ff7d00 20px,#ff6100 24px,#f10 60px,#d00 72px,#b30000 86px,#8c0000 115px,#800000 142px)"></i>
<i style="left:330px;top:39px;height:142px;background:linear-gradient(#0094ff 0px,#08fff7 2px,#94ff6b 5px,#e6ff19 8px,#fffb00 10px,#ff8e00 20px,#ff5a00 29px,#ff1d00 60px,#ed0000 72px,#b90000 86px,#8f0000 115px,#800000 142px)"></i>
<i style="left:331px;top:39px;height:142px;background:linear-gradient(#005eff 0px,#00d5ff 2px,#08fff7 3px,#a8ff57 7px,#eaff15 10px,#fffc00 12px,#ff8e00 24px,#ff5900 35px,#ff2c00 60px,#ff0300 72px,#c70000 86px,#950000 115px,#810000 142px)"></i>
<i style="left:332px;top:39px;height:142px;background:linear-gradient(#0000fe 0px,#00b5ff 2px,#00fdff 3px,#7aff85 5px,#c2ff3d 7px,#fffe00 10px,#ffa100 17px,#ff6800 24px,#ff4900 35px,#ff1600 60px,#e40000 72px,#b50000 86px,#8d0000 115px,#800000 142px)"></i>
<i style="left:333px;top:39px;height:142px;background:linear-gradient(#0095ff 0px,#00fdff 2px,#a6ff59 6px,#d7ff28 8px,#f8ff07 10px,#ff7d00 24px,#ff6000 29px,#ff2500 60px,#f70000 72px,#bf0000 86px,#920000 115px,#800000 142px)"></i>
<i style="left:334px;top:39px;height:142px;background:linear-gradient(#0095ff 0px,#07fff8 2px,#94ff6b 5px,#e6ff19 8px,#fffa00 10px,#ff8c00 20px,#ff5900 29px,#ff1b00 60px,#eb0000 72px,#b70000 86px,#840000 130px,#800000 142px)"></i>
<i style="left:335px;top:39px;height:142px;background:linear-gradient(#00aeff 0px,#0ef 1px,#26ffd9 2px,#93ff6c 4px,#d4ff2b 6px,#fbff04 8px,#ff8d00 17px,#ff5c00 24px,#ff2a00 50px,#ff0800 60px,#d20000 72px,#900 100px,#810000 130px,#800000 142px)"></i>
<i style="left:336px;top:39px;height:142px;background:linear-gradient(#0041ff 0px,#00e0ff 2px,#24ffdb 3px,#92ff6d 5px,#d3ff2c 7px,#fff300 10px,#ff9700 17px,#ff6000 24px,#ff2e00 50px,#ff1000 60px,#da0000 72px,#b20000 86px,#8b0000 115px,#800000 142px)"></i>
<i style="left:337px;top:39px;height:142px;background:linear-gradient(#0000fe 0px,#0068ff 1px,#00bfff 2px,#1fe 3px,#57ffa8 4px,#b1ff4e 6px,#e6ff19 8px,#fff000 10px,#ffb000 14px,#ff7400 20px,#ff4c00 29px,#ff2a00 50px,#ff0800 60px,#d10000 72px,#900 100px,#810000 130px,#800000 142px)"></i>
<i style="left:338px;top:39px;height:142px;background:linear-gradient(#01f 0px,#07f 1px,#00caff 2px,#19ffe6 3px,#5effa1 4px,#b5ff4a 6px,#e9ff16 8px,#fe0 10px,#ffaf00 14px,#ff7300 20px,#ff4c00 29px,#ff2a00 50px,#ff0700 60px,#d00000 72px,#900 100px,#810000 130px,#800000 142px)"></i>
<i style="left:339px;top:39px;height:131px;background:linear-gradient(#0016ff 0px,#007cff 1px,#00d3ff 2px,#25ffda 3px,#67ff98 4px,#bcff43 6px,#efff10 8px,#ffe600 10px,#ff8400 17px,#ff5800 24px,#ff2400 50px,#fe0000 60px,#c90000 72px,#970000 100px,#800000 131px)"></i>
<i style="left:340px;top:39px;height:142px;background:linear-gradient(#0061ff 0px,#01fffe 2px,#81ff7e 4px,#cbff34 6px,#f9ff06 8px,#ffa400 14px,#ff6a00 20px,#ff4a00 29px,#ff2300 50px,#fd0000 60px,#c90000 72px,#970000 100px,#800000 142px)"></i>
<i style="left:341px;top:39px;height:142px;background:linear-gradient(#0031ff 0px,#00e4ff 2px,#32ffcd 3px,#71ff8e 4px,#c3ff3c 6px,#f4ff0b 8px,#ffc000 12px,#ff8200 17px,#ff5700 24px,#f20 50px,#fc0000 60px,#c80000 72px,#960000 100px,#800000 142px)"></i>
<i style="left:342px;top:39px;height:142px;background:linear-gradient(#0081ff 0px,#00ceff 1px,#1fe 2px,#8bff74 4px,#d1ff2e 6px,#fbff04 8px,#ffa500 14px,#ff6b00 20px,#ff4a00 29px,#ff2400 50px,#fe0000 60px,#c90000 72px,#970000 100px,#800000 142px)"></i>
<i style="left:343px;top:39px;height:142px;background:linear-gradient(#000080 0px,#0000f4 1px,#00c6ff 3px,#1bffe4 4px,#5dffa2 5px,#b5ff4a 7px,#fffe00 10px,#ffb900 14px,#ff7800 20px,#ff5e00 24px,#ff2b00 50px,#ff0b00 60px,#af0000 86px,#810000 130px,#800000 142px)"></i>
<i style="left:344px;top:39px;height:142px;background:linear-gradient(#0023ff 0px,#0081ff 1px,#00d0ff 2px,#1bffe4 3px,#5dffa2 4px,#b5ff4a 6px,#e9ff16 8px,#ffef00 10px,#ffb100 14px,#ff7500 20px,#ff4c00 29px,#ff2a00 50px,#ff0800 60px,#d10000 72px,#900 100px,#810000 130px,#800000 142px)"></i>
<i style="left:345px;top:39px;height:142px;background:linear-gradient(#00f3ff 0px,#16ffe9 1px,#caff35 6px,#f3ff0c 8px,#ffd900 12px,#ff8600 20px,#ff5600 29px,#ff1600 60px,#e40000 72px,#b50000 86px,#8d0000 115px,#800000 142px)"></i>
<i style="left:346px;top:39px;height:113px;background:linear-gradient(#00a3ff 0px,#00e7ff 1px,#2fd 2px,#94ff6b 4px,#d7ff28 6px,#feff01 8px,#ffa600 14px,#ff6c00 20px,#ff4a00 29px,#ff2500 50px,#f00 60px,#ca0000 72px,#970000 100px,#890000 113px)"></i>
<i style="left:347px;top:39px;height:142px;background:linear-gradient(#00008f 0px,#0006ff 1px,#006eff 2px,#00c2ff 3px,#1fe 4px,#54ffab 5px,#adff52 7px,#f7ff08 10px,#ff8400 20px,#ff6700 24px,#ff4800 35px,#ff3000 50px,#ff1400 60px,#e10000 72px,#b40000 86px,#8c0000 115px,#800000 142px)"></i>
<i style="left:348px;top:39px;height:142px;background:linear-gradient(#00b2ff 0px,#08fff7 2px,#c1ff3e 7px,#f9ff06 10px,#ff7b00 24px,#ff5f00 29px,#f20 60px,#f40000 72px,#bd0000 86px,#910000 115px,#800000 142px)"></i>
<i style="left:349px;top:39px;height:142px;background:linear-gradient(#0059ff 0px,#00deff 2px,#17ffe8 3px,#a7ff58 6px,#dfff20 8px,#ff0 10px,#ffa600 17px,#ff6c00 24px,#ff4900 35px,#ff1800 60px,#e50000 72px,#b50000 86px,#8d0000 115px,#800000 142px)"></i>
<i style="left:350px;top:39px;height:142px;background:linear-gradient(#0013ff 0px,#007bff 1px,#00d3ff 2px,#26ffd9 3px,#69ff96 4px,#bfff40 6px,#f3ff0c 8px,#ffbd00 12px,#ff7e00 17px,#ff6400 20px,#ff3e00 35px,#f60000 60px,#c40000 72px,#950000 100px,#800000 142px)"></i>
<i style="left:351px;top:39px;height:142px;background:linear-gradient(#009dff 0px,#0cfff3 2px,#9dff62 5px,#edff12 8px,#fff300 10px,#ff9c00 17px,#ff6300 24px,#f10 60px,#dc0000 72px,#b20000 86px,#8b0000 115px,#800000 142px)"></i>
<i style="left:352px;top:39px;height:142px;background:linear-gradient(#0000c7 0px,#0038ff 1px,#00ebff 3px,#38ffc7 4px,#74ff8b 5px,#c3ff3c 7px,#fff700 10px,#ffb400 14px,#ff7500 20px,#ff4c00 29px,#ff2a00 50px,#ff0700 60px,#d00000 72px,#900 100px,#810000 130px,#800000 142px)"></i>
<i style="left:353px;top:39px;height:142px;background:linear-gradient(#00008b 0px,#000bff 1px,#00d4ff 3px,#28ffd7 4px,#67ff98 5px,#bcff43 7px,#fff800 10px,#ffb200 14px,#ff7200 20px,#ff4b00 29px,#ff2800 50px,#ff0400 60px,#c00 72px,#980000 100px,#800000 142px)"></i>
<i style="left:354px;top:39px;height:111px;background:linear-gradient(#007dff 0px,#00ecff 2px,#1effe1 3px,#a4ff5b 6px,#daff25 8px,#fcff03 10px,#ff9100 20px,#ff5a00 29px,#ff1b00 60px,#eb0000 72px,#b70000 86px,#930000 111px)"></i>
<i style="left:355px;top:39px;height:142px;background:linear-gradient(#0000bd 0px,#0029ff 1px,#0089ff 2px,#00d7ff 3px,#23ffdc 4px,#64ff9b 5px,#b7ff48 7px,#fdff02 10px,#ff9c00 17px,#ff6100 24px,#ff2d00 50px,#ff0f00 60px,#d90000 72px,#b10000 86px,#8a0000 115px,#800000 142px)"></i>
<i style="left:356px;top:39px;height:142px;background:linear-gradient(#08f 0px,#01fffe 2px,#9bff64 5px,#ecff13 8px,#fff100 10px,#ff9800 17px,#ff6000 24px,#ff2d00 50px,#ff0d00 60px,#b00000 86px,#8a0000 115px,#800000 142px)"></i>
<i style="left:357px;top:39px;height:142px;background:linear-gradient(#0089ff 0px,#00e9ff 2px,#18ffe7 3px,#b5ff4a 7px,#f2ff0d 10px,#ffdc00 14px,#ff7e00 24px,#ff6000 29px,#ff2300 60px,#f50000 72px,#bd0000 86px,#910000 115px,#800000 142px)"></i>
<i style="left:358px;top:39px;height:142px;background:linear-gradient(#0015ff 0px,#00baff 2px,#00fcff 3px,#78ff87 5px,#c3ff3c 7px,#fffb00 10px,#ff9b00 17px,#ff6100 24px,#ff2d00 50px,#ff0f00 60px,#d90000 72px,#b10000 86px,#8a0000 115px,#800000 142px)"></i>
<i style="left:359px;top:39px;height:142px;background:linear-gradient(#0010ff 0px,#00a9ff 2px,#00e9ff 3px,#20ffdf 4px,#8f7 6px,#c9ff36 8px,#f2ff0d 10px,#ffd400 14px,#ff9300 20px,#ff5b00 29px,#ff1c00 60px,#eb0000 72px,#b80000 86px,#8e0000 115px,#800000 142px)"></i>
<i style="left:360px;top:39px;height:142px;background:linear-gradient(#0064ff 0px,#00dcff 2px,#12ffed 3px,#a0ff5f 6px,#d8ff27 8px,#fbff04 10px,#ff8e00 20px,#ff5900 29px,#ff1900 60px,#e70000 72px,#b60000 86px,#8e0000 115px,#800000 142px)"></i>
<i style="left:361px;top:39px;height:142px;background:linear-gradient(#0000dc 0px,#0045ff 1px,#00f1ff 3px,#78ff87 5px,#c6ff39 7px,#fff400 10px,#ffb100 14px,#ff7300 20px,#ff4b00 29px,#ff2800 50px,#ff0300 60px,#c00 72px,#980000 100px,#800000 130px,#800000 142px)"></i>
<i style="left:362px;top:39px;height:142px;background:linear-gradient(#00c6ff 0px,#00fbff 1px,#96ff69 4px,#d9ff26 6px,#fffe00 8px,#ffa500 14px,#ff6b00 20px,#ff4900 29px,#f20 50px,#fb0000 60px,#c70000 72px,#960000 100px,#800000 142px)"></i>
<i style="left:363px;top:39px;height:142px;background:linear-gradient(#0086ff 0px,#03fffc 2px,#a3ff5c 5px,#dfff20 7px,#f2ff0d 8px,#ffcb00 12px,#ff7200 20px,#ff4b00 29px,#ff2700 50px,#ff0300 60px,#c00 72px,#980000 100px,#800000 130px,#800000 142px)"></i>
<i style="left:364px;top:39px;height:142px;background:linear-gradient(#00a0ff 0px,#00e1ff 1px,#1effe1 2px,#93ff6c 4px,#d8ff27 6px,#fffd00 8px,#ff9f00 14px,#ff6400 20px,#ff3e00 35px,#f50000 60px,#c30000 72px,#940000 100px,#800000 142px)"></i>
<i style="left:365px;top:39px;height:142px;background:linear-gradient(#0000e9 0px,#0048ff 1px,#00e4ff 3px,#28ffd7 4px,#6f9 5px,#b9ff46 7px,#fdff02 10px,#ff9e00 17px,#ff6200 24px,#ff2e00 50px,#ff0f00 60px,#da0000 72px,#b10000 86px,#8a0000 115px,#800000 142px)"></i>
<i style="left:366px;top:39px;height:142px;background:linear-gradient(#0000fb 0px,#0af 2px,#00f1ff 3px,#73ff8c 5px,#c1ff3e 7px,#fffb00 10px,#ff9800 17px,#ff5f00 24px,#ff2c00 50px,#ff0b00 60px,#af0000 86px,#890000 115px,#800000 142px)"></i>
<i style="left:367px;top:39px;height:142px;background:linear-gradient(#001bff 0px,#00b9ff 2px,#00faff 3px,#72ff8d 5px,#c0ff3f 7px,#fffe00 10px,#ff9d00 17px,#ff6200 24px,#ff2e00 50px,#ff0f00 60px,#da0000 72px,#b10000 86px,#8a0000 115px,#800000 142px)"></i>
<i style="left:368px;top:39px;height:142px;background:linear-gradient(#00d2ff 0px,#02fffd 1px,#94ff6b 4px,#d7ff28 6px,#feff01 8px,#ff8700 17px,#ff5900 24px,#ff2400 50px,#fe0000 60px,#c90000 72px,#960000 100px,#800000 142px)"></i>
<i style="left:369px;top:39px;height:142px;background:linear-gradient(#006fff 0px,#00f1ff 2px,#2affd5 3px,#98ff67 5px,#d8ff27 7px,#fff000 10px,#ff9200 17px,#ff5d00 24px,#ff3900 42px,#ff2a00 50px,#ff0700 60px,#d00000 72px,#900 100px,#810000 130px,#800000 142px)"></i>
<i style="left:370px;top:39px;height:142px;background:linear-gradient(#0064ff 0px,#00deff 2px,#15ffea 3px,#a5ff5a 6px,#df2 8px,#ff0 10px,#ffa500 17px,#ff6a00 24px,#ff4800 35px,#ff3100 50px,#ff1500 60px,#e10000 72px,#b40000 86px,#8c0000 115px,#800000 142px)"></i>
<i style="left:371px;top:39px;height:142px;background:linear-gradient(#00ecff 0px,#07fff8 1px,#8fff70 7px,#d8ff27 10px,#f7ff08 12px,#ff9d00 24px,#ff5e00 35px,#ff2e00 60px,#ff0900 72px,#ca0000 86px,#960000 115px,#810000 142px)"></i>
<i style="left:372px;top:39px;height:142px;background:linear-gradient(#00cfff 0px,#00f2ff 1px,#28ffd7 3px,#beff41 8px,#fffe00 12px,#ff8f00 24px,#ff6e00 29px,#ff4800 42px,#ff2a00 60px,#f00 72px,#c40000 86px,#930000 115px,#800000 142px)"></i>
<i style="left:373px;top:39px;height:142px;background:linear-gradient(#00acff 0px,#00fbff 2px,#c5ff3a 8px,#ebff14 10px,#fffa00 12px,#ff8600 24px,#ff6700 29px,#ff2700 60px,#fa0000 72px,#c10000 86px,#920000 115px,#800000 142px)"></i>
<i style="left:374px;top:39px;height:142px;background:linear-gradient(#00e4ff 0px,#02fffd 1px,#8eff71 7px,#d8ff27 10px,#f7ff08 12px,#ff9c00 24px,#ff5e00 35px,#ff2e00 60px,#ff0800 72px,#ca0000 86px,#960000 115px,#810000 142px)"></i>
<i style="left:375px;top:39px;height:142px;background:linear-gradient(#0ffff0 0px,#6bff94 4px,#c7ff38 7px,#fbff04 10px,#ff7b00 24px,#ff5f00 29px,#ff2100 60px,#f20000 72px,#b00 86px,#900000 115px,#800000 142px)"></i>
<i style="left:376px;top:39px;height:142px;background:linear-gradient(#2cffd3 0px,#5cffa3 2px,#c1ff3e 5px,#feff01 8px,#ff7b00 20px,#ff6000 24px,#ff2c00 50px,#ff0d00 60px,#b00000 86px,#8a0000 115px,#800000 142px)"></i>
<i style="left:377px;top:39px;height:142px;background:linear-gradient(#3fc 0px,#82ff7d 3px,#cbff34 5px,#fffd00 8px,#ff9300 17px,#ff5e00 24px,#ff2b00 50px,#ff0b00 60px,#af0000 86px,#890000 115px,#800000 142px)"></i>
<i style="left:378px;top:39px;height:142px;background:linear-gradient(#36ffc9 0px,#7bff84 3px,#d7ff28 6px,#fbff04 8px,#ff8300 20px,#ff6700 24px,#ff4800 35px,#ff3000 50px,#ff1400 60px,#e00000 72px,#b30000 86px,#8c0000 115px,#800000 142px)"></i>
<i style="left:379px;top:39px;height:142px;background:linear-gradient(#3cffc3 0px,#84ff7b 3px,#c8ff37 5px,#ff0 8px,#ff7f00 20px,#ff6400 24px,#ff1200 60px,#de0000 72px,#b30000 86px,#8c0000 115px,#800000 142px)"></i>
<i style="left:380px;top:39px;height:142px;background:linear-gradient(#41ffbe 0px,#82ff7d 3px,#d9ff26 6px,#fcff03 8px,#ff8700 20px,#ff6a00 24px,#ff4900 35px,#ff1700 60px,#e50000 72px,#b50000 86px,#8d0000 115px,#800000 142px)"></i>
<i style="left:381px;top:39px;height:142px;background:linear-gradient(#45ffba 0px,#a1ff5e 4px,#eaff15 7px,#faff05 8px,#ff8b00 20px,#ff5900 29px,#ff1b00 60px,#ea0000 72px,#b70000 86px,#8e0000 115px,#800000 142px)"></i>
<i style="left:382px;top:39px;height:142px;background:linear-gradient(#4bffb4 0px,#8f7 3px,#dbff24 6px,#fbff04 8px,#ff8c00 20px,#ff5900 29px,#ff1c00 60px,#eb0000 72px,#b80000 86px,#8f0000 115px,#800000 142px)"></i>
<i style="left:383px;top:39px;height:47px;background:linear-gradient(#4fffb0 0px,#a3ff5c 4px,#e7ff18 7px,#f8ff07 8px,#ff7600 24px,#ff4d00 35px,#ff3c00 47px)"></i>
<i style="left:384px;top:39px;height:142px;background:linear-gradient(#56ffa9 0px,#9eff61 3px,#d6ff29 5px,#fffc00 8px,#f80 20px,#ff5900 29px,#ff1c00 60px,#ec0000 72px,#b80000 86px,#8f0000 115px,#800000 142px)"></i>
<i style="left:385px;top:39px;height:137px;background:linear-gradient(#5fffa0 0px,#67ff98 1px,#d6ff29 4px,#fffb00 7px,#ff7f00 20px,#f50 29px,#ff1800 60px,#e70000 72px,#b60000 86px,#8e0000 115px,#800000 137px)"></i>
<i style="left:386px;top:39px;height:126px;background:linear-gradient(#87ff78 0px,#8fff70 1px,#e7ff18 3px,#fffa00 4px,#ff8100 14px,#ff5a00 20px,#ff1800 50px,#f00000 60px,#c10000 72px,#940000 100px,#810000 126px)"></i>
<i style="left:387px;top:39px;height:110px;background:linear-gradient(#85ff7a 0px,#96ff69 2px,#d7ff28 3px,#fcff03 4px,#ffb000 10px,#ff7000 17px,#ff5100 24px,#ff2100 50px,#fc0000 60px,#c80000 72px,#970000 100px,#8d0000 110px)"></i>
<i style="left:388px;top:39px;height:126px;background:linear-gradient(#8aff75 0px,#98ff67 2px,#f6ff09 4px,#ffc200 8px,#ff6e00 17px,#ff4800 29px,#f20 50px,#fd0000 60px,#ca0000 72px,#980000 100px,#830000 126px)"></i>
<i style="left:389px;top:39px;height:137px;background:linear-gradient(#90ff6f 0px,#a1ff5e 3px,#e6ff19 4px,#fff200 5px,#ffd400 6px,#ff6e00 17px,#ff4800 29px,#ff2500 50px,#ff0200 60px,#c00 72px,#900 100px,#800000 137px)"></i>
<i style="left:390px;top:39px;height:142px;background:linear-gradient(#98ff67 0px,#a7ff58 3px,#fffb00 5px,#ffc300 7px,#ff6c00 17px,#ff4800 29px,#ff2600 50px,#ff0300 60px,#ce0000 72px,#9a0000 100px,#800000 142px)"></i>
<i style="left:391px;top:39px;height:142px;background:linear-gradient(#94ff6b 0px,#9eff61 4px,#e7ff18 5px,#ffec00 6px,#ffc800 7px,#ff7400 17px,#ff5700 24px,#ff2c00 50px,#ff0f00 60px,#dc0000 72px,#b40000 86px,#8e0000 115px,#800000 142px)"></i>
<i style="left:392px;top:39px;height:142px;background:linear-gradient(#a1ff5e 0px,#acff53 4px,#fff200 6px,#ffa900 8px,#ff6900 17px,#ff4900 29px,#ff2a00 50px,#ff0900 60px,#b20000 86px,#8d0000 115px,#800000 142px)"></i>
<i style="left:393px;top:39px;height:142px;background:linear-gradient(#9bff64 0px,#9eff61 5px,#f8ff07 6px,#ffa300 8px,#ff6700 17px,#ff4300 35px,#ff2c00 50px,#ff1000 60px,#df0000 72px,#b50000 86px,#850000 130px,#800000 142px)"></i>
<i style="left:394px;top:39px;height:142px;background:linear-gradient(#abff54 0px,#b4ff4b 5px,#e2ff1d 6px,#ffd900 7px,#ffa000 8px,#ff7a00 10px,#ff5300 20px,#ff2500 50px,#ff0400 60px,#d20000 72px,#9c0000 100px,#800000 142px)"></i>
<i style="left:395px;top:39px;height:142px;background:linear-gradient(#9eff61 0px,#94ff6b 6px,#fffb00 7px,#ffba00 8px,#ff7800 10px,#ff4e00 24px,#ff2c00 50px,#f10 60px,#e30000 72px,#b70000 86px,#860000 130px,#810000 142px)"></i>
<i style="left:396px;top:39px;height:142px;background:linear-gradient(#baff45 0px,#c5ff3a 6px,#f7ff08 7px,#fb0 8px,#ff6000 10px,#ff1b00 50px,#f90000 60px,#ca0000 72px,#9b0000 100px,#800000 142px)"></i>
<i style="left:397px;top:39px;height:142px;background:linear-gradient(#d4ff2b 0px,#e9ff16 7px,#ffc600 8px,#ff5600 10px,#ff1f00 42px,#ff0600 50px,#b00 72px,#800 115px,#800000 142px)"></i>
<i style="left:398px;top:39px;height:142px;background:linear-gradient(#ceff31 0px,#dcff23 7px,#ffe000 8px,#ff5b00 10px,#ff4800 17px,#ff2500 42px,#ff0e00 50px,#e90000 60px,#c00000 72px,#8a0000 115px,#800000 142px)"></i>
<i style="left:399px;top:39px;height:142px;background:linear-gradient(#e0ff1f 0px,#feff01 7px,#ff5400 10px,#ff1000 42px,#f30000 50px,#cb0000 60px,#9e0000 86px,#800000 130px,#800000 142px)"></i>
<i style="left:400px;top:39px;height:142px;background:linear-gradient(#e1ff1e 0px,#ff0 7px,#ff5300 10px,#ff0d00 42px,#f00000 50px,#ca0000 60px,#9d0000 86px,#800000 130px,#800000 142px)"></i>
<i style="left:401px;top:39px;height:142px;background:linear-gradient(#d7ff28 0px,#ecff13 7px,#ffd500 8px,#ff5800 10px,#ff4600 17px,#ff1b00 42px,#ff0200 50px,#b90000 72px,#800 115px,#800000 142px)"></i>
<i style="left:402px;top:39px;height:142px;background:linear-gradient(#c7ff38 0px,#d3ff2c 7px,#ffe600 8px,#ff5d00 10px,#ff4900 17px,#ff2a00 42px,#f00000 60px,#c50000 72px,#8c0000 115px,#800000 142px)"></i>
<i style="left:403px;top:39px;height:142px;background:linear-gradient(#b0ff4f 0px,#a3ff5c 7px,#fff800 8px,#ff6400 10px,#ff4d00 17px,#ff2400 50px,#ff0500 60px,#b40000 86px,#860000 130px,#810000 142px)"></i>
<i style="left:404px;top:39px;height:142px;background:linear-gradient(#d2ff2d 0px,#e1ff1e 7px,#fd0 8px,#ff5a00 10px,#ff4b00 14px,#f20 42px,#ff0a00 50px,#be0000 72px,#890000 115px,#800000 142px)"></i>
<i style="left:405px;top:39px;height:142px;background:linear-gradient(#c3ff3c 0px,#cbff34 7px,#ffe900 8px,#ff5d00 10px,#ff4a00 17px,#ff2b00 42px,#f30000 60px,#c60000 72px,#8c0000 115px,#800000 142px)"></i>
<i style="left:406px;top:39px;height:142px;background:linear-gradient(#d0ff2f 0px,#dfff20 7px,#ffde00 8px,#ff5a00 10px,#ff4b00 14px,#f20 42px,#ff0a00 50px,#be0000 72px,#890000 115px,#800000 142px)"></i>
<i style="left:407px;top:39px;height:142px;background:linear-gradient(#e1ff1e 0px,#feff01 7px,#ff5200 10px,#ff0c00 42px,#e00 50px,#c80000 60px,#8f0000 100px,#800000 142px)"></i>
<i style="left:408px;top:39px;height:142px;background:linear-gradient(#cf3 0px,#d9ff26 7px,#ffe100 8px,#ff5b00 10px,#ff4b00 14px,#ff2400 42px,#ff0b00 50px,#be0000 72px,#890000 115px,#800000 142px)"></i>
<i style="left:409px;top:39px;height:142px;background:linear-gradient(#e0ff1f 0px,#feff01 7px,#ff5200 10px,#ff1f00 35px,#ff0900 42px,#c50000 60px,#8d0000 100px,#800000 142px)"></i>
<i style="left:410px;top:39px;height:119px;background:linear-gradient(#df2 0px,#faff05 7px,#ff5300 10px,#ff1a00 35px,#fe0000 42px,#ba0000 60px,#870000 100px,#800000 119px)"></i>
<i style="left:411px;top:39px;height:114px;background:linear-gradient(#daff25 0px,#f3ff0c 7px,#ffcf00 8px,#ff5400 10px,#ff1a00 35px,#fe0000 42px,#b80000 60px,#860000 100px,#800000 114px)"></i>
<i style="left:412px;top:39px;height:114px;background:linear-gradient(#d1ff2e 0px,#e0ff1f 7px,#ffdb00 8px,#ff5700 10px,#ff4500 17px,#ff2400 35px,#ff0b00 42px,#bf0000 60px,#940000 86px,#800000 114px)"></i>
<i style="left:413px;top:39px;height:116px;background:linear-gradient(#c1ff3e 0px,#c6ff39 7px,#ffe800 8px,#ff5b00 10px,#ff4b00 14px,#ff2d00 35px,#f60000 50px,#c90000 60px,#980000 86px,#800000 116px)"></i>
<i style="left:414px;top:39px;height:116px;background:linear-gradient(#b2ff4d 0px,#a7ff58 7px,#fff400 8px,#ff5f00 10px,#ff4900 17px,#ff2100 42px,#ff0200 50px,#d20000 60px,#b10000 72px,#8a0000 100px,#810000 116px)"></i>
<i style="left:415px;top:39px;height:115px;background:linear-gradient(#d4ff2b 0px,#e5ff1a 7px,#ffd700 8px,#ff5600 10px,#ff4300 17px,#ff1e00 35px,#ff0300 42px,#b90000 60px,#850000 100px,#800000 115px)"></i>
<i style="left:416px;top:39px;height:113px;background:linear-gradient(#c6ff39 0px,#d1ff2e 7px,#ffe400 8px,#ff5900 10px,#ff4a00 14px,#ff2800 35px,#ff0e00 42px,#e90000 50px,#bf0000 60px,#930000 86px,#800000 113px)"></i>
<i style="left:417px;top:39px;height:111px;background:linear-gradient(#c5ff3a 0px,#d0ff2f 7px,#ffe400 8px,#ff5900 10px,#ff4900 14px,#ff2600 35px,#ff0c00 42px,#bd0000 60px,#910000 86px,#800000 111px)"></i>
<i style="left:418px;top:39px;height:109px;background:linear-gradient(#d6ff29 0px,#ebff14 7px,#ffd200 8px,#ff5400 10px,#ff1400 35px,#f40000 42px,#cb0000 50px,#9b0000 72px,#800000 109px)"></i>
<i style="left:419px;top:39px;height:106px;background:linear-gradient(#c7ff38 0px,#d3ff2c 7px,#ffe200 8px,#ff5800 10px,#ff4900 14px,#ff2000 35px,#ff0300 42px,#b50000 60px,#8c0000 86px,#800000 106px)"></i>
<i style="left:420px;top:39px;height:101px;background:linear-gradient(#d4ff2b 0px,#e6ff19 7px,#ffd500 8px,#ff5400 10px,#ff2800 29px,#ff1000 35px,#ed0000 42px,#c50000 50px,#970000 72px,#800000 101px)"></i>
<i style="left:421px;top:39px;height:98px;background:linear-gradient(#d9ff26 0px,#f0ff0f 7px,#ffce00 8px,#ff5100 10px,#ff2100 29px,#ff0600 35px,#bc0000 50px,#930000 72px,#800000 98px)"></i>
<i style="left:422px;top:39px;height:97px;background:linear-gradient(#dbff24 0px,#f6ff09 7px,#ff5000 10px,#ff1c00 29px,#fe0000 35px,#b70000 50px,#900000 72px,#800000 97px)"></i>
<i style="left:423px;top:39px;height:96px;background:linear-gradient(#d0ff2f 0px,#deff21 7px,#ffd900 8px,#f50 10px,#ff3c00 20px,#ff0e00 35px,#e70000 42px,#c00000 50px,#940000 72px,#800000 96px)"></i>
<i style="left:424px;top:39px;height:94px;background:linear-gradient(#c4ff3b 0px,#ceff31 7px,#ffe300 8px,#ff5700 10px,#ff3e00 20px,#ff1400 35px,#ef0000 42px,#c40000 50px,#950000 72px,#800000 94px)"></i>
<i style="left:425px;top:39px;height:93px;background:linear-gradient(#cfff30 0px,#df2 7px,#ffda00 8px,#ff5400 10px,#ff2400 29px,#ff0900 35px,#bc0000 50px,#910000 72px,#800000 93px)"></i>
<i style="left:426px;top:39px;height:92px;background:linear-gradient(#c6ff39 0px,#d2ff2d 7px,#ffe100 8px,#ff5600 10px,#ff3c00 20px,#ff0f00 35px,#e70000 42px,#bf0000 50px,#920000 72px,#800000 92px)"></i>
<i style="left:427px;top:39px;height:91px;background:linear-gradient(#a2ff5d 0px,#85ff7a 7px,#fffe00 8px,#ff5f00 10px,#ff4c00 14px,#ff2800 35px,#ff0800 42px,#b20000 60px,#870000 86px,#840000 91px)"></i>
<i style="left:428px;top:39px;height:90px;background:linear-gradient(#b5ff4a 0px,#adff52 7px,#fe0 8px,#ff5a00 10px,#ff4900 14px,#ff1800 35px,#f30000 42px,#c50000 50px,#930000 72px,#810000 90px)"></i>
<i style="left:429px;top:39px;height:89px;background:linear-gradient(#d7ff28 0px,#ecff13 7px,#ffce00 8px,#ff5000 10px,#ff1700 29px,#f50000 35px,#ca0000 42px,#9b0000 60px,#800000 89px)"></i>
<i style="left:430px;top:39px;height:87px;background:linear-gradient(#d8ff27 0px,#edff12 7px,#ffc800 8px,#ff4e00 10px,#ff1500 29px,#f30000 35px,#c80000 42px,#9a0000 60px,#800000 87px)"></i>
<i style="left:431px;top:39px;height:86px;background:linear-gradient(#deff21 0px,#f4ff0b 7px,#ffb900 8px,#ff4b00 10px,#ff2a00 24px,#ff1200 29px,#ef0000 35px,#c60000 42px,#900 60px,#800000 86px)"></i>
<i style="left:432px;top:39px;height:85px;background:linear-gradient(#e9ff16 0px,#fffc00 7px,#ffa300 8px,#ff4800 10px,#f20 24px,#ff0800 29px,#bd0000 42px,#860000 72px,#800000 85px)"></i>
<i style="left:433px;top:39px;height:84px;background:linear-gradient(#d3ff2c 0px,#d5ff2a 7px,#ffba00 8px,#ff4c00 10px,#ff2400 29px,#ff0900 35px,#b80000 50px,#8d0000 72px,#820000 84px)"></i>
<i style="left:434px;top:39px;height:82px;background:linear-gradient(#e4ff1b 0px,#f2ff0d 6px,#fffe00 7px,#ff9c00 8px,#ff4900 10px,#ff2a00 24px,#f10000 35px,#c60000 42px,#900 60px,#800000 82px)"></i>
<i style="left:435px;top:39px;height:45px;background:linear-gradient(#deff21 0px,#e1ff1e 6px,#ff0 7px,#ff9e00 8px,#ff4b00 10px,#ff1d00 29px,#f00 35px,#c50000 45px)"></i>
<i style="left:436px;top:39px;height:80px;background:linear-gradient(#e6ff19 0px,#edff12 6px,#ffed00 7px,#ff8f00 8px,#ff4900 10px,#ff2c00 24px,#f70000 35px,#cb0000 42px,#9a0000 60px,#830000 80px)"></i>
<i style="left:437px;top:39px;height:79px;background:linear-gradient(#ff0 0px,#fff700 6px,#ff6300 8px,#ff4700 10px,#ff2600 24px,#ff0f00 29px,#ec0000 35px,#c30000 42px,#970000 60px,#820000 79px)"></i>
<i style="left:438px;top:39px;height:77px;background:linear-gradient(#ffde00 0px,#ffd200 5px,#ff5c00 7px,#ff4800 8px,#ff2a00 20px,#f90000 29px,#d00000 35px,#a20000 50px,#800000 77px)"></i>
<i style="left:439px;top:39px;height:76px;background:linear-gradient(#ffc600 0px,#ffbe00 4px,#ff5c00 6px,#ff4900 7px,#ff1600 24px,#fa0000 29px,#d30000 35px,#a30000 50px,#820000 76px)"></i>
<i style="left:440px;top:39px;height:74px;background:linear-gradient(#ffab00 0px,#ffa700 3px,#ff5b00 5px,#ff4500 7px,#ff2600 20px,#f60000 29px,#d00000 35px,#a20000 50px,#830000 74px)"></i>
<i style="left:441px;top:39px;height:73px;background:linear-gradient(#ff8b00 0px,#f80 2px,#ff5400 4px,#ff4000 8px,#ff1b00 20px,#ff0600 24px,#c30000 35px,#8d0000 60px,#820000 73px)"></i>
<i style="left:442px;top:39px;height:71px;background:linear-gradient(#ff7100 0px,#ff7000 1px,#ff4800 4px,#ff1a00 20px,#ff0500 24px,#c40000 35px,#8d0000 60px,#830000 71px)"></i>
<i style="left:443px;top:39px;height:69px;background:linear-gradient(#ff5e00 0px,#f40 5px,#ff1d00 20px,#ff0b00 24px,#ef0000 29px,#ca0000 35px,#9f0000 50px,#860000 69px)"></i>
<i style="left:444px;top:39px;height:67px;background:linear-gradient(#ff4b00 0px,#ff2600 14px,#ff0500 20px,#c90000 29px,#940000 50px,#820000 67px)"></i>
<i style="left:445px;top:39px;height:63px;background:linear-gradient(#ff4600 0px,#ff1b00 14px,#f60000 20px,#bf0000 29px,#900000 50px,#830000 63px)"></i>
<i style="left:446px;top:39px;height:62px;background:linear-gradient(#ff3f00 0px,#ff1500 12px,#f60000 17px,#c80000 24px,#980000 42px,#820000 62px)"></i>
<i style="left:447px;top:39px;height:61px;background:linear-gradient(#ff3800 0px,#ff0b00 12px,#f00 14px,#c40000 24px,#980000 42px,#830000 61px)"></i>
<i style="left:448px;top:39px;height:60px;background:linear-gradient(#ff2f00 0px,#f70000 12px,#b80000 24px,#890000 50px,#820000 60px)"></i>
<i style="left:449px;top:39px;height:58px;background:linear-gradient(#ff2900 0px,#f70000 10px,#c10000 20px,#930000 42px,#830000 58px)"></i>
<i style="left:450px;top:39px;height:56px;background:linear-gradient(#ff1f00 0px,#f80000 8px,#bd0000 20px,#890000 50px,#840000 56px)"></i>
<i style="left:451px;top:39px;height:54px;background:linear-gradient(#ff1400 0px,#f40000 6px,#bc0000 17px,#8d0000 42px,#830000 54px)"></i>
<i style="left:452px;top:39px;height:52px;background:linear-gradient(#ff0800 0px,#e00000 7px,#b60000 17px,#8a0000 42px,#830000 52px)"></i>
<i style="left:453px;top:39px;height:50px;background:linear-gradient(#fc0000 0px,#bf0000 12px,#920000 35px,#830000 50px)"></i>
<i style="left:454px;top:39px;height:48px;background:linear-gradient(#ea0000 0px,#b70000 10px,#800 35px,#800000 48px)"></i>
<i style="left:455px;top:39px;height:46px;background:linear-gradient(#e30000 0px,#b30000 12px,#860000 42px,#830000 46px)"></i>
<i style="left:456px;top:39px;height:42px;background:linear-gradient(#d70000 0px,#a90000 14px,#830000 42px)"></i>
<i style="left:457px;top:39px;height:38px;background:linear-gradient(#cb0000 0px,#980000 20px,#830000 38px)"></i>
<i style="left:458px;top:39px;height:34px;background:linear-gradient(#c30000 0px,#910000 20px,#820000 34px)"></i>
<i style="left:459px;top:39px;height:28px;background:linear-gradient(#bd0000 0px,#800 24px,#850000 28px)"></i>
<i style="left:460px;top:39px;height:21px;background:linear-gradient(#b60000 0px,#870000 21px)"></i>
<i style="left:461px;top:39px;height:16px;background:linear-gradient(#b80000 0px,#8b0000 16px)"></i>
<i style="left:462px;top:39px;height:23px;background:linear-gradient(#c50000 0px,#920000 17px,#800 23px)"></i>
<i style="left:463px;top:39px;height:32px;background:linear-gradient(#d70000 0px,#a80000 12px,#860000 32px)"></i>
<i style="left:464px;top:39px;height:38px;background:linear-gradient(#e80000 0px,#b90000 8px,#8a0000 29px,#820000 38px)"></i>
<i style="left:465px;top:39px;height:42px;background:linear-gradient(#fd0000 0px,#bf0000 10px,#800 35px,#820000 42px)"></i>
<i style="left:466px;top:39px;height:44px;background:linear-gradient(#ff2100 0px,#f60000 5px,#c50000 12px,#960000 29px,#830000 44px)"></i>
<i style="left:467px;top:39px;height:46px;background:linear-gradient(#ff5200 0px,#ff0700 8px,#ba0000 20px,#860000 46px)"></i>
<i style="left:468px;top:39px;height:47px;background:linear-gradient(#ff7800 0px,#ff4100 4px,#fc0000 12px,#c20000 20px,#960000 35px,#850000 47px)"></i>
<i style="left:469px;top:39px;height:49px;background:linear-gradient(#ff9f00 0px,#ff6700 3px,#ff3d00 8px,#f90000 20px,#c10000 29px,#8e0000 49px)"></i>
<i style="left:470px;top:39px;height:50px;background:linear-gradient(#ffb200 0px,#ff7300 3px,#ff4900 8px,#fd0000 24px,#bd0000 35px,#950000 50px)"></i>
<i style="left:471px;top:39px;height:51px;background:linear-gradient(#ffb400 0px,#ff7400 3px,#ff4b00 8px,#ff1700 20px,#fd0000 24px,#b80000 35px,#900000 51px)"></i>
<i style="left:472px;top:39px;height:51px;background:linear-gradient(#ffbc00 0px,#ff8a00 2px,#ff5900 6px,#ff1a00 20px,#fe0000 24px,#d60000 29px,#b60000 35px,#8e0000 51px)"></i>
<i style="left:473px;top:39px;height:52px;background:linear-gradient(#fc0 0px,#ff7e00 3px,#f50 7px,#ff1a00 20px,#fc0000 24px,#d00000 29px,#9d0000 42px,#890000 52px)"></i>
<i style="left:474px;top:39px;height:53px;background:linear-gradient(#ffde00 0px,#ff8c00 3px,#ff6300 6px,#ff3d00 14px,#ff0b00 24px,#b90000 35px,#8b0000 53px)"></i>
<i style="left:475px;top:39px;height:54px;background:linear-gradient(#fd0 0px,#ff8c00 3px,#ff6200 6px,#ff3c00 14px,#ff0700 24px,#b50000 35px,#890000 54px)"></i>
<i style="left:476px;top:39px;height:54px;background:linear-gradient(#ffe000 0px,#ff8f00 3px,#ff6300 6px,#ff3d00 14px,#ff2500 20px,#ff0800 24px,#b60000 35px,#890000 54px)"></i>
<i style="left:477px;top:39px;height:55px;background:linear-gradient(#fff400 0px,#ffa400 3px,#ff6500 7px,#ff4500 14px,#ff2300 24px,#ff0400 29px,#d30000 35px,#9b0000 50px,#920000 55px)"></i>
<i style="left:478px;top:39px;height:56px;background:linear-gradient(#fffa00 0px,#ffab00 3px,#ff6900 7px,#ff4700 14px,#ff2900 24px,#ff0a00 29px,#b50000 42px,#920000 56px)"></i>
<i style="left:479px;top:39px;height:57px;background:linear-gradient(#faff05 0px,#ff9200 5px,#ff6800 8px,#ff4900 14px,#ff1700 29px,#e00 35px,#be0000 42px,#950000 57px)"></i>
<i style="left:480px;top:39px;height:59px;background:linear-gradient(#fcff03 0px,#ff8d00 5px,#ff6400 8px,#ff4000 17px,#ff2a00 24px,#ff0d00 29px,#b60000 42px,#8e0000 59px)"></i>
<i style="left:481px;top:39px;height:60px;background:linear-gradient(#f6ff09 0px,#ffa100 4px,#ff6400 8px,#ff3f00 17px,#ff2900 24px,#ff0900 29px,#b50000 42px,#8c0000 60px)"></i>
<i style="left:482px;top:39px;height:61px;background:linear-gradient(#efff10 0px,#fff100 1px,#ffa500 4px,#f60 8px,#ff4800 14px,#ff2a00 24px,#ff0b00 29px,#b60000 42px,#8b0000 61px)"></i>
<i style="left:483px;top:39px;height:62px;background:linear-gradient(#e7ff18 0px,#fff700 1px,#fa0 4px,#ff6800 8px,#ff4900 14px,#ff2b00 24px,#ff0d00 29px,#b70000 42px,#8b0000 62px)"></i>
<i style="left:484px;top:39px;height:64px;background:linear-gradient(#e1ff1e 0px,#fffd00 1px,#f90 5px,#ff6a00 8px,#ff4900 14px,#ff2b00 24px,#ff0e00 29px,#df0000 35px,#b80000 42px,#890000 64px)"></i>
<i style="left:485px;top:39px;height:65px;background:linear-gradient(#d2ff2d 0px,#f2ff0d 1px,#ffd400 3px,#ff8400 7px,#ff5600 12px,#ff1d00 29px,#f60000 35px,#c60000 42px,#960000 60px,#8d0000 65px)"></i>
<i style="left:486px;top:39px;height:66px;background:linear-gradient(#c9ff36 0px,#fff700 2px,#ff9b00 6px,#ff6400 10px,#ff4600 17px,#ff2100 29px,#fc0000 35px,#cb0000 42px,#980000 60px,#8e0000 66px)"></i>
<i style="left:487px;top:39px;height:67px;background:linear-gradient(#b2ff4d 0px,#efff10 2px,#fff600 3px,#ffa500 7px,#f60 12px,#ff4700 20px,#ff1e00 35px,#f40000 42px,#c20000 50px,#960000 67px)"></i>
<i style="left:488px;top:39px;height:70px;background:linear-gradient(#9cff63 0px,#e0ff1f 2px,#faff05 3px,#ffa200 8px,#ff6000 14px,#ff2800 35px,#ff0200 42px,#c00 50px,#960000 70px)"></i>
<i style="left:489px;top:39px;height:72px;background:linear-gradient(#8aff75 0px,#d8ff27 2px,#f4ff0b 3px,#ffd800 5px,#ff8200 10px,#ff5e00 14px,#ff2000 35px,#f80000 42px,#c70000 50px,#920000 72px)"></i>
<i style="left:490px;top:39px;height:75px;background:linear-gradient(#5effa1 0px,#95ff6a 1px,#faff05 4px,#ffac00 8px,#ff6200 14px,#ff3700 29px,#ff2700 35px,#ff0300 42px,#cf0000 50px,#950000 72px,#910000 75px)"></i>
<i style="left:491px;top:39px;height:78px;background:linear-gradient(#82ff7d 0px,#b3ff4c 1px,#f1ff0e 3px,#ffd900 5px,#ff8000 10px,#ff5c00 14px,#ff1800 35px,#f10000 42px,#c30000 50px,#920000 72px,#890000 78px)"></i>
<i style="left:492px;top:39px;height:81px;background:linear-gradient(#73ff8c 0px,#a8ff57 1px,#ecff13 3px,#fff600 4px,#ff9d00 8px,#f60 12px,#ff4500 20px,#ff2e00 29px,#ff1200 35px,#ea0000 42px,#c00000 50px,#910000 72px,#870000 81px)"></i>
<i style="left:493px;top:39px;height:80px;background:linear-gradient(#00f0ff 0px,#42ffbd 1px,#81ff7e 2px,#faff05 5px,#ffb400 8px,#ff7300 12px,#ff5000 17px,#ff1a00 35px,#f40000 42px,#c50000 50px,#930000 72px,#800 80px)"></i>
<i style="left:494px;top:39px;height:77px;background:linear-gradient(#4fffb0 0px,#8cff73 1px,#baff45 2px,#f4ff0b 4px,#ffdb00 6px,#ff9300 10px,#ff6400 14px,#ff4200 24px,#ff2600 35px,#ff0200 42px,#ce0000 50px,#ad0000 60px,#8e0000 77px)"></i>
<i style="left:495px;top:39px;height:74px;background:linear-gradient(#1bffe4 0px,#65ff9a 1px,#9bff64 2px,#feff01 5px,#ffb900 8px,#f60 14px,#ff4300 24px,#ff2700 35px,#ff0200 42px,#cd0000 50px,#ac0000 60px,#910000 74px)"></i>
<i style="left:496px;top:39px;height:71px;background:linear-gradient(#45ffba 0px,#84ff7b 1px,#d8ff27 3px,#f8ff07 4px,#ffa400 8px,#ff6900 12px,#ff4500 20px,#ff2d00 29px,#f10 35px,#e30000 42px,#b90000 50px,#8d0000 71px)"></i>
<i style="left:497px;top:39px;height:68px;background:linear-gradient(#1fffe0 0px,#6aff95 1px,#a1ff5e 2px,#e7ff18 4px,#fffa00 5px,#ffb200 8px,#ff7500 12px,#ff5200 17px,#ff1c00 35px,#f20000 42px,#c00000 50px,#940000 68px)"></i>
<i style="left:498px;top:39px;height:67px;background:linear-gradient(#0bfff4 0px,#58ffa7 1px,#92ff6d 2px,#e3ff1c 4px,#fffa00 5px,#ffac00 8px,#ff6d00 12px,#ff4600 20px,#ff1300 35px,#e40000 42px,#b80000 50px,#920000 67px)"></i>
<i style="left:499px;top:39px;height:66px;background:linear-gradient(#75ff8a 0px,#ceff31 2px,#fff700 4px,#ffa000 8px,#ff6a00 12px,#ff4600 20px,#ff1600 35px,#e90000 42px,#ba0000 50px,#940000 66px)"></i>
<i style="left:500px;top:39px;height:65px;background:linear-gradient(#80ff7f 0px,#d4ff2b 2px,#f2ff0d 3px,#ffd700 5px,#ff7d00 10px,#ff5a00 14px,#ff1400 35px,#e60000 42px,#b80000 50px,#950000 65px)"></i>
<i style="left:501px;top:39px;height:65px;background:linear-gradient(#a2ff5d 0px,#e8ff17 2px,#fffa00 3px,#ff9100 8px,#ff6200 12px,#ff3b00 24px,#f10 35px,#e10000 42px,#b60000 50px,#940000 65px)"></i>
<i style="left:502px;top:39px;height:65px;background:linear-gradient(#afff50 0px,#ecff13 2px,#fff900 3px,#ff9a00 8px,#ff5d00 14px,#ff2300 35px,#fa0000 42px,#c50000 50px,#9a0000 65px)"></i>
<i style="left:503px;top:39px;height:64px;background:linear-gradient(#c0ff3f 0px,#f8ff07 2px,#ff9300 8px,#f60 12px,#ff4800 20px,#ff2300 35px,#fa0000 42px,#c50000 50px,#9b0000 64px)"></i>
<i style="left:504px;top:39px;height:64px;background:linear-gradient(#e0ff1f 0px,#fffe00 1px,#ff9e00 5px,#ff7100 8px,#ff4c00 14px,#ff1f00 29px,#fa0000 35px,#c90000 42px,#970000 60px,#900000 64px)"></i>
<i style="left:505px;top:39px;height:64px;background:linear-gradient(#ef1 0px,#fff100 1px,#ffa800 4px,#ff6c00 8px,#ff4b00 14px,#ff1e00 29px,#fa0000 35px,#ca0000 42px,#900000 64px)"></i>
<i style="left:506px;top:39px;height:63px;background:linear-gradient(#fffb00 0px,#ffa900 3px,#ff6800 7px,#ff4700 14px,#ff2a00 24px,#ff0e00 29px,#e30000 35px,#b00 42px,#8c0000 63px)"></i>
<i style="left:507px;top:39px;height:63px;background:linear-gradient(#ffec00 0px,#ff9c00 3px,#ff6400 7px,#f40 14px,#ff2500 24px,#ff0700 29px,#b70000 42px,#8b0000 63px)"></i>
<i style="left:508px;top:39px;height:62px;background:linear-gradient(#ffde00 0px,#ff9000 3px,#f60 6px,#ff4100 14px,#ff1c00 24px,#fa0000 29px,#c00 35px,#9d0000 50px,#890000 62px)"></i>
<i style="left:509px;top:39px;height:61px;background:linear-gradient(#ffd500 0px,#ff8900 3px,#ff5b00 7px,#ff1900 24px,#f70000 29px,#c90000 35px,#9c0000 50px,#8a0000 61px)"></i>
<i style="left:510px;top:39px;height:61px;background:linear-gradient(#ffc700 0px,#ff8000 3px,#ff5200 8px,#ff1700 24px,#f60000 29px,#ca0000 35px,#9c0000 50px,#8a0000 61px)"></i>
<i style="left:511px;top:39px;height:60px;background:linear-gradient(#fb0 0px,#ff7b00 3px,#ff5200 8px,#ff1d00 24px,#f00 29px,#d60000 35px,#b60000 42px,#8f0000 60px)"></i>
<i style="left:512px;top:39px;height:59px;background:linear-gradient(#ffad00 0px,#ff7500 3px,#ff5000 8px,#ff1c00 24px,#ff0100 29px,#b60000 42px,#910000 59px)"></i>
<i style="left:513px;top:39px;height:58px;background:linear-gradient(#ff9c00 0px,#ff6300 4px,#ff3100 17px,#f60000 29px,#cd0000 35px,#9e0000 50px,#900000 58px)"></i>
<i style="left:514px;top:39px;height:58px;background:linear-gradient(#ff8b00 0px,#ff5b00 4px,#ff0e00 24px,#e00 29px,#c80000 35px,#8f0000 58px)"></i>
<i style="left:515px;top:39px;height:57px;background:linear-gradient(#ff7400 0px,#ff4a00 6px,#ff1500 20px,#fc0000 24px,#b00 35px,#8c0000 57px)"></i>
<i style="left:516px;top:39px;height:56px;background:linear-gradient(#ff6000 0px,#ff0d00 20px,#f40000 24px,#d10000 29px,#a50000 42px,#8c0000 56px)"></i>
<i style="left:517px;top:39px;height:55px;background:linear-gradient(#ff4f00 0px,#ff1800 17px,#ef0000 24px,#c00 29px,#950000 50px,#8d0000 55px)"></i>
<i style="left:518px;top:39px;height:54px;background:linear-gradient(#ff4300 0px,#ff1a00 12px,#f90000 17px,#c70000 24px,#950000 42px,#860000 54px)"></i>
<i style="left:519px;top:39px;height:52px;background:linear-gradient(#ff4000 0px,#ff1b00 10px,#ff0100 14px,#bd0000 24px,#900000 42px,#850000 52px)"></i>
<i style="left:520px;top:39px;height:50px;background:linear-gradient(#ff3d00 0px,#ff1600 10px,#fb0000 14px,#ba0000 24px,#900000 42px,#860000 50px)"></i>
<i style="left:521px;top:39px;height:49px;background:linear-gradient(#ff3900 0px,#ff0d00 10px,#f10000 14px,#c50000 20px,#980000 35px,#850000 49px)"></i>
<i style="left:522px;top:39px;height:47px;background:linear-gradient(#ff3600 0px,#fb0000 12px,#c50000 20px,#900 35px,#870000 47px)"></i>
<i style="left:523px;top:39px;height:45px;background:linear-gradient(#f30 0px,#f80000 12px,#c40000 20px,#8e0000 42px,#8a0000 45px)"></i>
<i style="left:524px;top:39px;height:44px;background:linear-gradient(#ff2e00 0px,#f70000 10px,#ba0000 20px,#890000 42px,#800 44px)"></i>
<i style="left:525px;top:39px;height:43px;background:linear-gradient(#ff2a00 0px,#fd0000 8px,#b70000 20px,#800 43px)"></i>
<i style="left:526px;top:39px;height:42px;background:linear-gradient(#f20 0px,#fc0000 6px,#c30000 14px,#8c0000 35px,#850000 42px)"></i>
<i style="left:527px;top:39px;height:41px;background:linear-gradient(#ff1d00 0px,#f60000 6px,#c10000 14px,#8c0000 35px,#860000 41px)"></i>
<i style="left:528px;top:39px;height:39px;background:linear-gradient(#ff1600 0px,#fa0000 4px,#c10000 12px,#920000 29px,#850000 39px)"></i>
<i style="left:529px;top:39px;height:38px;background:linear-gradient(#ff0f00 0px,#f20000 4px,#bc0000 12px,#8f0000 29px,#840000 38px)"></i>
<i style="left:530px;top:39px;height:37px;background:linear-gradient(#ff0800 0px,#b70000 12px,#8d0000 29px,#840000 37px)"></i>
<i style="left:531px;top:39px;height:35px;background:linear-gradient(#ff0200 0px,#bc0000 10px,#8c0000 29px,#850000 35px)"></i>
<i style="left:532px;top:39px;height:29px;background:linear-gradient(#f60000 0px,#b80000 8px,#8b0000 24px,#850000 29px)"></i>
<i style="left:533px;top:39px;height:22px;background:linear-gradient(#f00000 0px,#b70000 7px,#8b0000 22px)"></i>
<i style="left:534px;top:39px;height:19px;background:linear-gradient(#e20000 0px,#b40000 6px,#8a0000 19px)"></i>
<i style="left:535px;top:39px;height:20px;background:linear-gradient(#dc0000 0px,#ae0000 7px,#890000 20px)"></i>
<i style="left:536px;top:39px;height:25px;background:linear-gradient(#d60000 0px,#a50000 10px,#850000 25px)"></i>
<i style="left:537px;top:39px;height:30px;background:linear-gradient(#d40000 0px,#a50000 12px,#850000 30px)"></i>
<i style="left:538px;top:39px;height:34px;background:linear-gradient(#d00000 0px,#9c0000 17px,#850000 34px)"></i>
<i style="left:539px;top:39px;height:36px;background:linear-gradient(#cb0000 0px,#900 20px,#850000 36px)"></i>
<i style="left:540px;top:39px;height:37px;background:linear-gradient(#c40000 0px,#8c0000 24px,#800000 37px)"></i>
<i style="left:541px;top:39px;height:37px;background:linear-gradient(#c40000 0px,#8c0000 29px,#860000 37px)"></i>
<i style="left:542px;top:39px;height:37px;background:linear-gradient(#be0000 0px,#8f0000 24px,#830000 37px)"></i>
</div>
<div id="p2">
<i style="left:77px;top:251px;height:25px;background:linear-gradient(#ec0000 0px,#b70000 10px,#900000 25px)"></i>
<i style="left:78px;top:251px;height:25px;background:linear-gradient(#e00 0px,#b00 10px,#960000 25px)"></i>
<i style="left:79px;top:251px;height:29px;background:linear-gradient(#e00 0px,#b80000 12px,#930000 29px)"></i>
<i style="left:80px;top:251px;height:34px;background:linear-gradient(#f00000 0px,#b90000 14px,#930000 34px)"></i>
<i style="left:81px;top:251px;height:37px;background:linear-gradient(#ed0000 0px,#ba0000 12px,#890000 37px)"></i>
<i style="left:82px;top:251px;height:39px;background:linear-gradient(#ea0000 0px,#b80000 12px,#870000 39px)"></i>
<i style="left:83px;top:251px;height:41px;background:linear-gradient(#ea0000 0px,#b80000 12px,#860000 41px)"></i>
<i style="left:84px;top:251px;height:43px;background:linear-gradient(#e00 0px,#b00 14px,#8a0000 43px)"></i>
<i style="left:85px;top:251px;height:45px;background:linear-gradient(#ec0000 0px,#b80000 14px,#870000 45px)"></i>
<i style="left:86px;top:251px;height:47px;background:linear-gradient(#ea0000 0px,#b70000 14px,#800 42px,#850000 47px)"></i>
<i style="left:87px;top:251px;height:48px;background:linear-gradient(#eb0000 0px,#b90000 14px,#860000 48px)"></i>
<i style="left:88px;top:251px;height:50px;background:linear-gradient(#ed0000 0px,#b70000 17px,#800 50px)"></i>
<i style="left:89px;top:251px;height:51px;background:linear-gradient(#e90000 0px,#b60000 14px,#800 42px,#830000 51px)"></i>
<i style="left:90px;top:251px;height:53px;background:linear-gradient(#eb0000 0px,#b50000 17px,#860000 53px)"></i>
<i style="left:91px;top:251px;height:55px;background:linear-gradient(#ec0000 0px,#b80000 17px,#870000 55px)"></i>
<i style="left:92px;top:251px;height:57px;background:linear-gradient(#ea0000 0px,#ba0000 14px,#870000 50px,#840000 57px)"></i>
<i style="left:93px;top:251px;height:58px;background:linear-gradient(#ed0000 0px,#b90000 17px,#860000 58px)"></i>
<i style="left:94px;top:251px;height:59px;background:linear-gradient(#ed0000 0px,#b90000 17px,#860000 59px)"></i>
<i style="left:95px;top:251px;height:60px;background:linear-gradient(#ff2000 0px,#f70000 10px,#bd0000 24px,#860000 60px)"></i>
<i style="left:96px;top:251px;height:61px;background:linear-gradient(#ff6300 0px,#ff3f00 7px,#ff0f00 24px,#ef0000 29px,#cd0000 35px,#8a0000 61px)"></i>
<i style="left:97px;top:251px;height:63px;background:linear-gradient(#ff8600 0px,#ff5a00 4px,#ff3d00 10px,#ff1900 24px,#ff0100 29px,#bd0000 42px,#8d0000 63px)"></i>
<i style="left:98px;top:251px;height:64px;background:linear-gradient(#fa0 0px,#ff6400 4px,#ff3e00 10px,#f70000 29px,#b80000 42px,#800 64px)"></i>
<i style="left:99px;top:251px;height:64px;background:linear-gradient(#ffc600 0px,#ff6500 5px,#ff4200 10px,#fe0000 29px,#b00 42px,#890000 64px)"></i>
<i style="left:100px;top:251px;height:64px;background:linear-gradient(#ffc600 0px,#ff6300 5px,#ff4000 10px,#ff1300 24px,#f50000 29px,#d00000 35px,#8d0000 60px,#800 64px)"></i>
<i style="left:101px;top:251px;height:64px;background:linear-gradient(#ffc900 0px,#ff6300 5px,#ff4000 10px,#f10 24px,#f20000 29px,#ce0000 35px,#8b0000 60px,#870000 64px)"></i>
<i style="left:102px;top:251px;height:65px;background:linear-gradient(#ffd000 0px,#ff6700 5px,#ff4200 10px,#f80000 29px,#d30000 35px,#a30000 50px,#870000 65px)"></i>
<i style="left:103px;top:251px;height:65px;background:linear-gradient(#ffce00 0px,#ff6400 5px,#ff4700 8px,#ff0e00 24px,#ed0000 29px,#c90000 35px,#890000 60px,#850000 65px)"></i>
<i style="left:104px;top:251px;height:65px;background:linear-gradient(#ffd200 0px,#ff6500 5px,#ff4000 10px,#ff1000 24px,#e00 29px,#cb0000 35px,#8a0000 60px,#850000 65px)"></i>
<i style="left:105px;top:251px;height:67px;background:linear-gradient(#ffd500 0px,#ff6900 5px,#ff4100 10px,#ff1200 24px,#f20000 29px,#ce0000 35px,#8c0000 60px,#850000 67px)"></i>
<i style="left:106px;top:251px;height:70px;background:linear-gradient(#ffd700 0px,#ff6100 6px,#ff3b00 12px,#f80000 29px,#d30000 35px,#a40000 50px,#840000 70px)"></i>
<i style="left:107px;top:251px;height:74px;background:linear-gradient(#ffd900 0px,#ff6200 6px,#ff3c00 12px,#fc0000 29px,#b00 42px,#840000 72px,#820000 74px)"></i>
<i style="left:108px;top:251px;height:78px;background:linear-gradient(#ffde00 0px,#fa0 3px,#ff6900 6px,#ff3f00 12px,#ff0900 29px,#c30000 42px,#870000 72px,#820000 78px)"></i>
<i style="left:109px;top:251px;height:81px;background:linear-gradient(#ffe800 0px,#ffc100 3px,#ff6d00 7px,#ff4500 12px,#ff1b00 29px,#ff0100 35px,#b00 50px,#850000 81px)"></i>
<i style="left:110px;top:251px;height:85px;background:linear-gradient(#ffe900 0px,#ffc000 3px,#ff6900 7px,#ff4300 12px,#f70000 35px,#d20000 42px,#a20000 60px,#820000 85px)"></i>
<i style="left:111px;top:251px;height:88px;background:linear-gradient(#fff300 0px,#ffd600 3px,#ff7200 8px,#f40 14px,#ff1400 35px,#f20000 42px,#cb0000 50px,#900 72px,#850000 88px)"></i>
<i style="left:112px;top:251px;height:91px;background:linear-gradient(#fff000 0px,#fc0 3px,#ff7300 7px,#ff4500 12px,#fb0000 35px,#b00 50px,#910000 72px,#800000 91px)"></i>
<i style="left:113px;top:251px;height:94px;background:linear-gradient(#fffd00 0px,#ffd500 4px,#f60 10px,#ff3f00 17px,#ff1f00 35px,#ff0600 42px,#ba0000 60px,#850000 94px)"></i>
<i style="left:114px;top:251px;height:97px;background:linear-gradient(#fffe00 0px,#ffd600 4px,#f60 10px,#ff4800 14px,#ff1e00 35px,#ff0400 42px,#ba0000 60px,#8c0000 86px,#840000 97px)"></i>
<i style="left:115px;top:251px;height:103px;background:linear-gradient(#fffc00 0px,#ffd200 4px,#ff7f00 8px,#ff5300 12px,#ff2f00 24px,#fb0000 42px,#d60000 50px,#a20000 72px,#800000 103px)"></i>
<i style="left:116px;top:251px;height:111px;background:linear-gradient(#fdff02 0px,#ffd100 5px,#ff7400 10px,#ff5100 14px,#ff2e00 29px,#ff1400 42px,#f20000 50px,#ca0000 60px,#870000 100px,#810000 111px)"></i>
<i style="left:117px;top:251px;height:119px;background:linear-gradient(#f9ff06 0px,#ffe500 4px,#ffba00 7px,#ff6800 12px,#ff4700 17px,#ff2100 42px,#ff0800 50px,#ba0000 72px,#8e0000 100px,#810000 119px)"></i>
<i style="left:118px;top:251px;height:127px;background:linear-gradient(#f6ff09 0px,#fff500 3px,#ffb400 8px,#ff7600 12px,#ff4f00 17px,#ff1500 50px,#e00 60px,#c40000 72px,#860000 115px,#800000 127px)"></i>
<i style="left:119px;top:251px;height:136px;background:linear-gradient(#f8ff07 0px,#fff100 3px,#ffbc00 7px,#ff6b00 12px,#ff4800 17px,#ff0e00 50px,#e70000 60px,#c00000 72px,#870000 115px,#800000 136px)"></i>
<i style="left:120px;top:251px;height:140px;background:linear-gradient(#f7ff08 0px,#fff300 3px,#ffbf00 7px,#ff6d00 12px,#ff4a00 17px,#ff1000 50px,#e90000 60px,#c30000 72px,#870000 115px,#800000 140px)"></i>
<i style="left:121px;top:251px;height:140px;background:linear-gradient(#f7ff08 0px,#fff100 3px,#ffb900 7px,#f60 12px,#ff4600 17px,#ff1e00 42px,#ff0700 50px,#bc0000 72px,#860000 115px,#800000 140px)"></i>
<i style="left:122px;top:251px;height:140px;background:linear-gradient(#f5ff0a 0px,#fff400 3px,#ffbd00 7px,#ff6900 12px,#ff4700 17px,#ff2000 42px,#ff0900 50px,#bd0000 72px,#860000 115px,#800000 140px)"></i>
<i style="left:123px;top:251px;height:140px;background:linear-gradient(#f3ff0c 0px,#fff600 3px,#ffc300 7px,#ff6e00 12px,#ff4900 17px,#f20 42px,#ff0c00 50px,#be0000 72px,#860000 115px,#800000 140px)"></i>
<i style="left:124px;top:251px;height:140px;background:linear-gradient(#f2ff0d 0px,#fff600 3px,#ffbd00 7px,#f60 12px,#ff4600 17px,#ff1a00 42px,#f00 50px,#d70000 60px,#a20000 86px,#840000 115px,#800000 140px)"></i>
<i style="left:125px;top:251px;height:140px;background:linear-gradient(#ecff13 0px,#fff800 3px,#ffc000 7px,#f60 12px,#ff4500 17px,#ff1700 42px,#f90000 50px,#d20000 60px,#a00000 86px,#830000 115px,#800000 140px)"></i>
<i style="left:126px;top:251px;height:140px;background:linear-gradient(#d2ff2d 0px,#f9ff06 3px,#fc0 8px,#f60 14px,#ff4600 20px,#ff1200 50px,#ea0000 60px,#c10000 72px,#860000 115px,#800000 140px)"></i>
<i style="left:127px;top:251px;height:140px;background:linear-gradient(#e0ff1f 0px,#fbff04 2px,#ffcf00 6px,#ff7900 10px,#ff4e00 14px,#ff0100 42px,#c00000 60px,#870000 100px,#800000 140px)"></i>
<i style="left:128px;top:251px;height:140px;background:linear-gradient(#baff45 0px,#f4ff0b 3px,#ffea00 6px,#ffd200 8px,#ff6800 14px,#ff4600 20px,#ff0a00 50px,#b00 72px,#900000 100px,#800000 140px)"></i>
<i style="left:129px;top:251px;height:140px;background:linear-gradient(#b3ff4c 0px,#f4ff0b 3px,#fff500 5px,#ffd000 8px,#ff6500 14px,#f40 20px,#ff1a00 42px,#fd0000 50px,#d30000 60px,#9f0000 86px,#820000 115px,#800000 140px)"></i>
<i style="left:130px;top:251px;height:140px;background:linear-gradient(#a7ff58 0px,#deff21 2px,#fdff02 4px,#ffd300 8px,#ff6700 14px,#ff4500 20px,#f80000 50px,#cf0000 60px,#890000 100px,#800000 140px)"></i>
<i style="left:131px;top:251px;height:140px;background:linear-gradient(#86ff79 0px,#dbff24 3px,#faff05 5px,#ffd000 10px,#ff8a00 14px,#ff6400 17px,#f40 24px,#ff0f00 50px,#e30000 60px,#bc0000 72px,#8f0000 100px,#800000 140px)"></i>
<i style="left:132px;top:251px;height:140px;background:linear-gradient(#6aff95 0px,#eaff15 5px,#fff800 8px,#ffd400 12px,#ff8900 17px,#ff6900 20px,#ff4300 29px,#ff1e00 50px,#f90000 60px,#c90000 72px,#950000 100px,#800000 130px,#800000 140px)"></i>
<i style="left:133px;top:251px;height:140px;background:linear-gradient(#5fa 0px,#e4ff1b 6px,#faff05 8px,#ffd400 14px,#ff8600 20px,#ff6200 24px,#ff3e00 35px,#ff2500 50px,#ff0700 60px,#d10000 72px,#900 100px,#800000 130px,#800000 140px)"></i>
<i style="left:134px;top:251px;height:140px;background:linear-gradient(#4effb1 0px,#8f7 3px,#d3ff2c 6px,#f3ff0c 8px,#fff000 12px,#ffc100 17px,#ff6f00 24px,#ff5300 29px,#ff0e00 60px,#d80000 72px,#b20000 86px,#800 115px,#800000 140px)"></i>
<i style="left:135px;top:251px;height:140px;background:linear-gradient(#3effc1 0px,#63ff9c 4px,#ecff13 12px,#fff600 17px,#ffca00 24px,#ff6900 35px,#ff4700 42px,#ff2800 60px,#ff0500 72px,#c90000 86px,#930000 115px,#800000 140px)"></i>
<i style="left:136px;top:251px;height:140px;background:linear-gradient(#46ffb9 0px,#74ff8b 3px,#d4ff2b 7px,#f9ff06 10px,#ffd000 17px,#ff7b00 24px,#ff5900 29px,#ff3600 42px,#ff1200 60px,#d00 72px,#b40000 86px,#800 115px,#800000 140px)"></i>
<i style="left:137px;top:251px;height:140px;background:linear-gradient(#45ffba 0px,#75ff8a 3px,#d9ff26 7px,#ecff13 8px,#fff300 12px,#ffc500 17px,#ff6f00 24px,#ff5200 29px,#ff0b00 60px,#b10000 86px,#870000 115px,#800000 140px)"></i>
<i style="left:138px;top:251px;height:140px;background:linear-gradient(#4fb 0px,#5effa1 2px,#deff21 7px,#f1ff0e 8px,#ffef00 12px,#ff6400 24px,#ff4b00 29px,#ff2400 50px,#ff0300 60px,#ce0000 72px,#960000 100px,#800000 130px,#800000 140px)"></i>
<i style="left:139px;top:251px;height:140px;background:linear-gradient(#45ffba 0px,#67ff98 2px,#daff25 6px,#f8ff07 8px,#ffe200 12px,#ffce00 14px,#ff7500 20px,#ff5700 24px,#ff3500 35px,#ff1900 50px,#f00000 60px,#c20000 72px,#900000 100px,#800000 140px)"></i>
<i style="left:140px;top:251px;height:140px;background:linear-gradient(#43ffbc 0px,#63ff9c 2px,#d7ff28 6px,#f7ff08 8px,#ffe400 12px,#ffd000 14px,#f70 20px,#ff5800 24px,#ff3600 35px,#ff1900 50px,#f00000 60px,#c20000 72px,#900000 100px,#800000 140px)"></i>
<i style="left:141px;top:251px;height:140px;background:linear-gradient(#41ffbe 0px,#5cffa3 2px,#e4ff1b 7px,#fffb00 10px,#ffd700 14px,#ff8100 20px,#ff5d00 24px,#ff4500 29px,#ff1e00 50px,#f70000 60px,#c60000 72px,#930000 100px,#800000 130px,#800000 140px)"></i>
<i style="left:142px;top:251px;height:140px;background:linear-gradient(#3cffc3 0px,#64ff9b 3px,#e1ff1e 8px,#f9ff06 10px,#ffe600 14px,#ffca00 17px,#ff7000 24px,#ff5200 29px,#ff0a00 60px,#d30000 72px,#900 100px,#800000 130px,#800000 140px)"></i>
<i style="left:143px;top:251px;height:140px;background:linear-gradient(#40ffbf 0px,#58ffa7 2px,#deff21 7px,#f1ff0e 8px,#fffe00 10px,#ffdb00 14px,#f80 20px,#ff6100 24px,#ff4700 29px,#ff2100 50px,#fc0000 60px,#ca0000 72px,#940000 100px,#800000 130px,#800000 140px)"></i>
<i style="left:144px;top:251px;height:140px;background:linear-gradient(#35ffca 0px,#69ff96 4px,#caff35 8px,#ef1 10px,#fff500 14px,#ffbf00 20px,#ff8c00 24px,#ff6100 29px,#ff4700 35px,#ff1600 60px,#e30000 72px,#b70000 86px,#890000 115px,#800000 140px)"></i>
<i style="left:145px;top:251px;height:140px;background:linear-gradient(#3cffc3 0px,#64ff9b 3px,#e0ff1f 8px,#f8ff07 10px,#ffe700 14px,#ff7100 24px,#ff5300 29px,#ff0a00 60px,#d30000 72px,#900 100px,#800000 130px,#800000 140px)"></i>
<i style="left:146px;top:251px;height:140px;background:linear-gradient(#3dffc2 0px,#67ff98 3px,#e4ff1b 8px,#faff05 10px,#ffc600 17px,#ff6c00 24px,#ff5000 29px,#ff2600 50px,#ff0700 60px,#d10000 72px,#980000 100px,#800000 130px,#800000 140px)"></i>
<i style="left:147px;top:251px;height:140px;background:linear-gradient(#41ffbe 0px,#5cffa3 2px,#e4ff1b 7px,#fffb00 10px,#ffd700 14px,#ff8100 20px,#ff5d00 24px,#ff4500 29px,#ff1e00 50px,#f70000 60px,#c70000 72px,#930000 100px,#800000 130px,#800000 140px)"></i>
<i style="left:148px;top:251px;height:140px;background:linear-gradient(#3fffc0 0px,#56ffa9 2px,#d9ff26 7px,#ef1 8px,#feff01 10px,#ffb900 17px,#ff6300 24px,#ff4a00 29px,#ff2300 50px,#f00 60px,#c00 72px,#950000 100px,#800000 130px,#800000 140px)"></i>
<i style="left:149px;top:251px;height:140px;background:linear-gradient(#40ffbf 0px,#57ffa8 2px,#df2 7px,#f0ff0f 8px,#fffe00 10px,#ffdc00 14px,#ff8a00 20px,#ff6100 24px,#ff4700 29px,#ff2100 50px,#fd0000 60px,#ca0000 72px,#950000 100px,#800000 130px,#800000 140px)"></i>
<i style="left:150px;top:251px;height:140px;background:linear-gradient(#3affc5 0px,#5effa1 3px,#d8ff27 8px,#f5ff0a 10px,#ffec00 14px,#ffd300 17px,#ff7b00 24px,#ff5800 29px,#ff3500 42px,#ff1000 60px,#d90000 72px,#9b0000 100px,#800000 130px,#800000 140px)"></i>
<i style="left:151px;top:251px;height:140px;background:linear-gradient(#41ffbe 0px,#5affa5 2px,#e0ff1f 7px,#f2ff0d 8px,#ffeb00 12px,#ffb000 17px,#ff8500 20px,#ff5f00 24px,#ff4600 29px,#ff1f00 50px,#fa0000 60px,#c80000 72px,#940000 100px,#800000 130px,#800000 140px)"></i>
<i style="left:152px;top:251px;height:140px;background:linear-gradient(#3fffc0 0px,#56ffa9 2px,#d9ff26 7px,#edff12 8px,#feff01 10px,#ffba00 17px,#ff8e00 20px,#ff6400 24px,#ff4a00 29px,#ff2300 50px,#ff0100 60px,#c00 72px,#960000 100px,#800000 130px,#800000 140px)"></i>
<i style="left:153px;top:251px;height:140px;background:linear-gradient(#3bffc4 0px,#61ff9e 3px,#dcff23 8px,#f7ff08 10px,#ffe900 14px,#ffcf00 17px,#ff7600 24px,#f50 29px,#ff0d00 60px,#b10000 86px,#870000 115px,#800000 140px)"></i>
<i style="left:154px;top:251px;height:140px;background:linear-gradient(#39ffc6 0px,#58ffa7 3px,#d1ff2e 8px,#f2ff0d 10px,#ff0 12px,#ffd900 17px,#ff8400 24px,#ff5d00 29px,#ff3700 42px,#ff1300 60px,#de0000 72px,#b50000 86px,#800 115px,#800000 140px)"></i>
<i style="left:155px;top:251px;height:140px;background:linear-gradient(#3cffc3 0px,#63ff9c 3px,#dfff20 8px,#f8ff07 10px,#ffe700 14px,#fc0 17px,#ff7200 24px,#ff5300 29px,#ff0b00 60px,#b10000 86px,#870000 115px,#800000 140px)"></i>
<i style="left:156px;top:251px;height:140px;background:linear-gradient(#3bffc4 0px,#60ff9f 3px,#dcff23 8px,#f6ff09 10px,#ffea00 14px,#ffd000 17px,#f70 24px,#ff5600 29px,#ff0d00 60px,#b20000 86px,#870000 115px,#800000 140px)"></i>
<i style="left:157px;top:251px;height:140px;background:linear-gradient(#4fb 0px,#6f9 2px,#dbff24 6px,#f9ff06 8px,#ffe100 12px,#ff7200 20px,#f50 24px,#ff2900 42px,#ff1700 50px,#ed0000 60px,#c00000 72px,#8f0000 100px,#800000 140px)"></i>
<i style="left:158px;top:251px;height:140px;background:linear-gradient(#43ffbc 0px,#62ff9d 2px,#d6ff29 6px,#f6ff09 8px,#ffe500 12px,#ffd100 14px,#ff7800 20px,#ff5800 24px,#ff3600 35px,#ff1a00 50px,#f10000 60px,#c30000 72px,#910000 100px,#800000 140px)"></i>
<i style="left:159px;top:251px;height:140px;background:linear-gradient(#3dffc2 0px,#67ff98 3px,#e5ff1a 8px,#faff05 10px,#ffc500 17px,#ff6b00 24px,#ff3f00 35px,#ff2600 50px,#ff0700 60px,#d00000 72px,#980000 100px,#800000 130px,#800000 140px)"></i>
<i style="left:160px;top:251px;height:140px;background:linear-gradient(#47ffb8 0px,#6dff92 2px,#e4ff1b 6px,#fcff03 8px,#ffc000 14px,#ff6700 20px,#ff3f00 29px,#ff1200 50px,#e50000 60px,#b00 72px,#8d0000 100px,#800000 140px)"></i>
<i style="left:161px;top:251px;height:140px;background:linear-gradient(#41ffbe 0px,#5cffa3 2px,#e3ff1c 7px,#fffb00 10px,#ffd700 14px,#ff8200 20px,#ff5d00 24px,#ff3900 35px,#ff1e00 50px,#f80000 60px,#c70000 72px,#930000 100px,#800000 130px,#800000 140px)"></i>
<i style="left:162px;top:251px;height:140px;background:linear-gradient(#3dffc2 0px,#69ff96 3px,#d3ff2c 7px,#fbff04 10px,#ffc200 17px,#ff6800 24px,#ff3e00 35px,#ff2500 50px,#ff0500 60px,#cf0000 72px,#970000 100px,#800000 130px,#800000 140px)"></i>
<i style="left:163px;top:251px;height:140px;background:linear-gradient(#49ffb6 0px,#57ffa8 1px,#d6ff29 5px,#f8ff07 7px,#ffd400 12px,#ff8200 17px,#ff6000 20px,#ff4800 24px,#ff0a00 50px,#b80000 72px,#8a0000 100px,#800000 140px)"></i>
<i style="left:164px;top:251px;height:140px;background:linear-gradient(#49ffb6 0px,#56ffa9 1px,#d5ff2a 5px,#f8ff07 7px,#ffd500 12px,#ff8300 17px,#ff6100 20px,#ff4900 24px,#ff0b00 50px,#b80000 72px,#8a0000 100px,#800000 140px)"></i>
<i style="left:165px;top:251px;height:140px;background:linear-gradient(#4fb 0px,#65ff9a 2px,#d9ff26 6px,#f0ff0f 7px,#fff500 10px,#ffcd00 14px,#ff7400 20px,#ff5600 24px,#ff3500 35px,#ff1800 50px,#e00 60px,#c00000 72px,#900000 100px,#800000 140px)"></i>
<i style="left:166px;top:251px;height:140px;background:linear-gradient(#42ffbd 0px,#5effa1 2px,#e6ff19 7px,#fffa00 10px,#ffd500 14px,#ff7f00 20px,#ff5c00 24px,#ff3800 35px,#f60000 60px,#c60000 72px,#920000 100px,#800000 130px,#800000 140px)"></i>
<i style="left:167px;top:251px;height:140px;background:linear-gradient(#48ffb7 0px,#5fa 1px,#e9ff16 6px,#ff0 8px,#ffd800 12px,#ff6300 20px,#ff3d00 29px,#ff0f00 50px,#e10000 60px,#ba0000 72px,#8b0000 100px,#800000 140px)"></i>
<i style="left:168px;top:251px;height:140px;background:linear-gradient(#42ffbd 0px,#5dffa2 2px,#e5ff1a 7px,#fffa00 10px,#ffd600 14px,#ff8000 20px,#ff5c00 24px,#ff3800 35px,#f60000 60px,#c60000 72px,#930000 100px,#800000 130px,#800000 140px)"></i>
<i style="left:169px;top:251px;height:140px;background:linear-gradient(#41ffbe 0px,#5affa5 2px,#e1ff1e 7px,#fffc00 10px,#ffd900 14px,#ff8500 20px,#ff5f00 24px,#ff4600 29px,#ff1f00 50px,#f90000 60px,#c80000 72px,#930000 100px,#800000 140px)"></i>
<i style="left:170px;top:251px;height:140px;background:linear-gradient(#40ffbf 0px,#57ffa8 2px,#df2 7px,#f0ff0f 8px,#fffe00 10px,#ffdb00 14px,#ff8900 20px,#ff6100 24px,#ff4700 29px,#ff2100 50px,#fc0000 60px,#ca0000 72px,#940000 100px,#800000 130px,#800000 140px)"></i>
<i style="left:171px;top:251px;height:140px;background:linear-gradient(#3bffc4 0px,#61ff9e 3px,#df2 8px,#f7ff08 10px,#ffe900 14px,#ffcf00 17px,#ff7600 24px,#f50 29px,#ff3400 42px,#ff0d00 60px,#b10000 86px,#870000 115px,#800000 140px)"></i>
<i style="left:172px;top:251px;height:140px;background:linear-gradient(#39ffc6 0px,#57ffa8 3px,#d0ff2f 8px,#f1ff0e 10px,#fff100 14px,#ffb600 20px,#ff8500 24px,#ff5d00 29px,#ff3800 42px,#ff1300 60px,#df0000 72px,#b50000 86px,#800 115px,#800000 140px)"></i>
<i style="left:173px;top:251px;height:140px;background:linear-gradient(#35ffca 0px,#69ff96 4px,#caff35 8px,#ef1 10px,#fff500 14px,#ffbf00 20px,#ff8c00 24px,#ff6100 29px,#ff4700 35px,#ff1600 60px,#e30000 72px,#b70000 86px,#890000 115px,#800000 140px)"></i>
<i style="left:174px;top:251px;height:140px;background:linear-gradient(#3dffc2 0px,#68ff97 3px,#d3ff2c 7px,#fbff04 10px,#ffc300 17px,#ff6900 24px,#ff3e00 35px,#ff2500 50px,#ff0600 60px,#d00000 72px,#970000 100px,#800000 130px,#800000 140px)"></i>
<i style="left:175px;top:251px;height:140px;background:linear-gradient(#2effd1 0px,#61ff9e 4px,#e3ff1c 10px,#fffa00 14px,#ffcd00 20px,#ff6900 29px,#ff3d00 42px,#ff1b00 60px,#ea0000 72px,#ba0000 86px,#8a0000 115px,#800000 140px)"></i>
<i style="left:176px;top:251px;height:140px;background:linear-gradient(#2effd1 0px,#64ff9b 3px,#d4ff2b 7px,#fcff03 10px,#ffe000 14px,#f60 24px,#ff3e00 35px,#ff2500 50px,#ff0600 60px,#d00000 72px,#980000 100px,#800000 130px,#800000 140px)"></i>
<i style="left:177px;top:251px;height:140px;background:linear-gradient(#10ffef 0px,#7cff83 4px,#d8ff27 7px,#efff10 8px,#fffe00 10px,#ffd800 14px,#ff8500 20px,#ff6100 24px,#ff4900 29px,#ff2400 50px,#ff0300 60px,#cf0000 72px,#980000 100px,#800000 130px,#800000 140px)"></i>
<i style="left:178px;top:251px;height:140px;background:linear-gradient(#00f3ff 0px,#39ffc6 2px,#c9ff36 6px,#f3ff0c 8px,#ffe300 12px,#ffcb00 14px,#ff9400 17px,#ff7300 20px,#ff4500 29px,#ff2000 50px,#fc0000 60px,#cb0000 72px,#960000 100px,#800000 130px,#800000 140px)"></i>
<i style="left:179px;top:251px;height:140px;background:linear-gradient(#00d4ff 0px,#0afff5 1px,#7f8 4px,#c7ff38 6px,#f4ff0b 8px,#ffe000 12px,#ff8d00 17px,#ff6d00 20px,#f40 29px,#ff2100 50px,#fe0000 60px,#c00 72px,#970000 100px,#800000 130px,#800000 140px)"></i>
<i style="left:180px;top:251px;height:140px;background:linear-gradient(#007aff 0px,#00d5ff 1px,#0ffff0 2px,#caff35 6px,#e8ff17 7px,#fff200 10px,#ffb800 14px,#ff8200 17px,#ff6400 20px,#ff3700 35px,#ff1e00 50px,#f90000 60px,#ca0000 72px,#960000 100px,#800000 130px,#800000 140px)"></i>
<i style="left:181px;top:251px;height:140px;background:linear-gradient(#0000c2 0px,#006bff 1px,#00d1ff 2px,#20ffdf 3px,#9cff63 5px,#e8ff17 7px,#fff000 10px,#ffb100 14px,#ff7c00 17px,#ff6100 20px,#ff4100 29px,#f50000 60px,#c70000 72px,#950000 100px,#800000 130px,#800000 140px)"></i>
<i style="left:182px;top:251px;height:140px;background:linear-gradient(#0053ff 0px,#00bcff 1px,#00fdff 2px,#b6ff49 6px,#ef1 8px,#fffb00 10px,#ffcd00 14px,#ff9400 17px,#ff5c00 24px,#ff3d00 35px,#ff2500 50px,#ff0800 60px,#b10000 86px,#800 115px,#800000 140px)"></i>
<i style="left:183px;top:251px;height:140px;background:linear-gradient(#002bff 0px,#00a7ff 1px,#00f3ff 2px,#65ff9a 4px,#c4ff3b 6px,#f4ff0b 8px,#ffdc00 12px,#ff8500 17px,#f60 20px,#ff4300 29px,#ff1f00 50px,#fc0000 60px,#cb0000 72px,#970000 100px,#800000 130px,#800000 140px)"></i>
<i style="left:184px;top:251px;height:140px;background:linear-gradient(#000080 0px,#0000d7 1px,#007bff 2px,#00ebff 3px,#42ffbd 4px,#89ff76 5px,#e1ff1e 7px,#fff200 10px,#ffb300 14px,#ff7e00 17px,#ff6200 20px,#ff4100 29px,#ff1c00 50px,#f60000 60px,#c80000 72px,#950000 100px,#800000 130px,#800000 140px)"></i>
<i style="left:185px;top:251px;height:140px;background:linear-gradient(#000080 0px,#00f 1px,#0090ff 2px,#00ecff 3px,#3bffc4 4px,#aeff51 6px,#ecff13 8px,#fffa00 10px,#ffc800 14px,#ff9000 17px,#ff7100 20px,#ff4600 29px,#ff2400 50px,#ff0500 60px,#d10000 72px,#9a0000 100px,#800000 130px,#800000 140px)"></i>
<i style="left:186px;top:251px;height:140px;background:linear-gradient(#000eff 0px,#0095ff 1px,#00e8ff 2px,#25ffda 3px,#c0ff3f 6px,#f2ff0d 8px,#fff600 10px,#ffc000 14px,#ff8900 17px,#ff6900 20px,#f40 29px,#ff2100 50px,#fe0000 60px,#cd0000 72px,#980000 100px,#800000 130px,#800000 140px)"></i>
<i style="left:187px;top:251px;height:140px;background:linear-gradient(#000080 0px,#0025ff 1px,#00afff 2px,#17ffe8 3px,#6aff95 4px,#abff54 5px,#d6ff29 6px,#fcff03 8px,#ffc400 12px,#f60 17px,#ff4500 24px,#ff1000 50px,#e50000 60px,#bc0000 72px,#8f0000 100px,#800000 140px)"></i>
<i style="left:188px;top:251px;height:140px;background:linear-gradient(#000080 0px,#003dff 1px,#00baff 2px,#1cffe3 3px,#af5 5px,#d3ff2c 6px,#fbff04 8px,#ffca00 12px,#ff6c00 17px,#ff4600 24px,#ff1300 50px,#e80000 60px,#be0000 72px,#900000 100px,#800000 140px)"></i>
<i style="left:189px;top:251px;height:140px;background:linear-gradient(#000080 0px,#001aff 1px,#00a0ff 2px,#00fbff 3px,#85ff7a 5px,#b8ff47 6px,#dbff24 7px,#efff10 8px,#fff700 10px,#ffbf00 14px,#f80 17px,#ff6800 20px,#f40 29px,#ff2100 50px,#fe0000 60px,#cd0000 72px,#980000 100px,#800000 130px,#800000 140px)"></i>
<i style="left:190px;top:251px;height:140px;background:linear-gradient(#000cff 0px,#0097ff 1px,#00ecff 2px,#3fc 3px,#a9ff56 5px,#ecff13 7px,#ffec00 10px,#ffd300 12px,#ff7500 17px,#ff4a00 24px,#ff1700 50px,#f00000 60px,#c30000 72px,#930000 100px,#800000 140px)"></i>
<i style="left:191px;top:251px;height:140px;background:linear-gradient(#28ffd7 0px,#62ff9d 3px,#d1ff2e 6px,#ecff13 7px,#fff100 10px,#ffb700 14px,#ff8100 17px,#ff6400 20px,#ff3700 35px,#f90000 60px,#c90000 72px,#960000 100px,#800000 130px,#800000 140px)"></i>
<i style="left:192px;top:251px;height:140px;background:linear-gradient(#00daff 0px,#0efff1 1px,#7eff81 4px,#d0ff2f 6px,#ecff13 7px,#fff000 10px,#ffb500 14px,#ff8000 17px,#ff6300 20px,#ff3600 35px,#ff1d00 50px,#f80000 60px,#c80000 72px,#960000 100px,#800000 130px,#800000 140px)"></i>
<i style="left:193px;top:251px;height:140px;background:linear-gradient(#00e3ff 0px,#1fe 1px,#70ff8f 4px,#c0ff3f 6px,#f2ff0d 8px,#fff800 10px,#ffc800 14px,#ff9000 17px,#ff5a00 24px,#ff3c00 35px,#ff2400 50px,#ff0500 60px,#d10000 72px,#9a0000 100px,#800000 130px,#800000 140px)"></i>
<i style="left:194px;top:251px;height:140px;background:linear-gradient(#00aeff 0px,#00f0ff 1px,#1affe5 2px,#7cff83 6px,#bcff43 8px,#ebff14 10px,#feff01 12px,#ff9000 24px,#ff6c00 29px,#ff4000 42px,#ff2300 60px,#f80000 72px,#c30000 86px,#920000 115px,#800000 140px)"></i>
<i style="left:195px;top:251px;height:140px;background:linear-gradient(#00bfff 0px,#00fdff 1px,#84ff7b 5px,#cdff32 7px,#e6ff19 8px,#ff0 10px,#ffd600 14px,#ffa300 17px,#ff6300 24px,#ff3400 42px,#ff1000 60px,#dc0000 72px,#b50000 86px,#890000 115px,#800000 140px)"></i>
<i style="left:196px;top:251px;height:140px;background:linear-gradient(#00f5ff 0px,#58ffa7 3px,#cfff30 6px,#ebff14 7px,#fff100 10px,#ffb700 14px,#ff8100 17px,#ff6400 20px,#ff3700 35px,#ff1e00 50px,#f90000 60px,#c90000 72px,#960000 100px,#800000 130px,#800000 140px)"></i>
<i style="left:197px;top:251px;height:140px;background:linear-gradient(#00a9ff 0px,#00f3ff 1px,#54ffab 3px,#b7ff48 5px,#f0ff0f 7px,#ffea00 10px,#ffd100 12px,#ff7300 17px,#ff4900 24px,#ff1600 50px,#e00 60px,#c20000 72px,#920000 100px,#800000 140px)"></i>
<i style="left:198px;top:251px;height:140px;background:linear-gradient(#00c5ff 0px,#0ff 1px,#9dff62 5px,#e2ff1d 7px,#f4ff0b 8px,#ffdf00 12px,#ff8a00 17px,#ff6b00 20px,#f40 29px,#f20 50px,#f00 60px,#ce0000 72px,#980000 100px,#800000 130px,#800000 140px)"></i>
<i style="left:199px;top:251px;height:140px;background:linear-gradient(#0085ff 0px,#00daff 1px,#10ffef 2px,#c0ff3f 6px,#f2ff0d 8px,#fff800 10px,#ffc500 14px,#ff8d00 17px,#ff6e00 20px,#ff4500 29px,#ff2400 50px,#ff0300 60px,#cf0000 72px,#900 100px,#800000 130px,#800000 140px)"></i>
<i style="left:200px;top:251px;height:110px;background:linear-gradient(#00b6ff 0px,#00f9ff 1px,#b3ff4c 5px,#efff10 7px,#ffec00 10px,#ffd300 12px,#f70 17px,#ff4b00 24px,#ff1800 50px,#f10000 60px,#c40000 72px,#800 110px)"></i>
<i style="left:201px;top:251px;height:110px;background:linear-gradient(#0000da 0px,#0078ff 1px,#00d8ff 2px,#20ffdf 3px,#97ff68 5px,#e4ff1b 7px,#fff300 10px,#ffb800 14px,#ff8200 17px,#ff6400 20px,#ff3700 35px,#ff1e00 50px,#f90000 60px,#ca0000 72px,#890000 110px)"></i>
<i style="left:202px;top:251px;height:110px;background:linear-gradient(#0000b3 0px,#0062ff 1px,#00cbff 2px,#1affe5 3px,#98ff67 5px,#e6ff19 7px,#fff100 10px,#ffb500 14px,#ff7f00 17px,#ff6300 20px,#ff3600 35px,#f70000 60px,#c80000 72px,#890000 110px)"></i>
<i style="left:203px;top:251px;height:110px;background:linear-gradient(#00009a 0px,#0052ff 1px,#00beff 2px,#05fffa 3px,#79ff86 5px,#ceff31 7px,#eaff15 8px,#fffd00 10px,#ffd100 14px,#f90 17px,#ff5e00 24px,#ff3e00 35px,#ff0b00 60px,#b30000 86px,#8d0000 110px)"></i>
<i style="left:204px;top:251px;height:140px;background:linear-gradient(#0064ff 0px,#00c9ff 1px,#09fff6 2px,#a8ff57 5px,#ecff13 7px,#ffef00 10px,#ffb100 14px,#ff7b00 17px,#ff4e00 24px,#ff1b00 50px,#f40000 60px,#c60000 72px,#940000 100px,#800000 130px,#800000 140px)"></i>
<i style="left:205px;top:251px;height:140px;background:linear-gradient(#00aeff 0px,#00f5ff 1px,#53ffac 3px,#b3ff4c 5px,#efff10 7px,#ffeb00 10px,#ffd300 12px,#ff7600 17px,#ff4a00 24px,#ff1800 50px,#f00000 60px,#c40000 72px,#930000 100px,#800000 140px)"></i>
<i style="left:206px;top:251px;height:140px;background:linear-gradient(#007eff 0px,#00daff 1px,#16ffe9 2px,#bf4 5px,#f2ff0d 7px,#feff01 8px,#ffcb00 12px,#ff6d00 17px,#ff4700 24px,#ff1300 50px,#e90000 60px,#bf0000 72px,#910000 100px,#800000 140px)"></i>
<i style="left:207px;top:251px;height:140px;background:linear-gradient(#0000a0 0px,#0057ff 1px,#00c6ff 2px,#1affe5 3px,#9cff63 5px,#e8ff17 7px,#ffef00 10px,#ffb000 14px,#ff7a00 17px,#ff4d00 24px,#ff1a00 50px,#f40000 60px,#c60000 72px,#940000 100px,#800000 130px,#800000 140px)"></i>
<i style="left:208px;top:251px;height:140px;background:linear-gradient(#00b9ff 0px,#00faff 1px,#79ff86 4px,#cdff32 6px,#eaff15 7px,#fff100 10px,#ffb700 14px,#ff8100 17px,#ff6400 20px,#ff3700 35px,#ff1e00 50px,#f90000 60px,#c90000 72px,#960000 100px,#800000 130px,#800000 140px)"></i>
<i style="left:209px;top:251px;height:140px;background:linear-gradient(#00008a 0px,#0049ff 1px,#00bcff 2px,#0ffff0 3px,#8fff70 5px,#bfff40 6px,#e0ff1f 7px,#f2ff0d 8px,#ffdc00 12px,#ff8400 17px,#ff6500 20px,#ff3800 35px,#ff1f00 50px,#fb0000 60px,#cb0000 72px,#970000 100px,#800000 130px,#800000 140px)"></i>
<i style="left:210px;top:251px;height:140px;background:linear-gradient(#000080 0px,#0000fd 1px,#0093ff 2px,#0ff 3px,#54ffab 4px,#9f6 5px,#c7ff38 6px,#e6ff19 7px,#f6ff09 8px,#ffd200 12px,#ff7400 17px,#ff4a00 24px,#ff1700 50px,#ef0000 60px,#c30000 72px,#930000 100px,#800000 140px)"></i>
<i style="left:211px;top:251px;height:140px;background:linear-gradient(#001eff 0px,#009fff 1px,#00ebff 2px,#1effe1 3px,#af5 6px,#e9ff16 8px,#fffe00 10px,#ffd300 14px,#ff9d00 17px,#ff6000 24px,#ff3f00 35px,#ff0d00 60px,#b40000 86px,#890000 115px,#800000 140px)"></i>
<i style="left:212px;top:251px;height:140px;background:linear-gradient(#0000f1 0px,#0086ff 1px,#00e0ff 2px,#23ffdc 3px,#96ff69 5px,#e3ff1c 7px,#fff400 10px,#ff8400 17px,#ff6500 20px,#ff3800 35px,#ff1f00 50px,#fa0000 60px,#ca0000 72px,#960000 100px,#800000 130px,#800000 140px)"></i>
<i style="left:213px;top:251px;height:140px;background:linear-gradient(#000080 0px,#0035ff 1px,#00b2ff 2px,#10ffef 3px,#9aff65 5px,#e7ff18 7px,#fe0 10px,#ffd500 12px,#ff7800 17px,#ff4c00 24px,#ff1900 50px,#f20000 60px,#c40000 72px,#930000 100px,#800000 140px)"></i>
<i style="left:214px;top:251px;height:140px;background:linear-gradient(#000080 0px,#0037ff 1px,#00b0ff 2px,#00feff 3px,#7cff83 5px,#afff50 6px,#ecff13 8px,#fffc00 10px,#ffcd00 14px,#ff9400 17px,#ff5c00 24px,#ff3d00 35px,#ff2500 50px,#ff0800 60px,#d30000 72px,#9a0000 100px,#800000 130px,#800000 140px)"></i>
<i style="left:215px;top:251px;height:140px;background:linear-gradient(#0037ff 0px,#00afff 1px,#00faff 2px,#a5ff5a 5px,#eaff15 7px,#fff100 10px,#ffb700 14px,#ff8100 17px,#ff6400 20px,#ff3800 35px,#ff1e00 50px,#f90000 60px,#c90000 72px,#950000 100px,#800000 130px,#800000 140px)"></i>
<i style="left:216px;top:251px;height:140px;background:linear-gradient(#0016ff 0px,#00a2ff 1px,#05fffa 2px,#94ff6b 4px,#c5ff3a 5px,#e6ff19 6px,#fffb00 8px,#ff6400 17px,#f40 24px,#ff0e00 50px,#e10000 60px,#ba0000 72px,#8d0000 100px,#800000 140px)"></i>
<i style="left:217px;top:251px;height:140px;background:linear-gradient(#0004ff 0px,#009fff 1px,#0bfff4 2px,#a4ff5b 4px,#d1ff2e 5px,#fbff04 7px,#ffd700 10px,#ff8600 14px,#ff5e00 17px,#ff4100 24px,#ff2000 42px,#ff0500 50px,#b60000 72px,#890000 100px,#800000 140px)"></i>
<i style="left:218px;top:251px;height:123px;background:linear-gradient(#0035ff 0px,#00bfff 1px,#1fffe0 2px,#acff53 4px,#d7ff28 5px,#fdff02 7px,#ffd700 10px,#ff8600 14px,#ff5e00 17px,#ff3700 29px,#ff2000 42px,#ff0200 50px,#d10000 60px,#980000 86px,#800000 115px,#800000 123px)"></i>
<i style="left:219px;top:251px;height:117px;background:linear-gradient(#0000e8 0px,#00a0ff 1px,#1affe5 2px,#76ff89 3px,#b5ff4a 4px,#dcff23 5px,#fffb00 7px,#ff7800 14px,#ff5800 17px,#ff3f00 24px,#f60000 50px,#c90000 60px,#930000 86px,#800000 117px)"></i>
<i style="left:220px;top:251px;height:111px;background:linear-gradient(#0017ff 0px,#00c4ff 1px,#3affc5 2px,#8dff72 3px,#c8ff37 4px,#f8ff07 6px,#ffbd00 10px,#ff6e00 14px,#ff4500 20px,#ff1600 42px,#ef0000 50px,#c30000 60px,#8e0000 86px,#800000 111px)"></i>
<i style="left:221px;top:251px;height:107px;background:linear-gradient(#0000b4 0px,#0094ff 1px,#24ffdb 2px,#81ff7e 3px,#beff41 4px,#f7ff08 6px,#ffba00 10px,#ff6e00 14px,#ff4600 20px,#ff1800 42px,#f10000 50px,#c40000 60px,#8e0000 86px,#800000 107px)"></i>
<i style="left:222px;top:251px;height:101px;background:linear-gradient(#23ffdc 0px,#7bff84 1px,#d9ff26 3px,#fffe00 5px,#fc0 8px,#ff7900 12px,#ff4900 17px,#ff2500 35px,#ff0d00 42px,#e10000 50px,#ba0000 60px,#890000 86px,#800000 101px)"></i>
<i style="left:223px;top:251px;height:97px;background:linear-gradient(#0000e8 0px,#00c6ff 1px,#4fffb0 2px,#9dff62 3px,#f3ff0c 5px,#ffdb00 7px,#ff9000 10px,#ff6c00 12px,#ff4500 17px,#f20 35px,#ff0500 42px,#b60000 60px,#870000 86px,#800000 97px)"></i>
<i style="left:224px;top:251px;height:91px;background:linear-gradient(#0024ff 0px,#00efff 1px,#6f9 2px,#afff50 3px,#e2ff1d 4px,#fff800 5px,#ff9e00 8px,#ff7500 10px,#ff4b00 14px,#ff1300 35px,#ed0000 42px,#c60000 50px,#940000 72px,#800000 91px)"></i>
<i style="left:225px;top:251px;height:87px;background:linear-gradient(#0098ff 0px,#31ffce 1px,#8cff73 2px,#c6ff39 3px,#efff10 4px,#fff100 5px,#ffa100 8px,#ff5f00 12px,#ff3a00 20px,#ff1b00 35px,#fa0000 42px,#ce0000 50px,#970000 72px,#840000 87px)"></i>
<i style="left:226px;top:251px;height:83px;background:linear-gradient(#005cff 0px,#14ffeb 1px,#85ff7a 2px,#cdff32 3px,#fffe00 4px,#fa0 6px,#f70 8px,#ff4900 12px,#f70000 35px,#cf0000 42px,#9e0000 60px,#800000 83px)"></i>
<i style="left:227px;top:251px;height:79px;background:linear-gradient(#01f 0px,#00ecff 1px,#71ff8e 2px,#c5ff3a 3px,#fff900 4px,#ffa100 6px,#ff6e00 8px,#ff4700 12px,#ff1500 29px,#f30000 35px,#c00 42px,#9b0000 60px,#820000 79px)"></i>
<i style="left:228px;top:251px;height:77px;background:linear-gradient(#06f 0px,#21ffde 1px,#92ff6d 2px,#daff25 3px,#ffe900 4px,#ff9a00 6px,#ff6b00 8px,#ff4600 12px,#f80000 35px,#cf0000 42px,#9d0000 60px,#840000 77px)"></i>
<i style="left:229px;top:251px;height:74px;background:linear-gradient(#00b3ff 0px,#53ffac 1px,#b4ff4b 2px,#fdff02 3px,#ffc900 4px,#ff8400 6px,#ff6000 8px,#ff4200 12px,#ff0d00 29px,#c40000 42px,#960000 60px,#830000 74px)"></i>
<i style="left:230px;top:251px;height:72px;background:linear-gradient(#0071ff 0px,#32ffcd 1px,#aeff51 2px,#fffb00 3px,#ffbf00 4px,#ff7600 6px,#ff4700 10px,#ff1a00 24px,#fe0000 29px,#ba0000 42px,#900000 60px,#820000 72px)"></i>
<i style="left:231px;top:251px;height:71px;background:linear-gradient(#00fdff 0px,#89ff76 1px,#e6ff19 2px,#ffd600 3px,#ff8500 5px,#ff5400 8px,#ff2d00 17px,#fc0000 29px,#d60000 35px,#a40000 50px,#830000 71px)"></i>
<i style="left:232px;top:251px;height:70px;background:linear-gradient(#58ffa7 0px,#c5ff3a 1px,#fff000 2px,#fb0 3px,#ff7600 5px,#ff4f00 8px,#f70000 29px,#d20000 35px,#a30000 50px,#830000 70px)"></i>
<i style="left:233px;top:251px;height:68px;background:linear-gradient(#2bffd4 0px,#b2ff4d 1px,#fff400 2px,#ffba00 3px,#ff8f00 4px,#ff6200 6px,#ff4000 10px,#ff0e00 24px,#ed0000 29px,#c90000 35px,#890000 60px,#830000 68px)"></i>
<i style="left:234px;top:251px;height:67px;background:linear-gradient(#26ffd9 0px,#b2ff4d 1px,#fff200 2px,#ffb700 3px,#ff8b00 4px,#ff5300 7px,#ff2800 17px,#ff0f00 24px,#e00 29px,#cb0000 35px,#8a0000 60px,#840000 67px)"></i>
<i style="left:235px;top:251px;height:66px;background:linear-gradient(#0af 0px,#6eff91 1px,#e5ff1a 2px,#fc0 3px,#ff9600 4px,#ff6400 6px,#ff4000 10px,#ff1000 24px,#f10000 29px,#ce0000 35px,#8b0000 60px,#850000 66px)"></i>
<i style="left:236px;top:251px;height:65px;background:linear-gradient(#0064ff 0px,#49ffb6 1px,#d2ff2d 2px,#ffd300 3px,#ff9b00 4px,#ff6300 6px,#ff3f00 10px,#ff0c00 24px,#ca0000 35px,#8a0000 60px,#850000 65px)"></i>
<i style="left:237px;top:251px;height:64px;background:linear-gradient(#00b5ff 0px,#7aff85 1px,#f0ff0f 2px,#ffc000 3px,#ff9100 4px,#ff5f00 6px,#ff3e00 10px,#ff0c00 24px,#cb0000 35px,#8a0000 60px,#860000 64px)"></i>
<i style="left:238px;top:251px;height:63px;background:linear-gradient(#0018ff 0px,#20ffdf 1px,#bfff40 2px,#ffda00 3px,#ffa000 4px,#ff6100 6px,#ff3c00 10px,#ff0400 24px,#c40000 35px,#800 60px,#850000 63px)"></i>
<i style="left:239px;top:251px;height:62px;background:linear-gradient(#00f0ff 0px,#9fff60 1px,#fff200 2px,#ffae00 3px,#ff6a00 5px,#ff4c00 7px,#f00 24px,#c00000 35px,#850000 62px)"></i>
<i style="left:240px;top:251px;height:61px;background:linear-gradient(#3fffc0 0px,#cdff32 1px,#ffd700 2px,#ff9e00 3px,#ff6400 5px,#f40 8px,#ff0200 24px,#c20000 35px,#860000 61px)"></i>
<i style="left:241px;top:251px;height:61px;background:linear-gradient(#54ffab 0px,#dfff20 1px,#ffc800 2px,#ff9600 3px,#ff5d00 5px,#ff3600 10px,#ff0d00 20px,#f10000 24px,#cf0000 29px,#920000 50px,#830000 61px)"></i>
<i style="left:242px;top:251px;height:61px;background:linear-gradient(#6dff92 0px,#ef1 1px,#ffc000 2px,#ff9100 3px,#ff5b00 5px,#ff3600 10px,#ff1000 20px,#f40000 24px,#b90000 35px,#840000 61px)"></i>
<i style="left:243px;top:251px;height:61px;background:linear-gradient(#20ffdf 0px,#c3ff3c 1px,#ffda00 2px,#ff9f00 3px,#ff5f00 5px,#ff3600 10px,#ff0f00 20px,#f30000 24px,#b90000 35px,#840000 61px)"></i>
<i style="left:244px;top:251px;height:60px;background:linear-gradient(#003dff 0px,#40ffbf 1px,#d8ff27 2px,#fc0 3px,#ff9200 4px,#ff6e00 5px,#ff4300 8px,#ff0e00 20px,#f30000 24px,#b90000 35px,#850000 60px)"></i>
<i style="left:245px;top:251px;height:60px;background:linear-gradient(#c8ff37 0px,#ffd700 1px,#ffa000 2px,#ff6500 4px,#f40 7px,#ff1000 20px,#f50000 24px,#b00 35px,#860000 60px)"></i>
<i style="left:246px;top:251px;height:60px;background:linear-gradient(#0cf 0px,#96ff69 1px,#fff500 2px,#ffae00 3px,#ff8000 4px,#ff5300 6px,#ff2e00 12px,#ff0e00 20px,#f40000 24px,#ba0000 35px,#860000 60px)"></i>
<i style="left:247px;top:251px;height:60px;background:linear-gradient(#2dffd2 0px,#cdff32 1px,#ffd300 2px,#ff9700 3px,#ff7000 4px,#f40 7px,#ff0500 20px,#ca0000 29px,#900000 50px,#840000 60px)"></i>
<i style="left:248px;top:251px;height:59px;background:linear-gradient(#00cfff 0px,#96ff69 1px,#fff400 2px,#ffac00 3px,#ff7e00 4px,#ff5300 6px,#ff2f00 12px,#f90000 24px,#bf0000 35px,#800 59px)"></i>
<i style="left:249px;top:251px;height:59px;background:linear-gradient(#83ff7c 0px,#fffe00 1px,#ffb200 2px,#ff8100 3px,#ff5300 5px,#ff3000 10px,#fc0000 20px,#c40000 29px,#8d0000 50px,#830000 59px)"></i>
<i style="left:250px;top:251px;height:59px;background:linear-gradient(#12ffed 0px,#c0ff3f 1px,#ffd500 2px,#ff9500 3px,#ff5a00 5px,#ff3900 8px,#fb0000 20px,#c30000 29px,#8c0000 50px,#830000 59px)"></i>
<i style="left:251px;top:251px;height:59px;background:linear-gradient(#b2ff4d 0px,#ffde00 1px,#ff9a00 2px,#ff5c00 4px,#ff3500 8px,#f70000 20px,#c00000 29px,#8a0000 50px,#820000 59px)"></i>
<i style="left:252px;top:251px;height:59px;background:linear-gradient(#5effa1 0px,#f0ff0f 1px,#ffb700 2px,#ff8500 3px,#ff5300 5px,#ff3000 10px,#ff0500 20px,#cb0000 29px,#900000 50px,#840000 59px)"></i>
<i style="left:253px;top:251px;height:59px;background:linear-gradient(#ff9f00 0px,#ff7600 1px,#ff4700 4px,#ff1500 17px,#ff0200 20px,#c80000 29px,#8e0000 50px,#830000 59px)"></i>
<i style="left:254px;top:251px;height:58px;background:linear-gradient(#af5 0px,#ffe000 1px,#ff9d00 2px,#ff7400 3px,#ff4c00 5px,#ff2f00 10px,#ff0900 20px,#b70000 35px,#860000 58px)"></i>
<i style="left:255px;top:251px;height:57px;background:linear-gradient(#b5ff4a 0px,#ffd900 1px,#ff9700 2px,#ff6f00 3px,#ff4700 5px,#ff2600 12px,#fc0000 20px,#c50000 29px,#8c0000 50px,#850000 57px)"></i>
<i style="left:256px;top:251px;height:56px;background:linear-gradient(#ff9700 0px,#ff7100 1px,#ff4100 4px,#ff0100 20px,#cb0000 29px,#910000 50px,#870000 56px)"></i>
<i style="left:257px;top:251px;height:55px;background:linear-gradient(#e7ff18 0px,#ffb900 1px,#ff8100 2px,#ff4b00 4px,#ff2b00 8px,#fb0000 17px,#c00 24px,#960000 42px,#830000 55px)"></i>
<i style="left:258px;top:251px;height:54px;background:linear-gradient(#ff9500 0px,#ff6b00 1px,#ff4200 3px,#ff0500 14px,#c40000 24px,#910000 42px,#820000 54px)"></i>
<i style="left:259px;top:251px;height:53px;background:linear-gradient(#fe0 0px,#ff9e00 1px,#ff6f00 2px,#ff4100 4px,#ff0700 14px,#b80000 29px,#860000 53px)"></i>
<i style="left:260px;top:251px;height:52px;background:linear-gradient(#ffac00 0px,#ff7600 1px,#ff4100 3px,#ff0d00 10px,#f00000 14px,#ba0000 24px,#8d0000 42px,#820000 52px)"></i>
<i style="left:261px;top:251px;height:49px;background:linear-gradient(#ff9600 0px,#ff6700 1px,#ff3900 3px,#ff0500 10px,#ba0000 24px,#860000 49px)"></i>
<i style="left:262px;top:251px;height:47px;background:linear-gradient(#ff7c00 0px,#ff5200 1px,#ff2700 3px,#f00 7px,#c30000 17px,#800 42px,#830000 47px)"></i>
<i style="left:263px;top:251px;height:44px;background:linear-gradient(#ff5d00 0px,#ff2400 2px,#fd0000 5px,#c60000 14px,#900000 35px,#840000 44px)"></i>
<i style="left:264px;top:251px;height:42px;background:linear-gradient(#ff3b00 0px,#ff0900 2px,#de0000 6px,#b00000 17px,#820000 42px)"></i>
<i style="left:265px;top:251px;height:40px;background:linear-gradient(#ff1a00 0px,#ff0200 1px,#cd0000 6px,#900 24px,#820000 40px)"></i>
<i style="left:266px;top:251px;height:38px;background:linear-gradient(#fa0000 0px,#d30000 3px,#ac0000 14px,#840000 38px)"></i>
<i style="left:267px;top:251px;height:36px;background:linear-gradient(#df0000 0px,#bd0000 4px,#890000 24px,#800000 36px)"></i>
<i style="left:268px;top:251px;height:34px;background:linear-gradient(#d10000 0px,#af0000 6px,#870000 24px,#800000 34px)"></i>
<i style="left:269px;top:251px;height:31px;background:linear-gradient(#c40000 0px,#960000 14px,#800000 31px)"></i>
<i style="left:270px;top:251px;height:27px;background:linear-gradient(#b80000 0px,#800 17px,#800000 27px)"></i>
<i style="left:271px;top:251px;height:30px;background:linear-gradient(#bc0000 0px,#890000 17px,#800000 30px)"></i>
<i style="left:272px;top:251px;height:34px;background:linear-gradient(#d00000 0px,#ad0000 6px,#830000 29px,#800000 34px)"></i>
<i style="left:273px;top:251px;height:37px;background:linear-gradient(#e70000 0px,#c20000 3px,#8f0000 24px,#820000 37px)"></i>
<i style="left:274px;top:251px;height:40px;background:linear-gradient(#fc0000 0px,#d50000 2px,#b60000 7px,#800 29px,#800000 40px)"></i>
<i style="left:275px;top:251px;height:43px;background:linear-gradient(#ff1a00 0px,#f80000 1px,#ce0000 4px,#ac0000 14px,#820000 43px)"></i>
<i style="left:276px;top:251px;height:45px;background:linear-gradient(#ff3500 0px,#ff0c00 1px,#e00000 3px,#be0000 8px,#800 35px,#800000 45px)"></i>
<i style="left:277px;top:251px;height:47px;background:linear-gradient(#ff4a00 0px,#ff1b00 1px,#fc0000 2px,#d20000 5px,#a90000 17px,#830000 42px,#800000 47px)"></i>
<i style="left:278px;top:251px;height:49px;background:linear-gradient(#ff5d00 0px,#ff2900 1px,#ff0800 2px,#d20000 6px,#a80000 20px,#810000 49px)"></i>
<i style="left:279px;top:251px;height:51px;background:linear-gradient(#ff4b00 0px,#ff2100 1px,#ff0700 2px,#d20000 7px,#a50000 24px,#820000 51px)"></i>
<i style="left:280px;top:251px;height:52px;background:linear-gradient(#f0ff0f 0px,#ff9300 1px,#ff4900 2px,#ff1c00 3px,#fe0000 4px,#d50000 7px,#b10000 17px,#860000 42px,#800000 52px)"></i>
<i style="left:281px;top:251px;height:53px;background:linear-gradient(#ff6d00 0px,#ff3900 1px,#ff0400 3px,#ce0000 10px,#8b0000 42px,#830000 53px)"></i>
<i style="left:282px;top:251px;height:54px;background:linear-gradient(#ffbd00 0px,#ff6a00 1px,#ff3800 2px,#ff0400 4px,#d10000 10px,#a20000 29px,#820000 54px)"></i>
<i style="left:283px;top:251px;height:55px;background:linear-gradient(#ff7900 0px,#ff4300 1px,#ff0b00 3px,#ef0000 5px,#c50000 12px,#8e0000 35px,#800000 55px)"></i>
<i style="left:284px;top:251px;height:56px;background:linear-gradient(#fc0 0px,#ff7a00 1px,#ff4800 2px,#ff1400 4px,#f40000 7px,#bc0000 20px,#840000 56px)"></i>
<i style="left:285px;top:251px;height:57px;background:linear-gradient(#fff500 0px,#ff9400 1px,#ff5a00 2px,#ff1e00 4px,#f90000 7px,#c70000 17px,#870000 50px,#830000 57px)"></i>
<i style="left:286px;top:251px;height:58px;background:linear-gradient(#ff3200 0px,#ff0800 6px,#c90000 20px,#8d0000 50px,#850000 58px)"></i>
<i style="left:287px;top:251px;height:59px;background:linear-gradient(#ffcf00 0px,#ff8300 1px,#ff5600 2px,#ff2800 4px,#ff0500 8px,#be0000 24px,#850000 59px)"></i>
<i style="left:288px;top:251px;height:59px;background:linear-gradient(#beff41 0px,#ffc700 1px,#ff7f00 2px,#ff5400 3px,#ff2800 5px,#ff0100 10px,#c10000 24px,#8d0000 50px,#850000 59px)"></i>
<i style="left:289px;top:251px;height:60px;background:linear-gradient(#a3ff5c 0px,#ffd900 1px,#ff8d00 2px,#ff6000 3px,#ff3200 5px,#ff0f00 10px,#ed0000 17px,#c00000 29px,#870000 60px)"></i>
<i style="left:290px;top:251px;height:60px;background:linear-gradient(#c4ff3b 0px,#ffc700 1px,#ff8300 2px,#ff5a00 3px,#ff3100 5px,#ff0200 12px,#b80000 29px,#840000 60px)"></i>
<i style="left:291px;top:251px;height:61px;background:linear-gradient(#ffd800 0px,#ff8f00 1px,#ff6300 2px,#ff3900 4px,#ff0400 12px,#b60000 29px,#8b0000 50px,#820000 61px)"></i>
<i style="left:292px;top:251px;height:61px;background:linear-gradient(#a4ff5b 0px,#ffdb00 1px,#ff9100 2px,#ff6400 3px,#ff3a00 5px,#ff0b00 12px,#ec0000 17px,#b80000 29px,#8b0000 50px,#820000 61px)"></i>
<i style="left:293px;top:251px;height:62px;background:linear-gradient(#e8ff17 0px,#ffb500 1px,#ff7c00 2px,#ff4500 4px,#ff2500 8px,#f70000 17px,#bc0000 29px,#8f0000 50px,#830000 62px)"></i>
<i style="left:294px;top:251px;height:63px;background:linear-gradient(#f7ff08 0px,#ffad00 1px,#ff7800 2px,#ff4600 4px,#ff2900 8px,#ff0200 17px,#c30000 29px,#850000 60px,#830000 63px)"></i>
<i style="left:295px;top:251px;height:63px;background:linear-gradient(#a1ff5e 0px,#ffe000 1px,#ff9600 2px,#ff6b00 3px,#ff4000 5px,#f60000 17px,#b90000 29px,#8a0000 50px,#800000 63px)"></i>
<i style="left:296px;top:251px;height:63px;background:linear-gradient(#00a7ff 0px,#8bff74 1px,#fe0 2px,#ff9f00 3px,#ff7000 4px,#ff4200 6px,#fa0000 17px,#b00 29px,#8d0000 50px,#810000 63px)"></i>
<i style="left:297px;top:251px;height:64px;background:linear-gradient(#e5ff1a 0px,#ffbd00 1px,#ff8600 2px,#ff4f00 4px,#ff2e00 8px,#ff0100 17px,#c10000 29px,#920000 50px,#830000 64px)"></i>
<i style="left:298px;top:251px;height:71px;background:linear-gradient(#05fffa 0px,#bdff42 1px,#ffd500 2px,#ff9400 3px,#ff6d00 4px,#ff4500 6px,#f80000 20px,#b80000 35px,#890000 60px,#820000 71px)"></i>
<i style="left:299px;top:251px;height:77px;background:linear-gradient(#4affb5 0px,#e6ff19 1px,#ffbf00 2px,#ff8900 3px,#ff5200 5px,#ff3500 8px,#f60000 20px,#c90000 29px,#8a0000 60px,#800000 77px)"></i>
<i style="left:300px;top:251px;height:81px;background:linear-gradient(#fbff04 0px,#ffb800 1px,#ff8b00 2px,#ff5900 4px,#ff3a00 8px,#ff0400 24px,#bd0000 42px,#8a0000 72px,#840000 81px)"></i>
<i style="left:301px;top:251px;height:86px;background:linear-gradient(#aeff51 0px,#ffe700 1px,#ffa800 2px,#ff6200 4px,#ff3c00 8px,#fd0000 24px,#cb0000 35px,#900 60px,#800000 86px)"></i>
<i style="left:302px;top:251px;height:91px;background:linear-gradient(#41ffbe 0px,#d7ff28 1px,#ffd100 2px,#ff9b00 3px,#ff5e00 5px,#ff3700 10px,#ff0a00 24px,#d60000 35px,#9f0000 60px,#800000 91px)"></i>
<i style="left:303px;top:251px;height:96px;background:linear-gradient(#47ffb8 0px,#d0ff2f 1px,#ffda00 2px,#ffa100 3px,#ff6900 5px,#ff4700 8px,#ff0c00 29px,#f30000 35px,#bd0000 50px,#800 86px,#820000 96px)"></i>
<i style="left:304px;top:251px;height:101px;background:linear-gradient(#00d0ff 0px,#85ff7a 1px,#f2ff0d 2px,#ff9200 4px,#ff5400 7px,#ff2a00 17px,#f50000 35px,#bf0000 50px,#890000 86px,#800000 101px)"></i>
<i style="left:305px;top:251px;height:106px;background:linear-gradient(#54ffab 0px,#caff35 1px,#ffe900 2px,#ff8f00 4px,#ff6400 6px,#ff4300 10px,#f90000 35px,#c30000 50px,#8a0000 86px,#800000 106px)"></i>
<i style="left:306px;top:251px;height:111px;background:linear-gradient(#3bffc4 0px,#b0ff4f 1px,#faff05 2px,#ffa500 4px,#ff6f00 6px,#ff4700 10px,#ff2700 24px,#ff0c00 35px,#cf0000 50px,#910000 86px,#800000 111px)"></i>
<i style="left:307px;top:251px;height:117px;background:linear-gradient(#0023ff 0px,#02fffd 1px,#8bff74 2px,#e7ff18 3px,#ffd500 4px,#f80 6px,#ff6300 8px,#f40 12px,#ff2a00 24px,#f90000 42px,#bd0000 60px,#870000 100px,#800000 117px)"></i>
<i style="left:308px;top:251px;height:123px;background:linear-gradient(#009cff 0px,#41ffbe 1px,#a4ff5b 2px,#e4ff1b 3px,#ffe500 4px,#ff9d00 6px,#ff7200 8px,#ff4300 14px,#ff1200 42px,#f30000 50px,#cd0000 60px,#8c0000 100px,#800000 123px)"></i>
<i style="left:309px;top:251px;height:129px;background:linear-gradient(#00fcff 0px,#74ff8b 1px,#bcff43 2px,#edff12 3px,#ffed00 4px,#ff9400 7px,#ff6300 10px,#ff4600 14px,#ff1700 42px,#fc0000 50px,#d50000 60px,#a10000 86px,#840000 115px,#800000 129px)"></i>
<i style="left:310px;top:251px;height:136px;background:linear-gradient(#0087ff 0px,#2fffd0 1px,#93ff6c 2px,#d4ff2b 3px,#fffc00 4px,#ffaf00 6px,#ff7f00 8px,#ff4f00 12px,#ff2f00 24px,#ff0c00 42px,#c90000 60px,#8b0000 100px,#800000 136px)"></i>
<i style="left:311px;top:251px;height:140px;background:linear-gradient(#00008c 0px,#0097ff 1px,#35ffca 2px,#98ff67 3px,#d9ff26 4px,#fff800 5px,#ff9300 8px,#ff6b00 10px,#ff4800 14px,#f60000 50px,#d00000 60px,#a00000 86px,#840000 115px,#800000 140px)"></i>
<i style="left:312px;top:251px;height:140px;background:linear-gradient(#00c4ff 0px,#4affb5 1px,#9aff65 2px,#f5ff0a 4px,#ffb600 7px,#ff7500 10px,#ff4d00 14px,#ff2e00 29px,#fa0000 50px,#d40000 60px,#a10000 86px,#840000 115px,#800000 140px)"></i>
<i style="left:313px;top:251px;height:140px;background:linear-gradient(#3affc5 0px,#8dff72 1px,#c0ff3f 2px,#fffe00 4px,#ff7400 10px,#ff4c00 14px,#ff2c00 29px,#f40000 50px,#cf0000 60px,#9f0000 86px,#830000 115px,#800000 140px)"></i>
<i style="left:314px;top:251px;height:140px;background:linear-gradient(#0009ff 0px,#00dbff 1px,#59ffa6 2px,#a8ff57 3px,#dfff20 4px,#fff900 5px,#f90 8px,#ff6e00 10px,#ff4700 14px,#ff0700 42px,#c60000 60px,#890000 100px,#800000 140px)"></i>
<i style="left:315px;top:251px;height:140px;background:linear-gradient(#000080 0px,#0083ff 1px,#25ffda 2px,#84ff7b 3px,#c1ff3e 4px,#ebff14 5px,#fff400 6px,#ff8c00 10px,#ff6700 12px,#f40 17px,#ff1c00 42px,#ff0300 50px,#ba0000 72px,#850000 115px,#800000 140px)"></i>
<i style="left:316px;top:251px;height:140px;background:linear-gradient(#0000c0 0px,#00a8ff 1px,#34ffcb 2px,#8fff70 3px,#c4ff3b 4px,#fffb00 6px,#ff7800 12px,#ff4700 17px,#ff2400 42px,#ff0e00 50px,#e60000 60px,#c00000 72px,#860000 115px,#800000 140px)"></i>
<i style="left:317px;top:251px;height:140px;background:linear-gradient(#00fbff 0px,#62ff9d 1px,#a3ff5c 2px,#cfff30 3px,#fffc00 5px,#ffbe00 8px,#ff6700 12px,#ff4300 17px,#ff1600 42px,#f90000 50px,#d20000 60px,#a00000 86px,#830000 115px,#800000 140px)"></i>
<i style="left:318px;top:251px;height:140px;background:linear-gradient(#49ffb6 0px,#8eff71 1px,#dfff20 3px,#fff800 5px,#ffbe00 8px,#ff6700 12px,#ff4300 17px,#ff1300 42px,#f40000 50px,#ce0000 60px,#8b0000 100px,#800000 140px)"></i>
<i style="left:319px;top:251px;height:140px;background:linear-gradient(#0000b3 0px,#09f 1px,#29ffd6 2px,#8f7 3px,#c2ff3d 4px,#fffd00 6px,#ff7100 12px,#ff4500 17px,#f80000 50px,#d00000 60px,#8c0000 100px,#800000 140px)"></i>
<i style="left:320px;top:251px;height:140px;background:linear-gradient(#003eff 0px,#00d6ff 1px,#3bffc4 2px,#8bff74 3px,#c4ff3b 4px,#f8ff07 6px,#ffbd00 10px,#ff6c00 14px,#ff5100 17px,#ff1200 50px,#eb0000 60px,#c20000 72px,#860000 115px,#800000 140px)"></i>
<i style="left:321px;top:251px;height:140px;background:linear-gradient(#0000e0 0px,#0097ff 1px,#0afff5 2px,#64ff9b 3px,#a9ff56 4px,#d7ff28 5px,#ff0 7px,#ffd100 10px,#ff7e00 14px,#ff5a00 17px,#ff3d00 29px,#ff1c00 50px,#f90000 60px,#cb0000 72px,#900 100px,#800000 130px,#800000 140px)"></i>
<i style="left:322px;top:251px;height:129px;background:linear-gradient(#003cff 0px,#00d4ff 1px,#3cffc3 2px,#8dff72 3px,#c7ff38 4px,#faff05 6px,#ffb300 10px,#ff6400 14px,#ff4b00 17px,#ff1f00 42px,#ff0700 50px,#b00 72px,#900000 100px,#800000 129px)"></i>
<i style="left:323px;top:251px;height:129px;background:linear-gradient(#000080 0px,#0042ff 1px,#00d5ff 2px,#4fb 3px,#97ff68 4px,#cdff32 5px,#fcff03 7px,#ffcf00 10px,#ff7a00 14px,#ff5800 17px,#ff3100 35px,#ff1700 50px,#f20000 60px,#c70000 72px,#970000 100px,#800000 129px)"></i>
<i style="left:324px;top:251px;height:140px;background:linear-gradient(#0004ff 0px,#00a7ff 1px,#0efff1 2px,#a7ff58 4px,#d7ff28 5px,#feff01 7px,#ffd100 10px,#ff7c00 14px,#ff5900 17px,#ff3b00 29px,#ff1700 50px,#f20000 60px,#c70000 72px,#970000 100px,#800000 130px,#800000 140px)"></i>
<i style="left:325px;top:251px;height:140px;background:linear-gradient(#002aff 0px,#00b3ff 1px,#0efff1 2px,#9bff64 4px,#cbff34 5px,#f9ff06 7px,#ffda00 10px,#ff8900 14px,#ff5f00 17px,#ff3e00 29px,#ff1e00 50px,#fc0000 60px,#cd0000 72px,#9a0000 100px,#800000 130px,#800000 140px)"></i>
<i style="left:326px;top:251px;height:140px;background:linear-gradient(#0000f9 0px,#00a0ff 1px,#0cfff3 2px,#af5 4px,#d9ff26 5px,#fffd00 7px,#ffc700 10px,#ff7000 14px,#ff5200 17px,#ff0e00 50px,#e50000 60px,#be0000 72px,#850000 115px,#800000 140px)"></i>
<i style="left:327px;top:251px;height:140px;background:linear-gradient(#008cff 0px,#00e7ff 1px,#2bffd4 2px,#a3ff5c 4px,#d0ff2f 5px,#edff12 6px,#fff500 8px,#ffae00 12px,#ff8500 14px,#ff5d00 17px,#ff3c00 29px,#f50000 60px,#c80000 72px,#870000 115px,#800000 140px)"></i>
<i style="left:328px;top:251px;height:140px;background:linear-gradient(#0000ea 0px,#0086ff 1px,#00eaff 2px,#3affc5 3px,#82ff7d 4px,#bf4 5px,#e2ff1d 6px,#fffc00 8px,#ffb900 12px,#ff8d00 14px,#ff6100 17px,#ff3e00 29px,#ff1d00 50px,#fa0000 60px,#c00 72px,#800 115px,#800000 140px)"></i>
<i style="left:329px;top:251px;height:140px;background:linear-gradient(#0008ff 0px,#0097ff 1px,#00f4ff 2px,#8f7 4px,#bfff40 5px,#e5ff1a 6px,#fffa00 8px,#ffb200 12px,#f80 14px,#ff5e00 17px,#ff3c00 29px,#ff1900 50px,#f40000 60px,#c70000 72px,#870000 115px,#800000 140px)"></i>
<i style="left:330px;top:251px;height:140px;background:linear-gradient(#00edff 0px,#1bffe4 1px,#65ff9a 3px,#c6ff39 5px,#e7ff18 6px,#fffb00 8px,#ffbc00 12px,#ff9000 14px,#ff6200 17px,#ff3e00 29px,#ff1d00 50px,#fa0000 60px,#c00 72px,#900 100px,#800000 130px,#800000 140px)"></i>
<i style="left:331px;top:251px;height:140px;background:linear-gradient(#0083ff 0px,#00e1ff 1px,#28ffd7 2px,#a8ff57 4px,#d5ff2a 5px,#ff0 7px,#ffd100 10px,#f70 14px,#f50 17px,#ff3700 29px,#ff0e00 50px,#e40000 60px,#bd0000 72px,#850000 115px,#800000 140px)"></i>
<i style="left:332px;top:251px;height:140px;background:linear-gradient(#0092ff 0px,#00ebff 1px,#31ffce 2px,#afff50 4px,#dbff24 5px,#fffd00 7px,#ffcb00 10px,#ff7200 14px,#ff5200 17px,#ff0900 50px,#b00 72px,#900000 100px,#800000 140px)"></i>
<i style="left:333px;top:251px;height:140px;background:linear-gradient(#00b1ff 0px,#00faff 1px,#cf3 5px,#ecff13 6px,#fff600 8px,#ffd900 10px,#ff8300 14px,#ff5b00 17px,#ff3a00 29px,#ff1500 50px,#e00 60px,#c40000 72px,#860000 115px,#800000 140px)"></i>
<i style="left:334px;top:251px;height:140px;background:linear-gradient(#0000d6 0px,#007cff 1px,#00ebff 2px,#41ffbe 3px,#91ff6e 4px,#c7ff38 5px,#e8ff17 6px,#fff300 8px,#ffd300 10px,#ff7800 14px,#f50 17px,#ff3700 29px,#ff0e00 50px,#e40000 60px,#bd0000 72px,#850000 115px,#800000 140px)"></i>
<i style="left:335px;top:251px;height:140px;background:linear-gradient(#000080 0px,#0046ff 1px,#00c5ff 2px,#27ffd8 3px,#7bff84 4px,#b9ff46 5px,#e1ff1e 6px,#fff900 8px,#ffab00 12px,#ff8100 14px,#ff5a00 17px,#ff3900 29px,#ff1400 50px,#ec0000 60px,#c20000 72px,#860000 115px,#800000 140px)"></i>
<i style="left:336px;top:251px;height:140px;background:linear-gradient(#0000d5 0px,#0078ff 1px,#00dbff 2px,#2fffd0 3px,#b5ff4a 5px,#deff21 6px,#fffd00 8px,#ffb800 12px,#ff8c00 14px,#ff5f00 17px,#ff3d00 29px,#f50000 60px,#c80000 72px,#870000 115px,#800000 140px)"></i>
<i style="left:337px;top:251px;height:140px;background:linear-gradient(#0af 0px,#00f6ff 1px,#a7ff58 4px,#d4ff2b 5px,#ff0 7px,#ffd200 10px,#ff7800 14px,#f50 17px,#ff3700 29px,#ff0d00 50px,#e40000 60px,#bd0000 72px,#910000 100px,#800000 140px)"></i>
<i style="left:338px;top:251px;height:140px;background:linear-gradient(#00cfff 0px,#0ffff0 1px,#b9ff46 4px,#e1ff1e 5px,#fffa00 7px,#ffc700 10px,#ff6d00 14px,#ff5000 17px,#ff0400 50px,#b90000 72px,#8e0000 100px,#800000 140px)"></i>
<i style="left:339px;top:251px;height:140px;background:linear-gradient(#0000a7 0px,#0061ff 1px,#0df 2px,#3cffc3 3px,#91ff6e 4px,#c9ff36 5px,#fbff04 7px,#ffcd00 10px,#ff7100 14px,#ff5200 17px,#ff0700 50px,#ba0000 72px,#8f0000 100px,#800000 140px)"></i>
<i style="left:340px;top:251px;height:140px;background:linear-gradient(#0021ff 0px,#00a5ff 1px,#00f9ff 2px,#8aff75 4px,#c1ff3e 5px,#e6ff19 6px,#fff800 8px,#ffad00 12px,#ff8200 14px,#ff5a00 17px,#ff3900 29px,#ff1300 50px,#eb0000 60px,#c20000 72px,#860000 115px,#800000 140px)"></i>
<i style="left:341px;top:251px;height:140px;background:linear-gradient(#0008ff 0px,#0096ff 1px,#0ef 2px,#3cffc3 3px,#bdff42 5px,#e4ff1b 6px,#fffa00 8px,#ffb000 12px,#ff8500 14px,#ff5c00 17px,#ff3a00 29px,#ff1500 50px,#e00 60px,#c30000 72px,#860000 115px,#800000 140px)"></i>
<i style="left:342px;top:251px;height:140px;background:linear-gradient(#0097ff 0px,#00ecff 1px,#30ffcf 2px,#aeff51 4px,#daff25 5px,#fffc00 7px,#ffc900 10px,#ff6e00 14px,#ff5000 17px,#ff0400 50px,#b80000 72px,#8e0000 100px,#800000 140px)"></i>
<i style="left:343px;top:251px;height:140px;background:linear-gradient(#00e5ff 0px,#17ffe8 1px,#68ff97 3px,#cf3 5px,#edff12 6px,#fff600 8px,#ffae00 12px,#ff8300 14px,#ff5b00 17px,#ff3a00 29px,#ff1400 50px,#ec0000 60px,#c20000 72px,#860000 115px,#800000 140px)"></i>
<i style="left:344px;top:251px;height:140px;background:linear-gradient(#000080 0px,#0000f8 1px,#0090ff 2px,#01fffe 3px,#5dffa2 4px,#a5ff5a 5px,#d5ff2a 6px,#feff01 8px,#ff8a00 14px,#ff5e00 17px,#ff3c00 29px,#ff1700 50px,#f10000 60px,#c60000 72px,#960000 100px,#800000 130px,#800000 140px)"></i>
<i style="left:345px;top:251px;height:140px;background:linear-gradient(#003cff 0px,#00b0ff 1px,#00f8ff 2px,#a7ff58 5px,#d2ff2d 6px,#ef1 7px,#fbff04 8px,#ffc900 12px,#f60 17px,#ff4100 29px,#ff2000 50px,#fe0000 60px,#ce0000 72px,#9a0000 100px,#800000 130px,#800000 140px)"></i>
<i style="left:346px;top:251px;height:140px;background:linear-gradient(#000aff 0px,#0092ff 1px,#00e4ff 2px,#20ffdf 3px,#97ff68 5px,#e9ff16 7px,#ffed00 10px,#ffd200 12px,#ff7000 17px,#ff4300 29px,#ff2400 50px,#ff0700 60px,#d40000 72px,#9d0000 100px,#810000 130px,#800000 140px)"></i>
<i style="left:347px;top:251px;height:140px;background:linear-gradient(#0085ff 0px,#00e2ff 1px,#28ffd7 2px,#abff54 4px,#d9ff26 5px,#fffc00 7px,#ffc800 10px,#ff6d00 14px,#ff4f00 17px,#ff1c00 42px,#ff0100 50px,#d70000 60px,#a00000 86px,#830000 115px,#800000 140px)"></i>
<i style="left:348px;top:251px;height:140px;background:linear-gradient(#000080 0px,#0026ff 1px,#0af 2px,#0ffff0 3px,#a9ff56 5px,#d7ff28 6px,#ff0 8px,#ff8a00 14px,#ff5e00 17px,#ff3b00 29px,#ff1700 50px,#f00000 60px,#c50000 72px,#860000 115px,#800000 140px)"></i>
<i style="left:349px;top:251px;height:140px;background:linear-gradient(#0024ff 0px,#00a6ff 1px,#00f5ff 2px,#bdff42 5px,#e5ff1a 6px,#fffa00 8px,#ffaf00 12px,#ff8400 14px,#ff5b00 17px,#ff3900 29px,#ff1300 50px,#eb0000 60px,#c10000 72px,#850000 115px,#800000 140px)"></i>
<i style="left:350px;top:251px;height:140px;background:linear-gradient(#000cff 0px,#0096ff 1px,#00eaff 2px,#32ffcd 3px,#b3ff4c 5px,#dbff24 6px,#fffe00 8px,#ffb900 12px,#ff8c00 14px,#ff5f00 17px,#ff3c00 29px,#ff1800 50px,#f20000 60px,#c60000 72px,#960000 100px,#800000 130px,#800000 140px)"></i>
<i style="left:351px;top:251px;height:140px;background:linear-gradient(#0000fc 0px,#0092ff 1px,#00f8ff 2px,#9bff64 4px,#cfff30 5px,#feff01 7px,#ffc800 10px,#ff6c00 14px,#ff4e00 17px,#ff1b00 42px,#fe0000 50px,#d50000 60px,#9f0000 86px,#830000 115px,#800000 140px)"></i>
<i style="left:352px;top:251px;height:140px;background:linear-gradient(#0000fd 0px,#0090ff 1px,#00e9ff 2px,#39ffc6 3px,#bdff42 5px,#e5ff1a 6px,#fff800 8px,#ffd900 10px,#ff7f00 14px,#ff5800 17px,#ff2e00 35px,#ff1000 50px,#e60000 60px,#be0000 72px,#850000 115px,#800000 140px)"></i>
<i style="left:353px;top:251px;height:140px;background:linear-gradient(#000080 0px,#0031ff 1px,#00b3ff 2px,#1affe5 3px,#71ff8e 4px,#b4ff4b 5px,#dfff20 6px,#fff900 8px,#ffd800 10px,#ff7d00 14px,#ff5700 17px,#ff3700 29px,#ff0e00 50px,#e40000 60px,#bd0000 72px,#840000 115px,#800000 140px)"></i>
<i style="left:354px;top:251px;height:140px;background:linear-gradient(#00ceff 0px,#0bfff4 1px,#6f9 3px,#d0ff2f 5px,#efff10 6px,#fff200 8px,#ffd400 10px,#ff7900 14px,#f50 17px,#ff3600 29px,#ff0b00 50px,#b00 72px,#900000 100px,#800000 140px)"></i>
<i style="left:355px;top:251px;height:140px;background:linear-gradient(#0000b4 0px,#0065ff 1px,#00d1ff 2px,#2cffd3 3px,#7cff83 4px,#baff45 5px,#e3ff1c 6px,#fff800 8px,#ffd700 10px,#ff7c00 14px,#ff5700 17px,#ff3700 29px,#ff0d00 50px,#e30000 60px,#bc0000 72px,#840000 115px,#800000 140px)"></i>
<i style="left:356px;top:251px;height:140px;background:linear-gradient(#0048ff 0px,#00bdff 1px,#0efff1 2px,#9eff61 4px,#d1ff2e 5px,#ff0 7px,#ffca00 10px,#ff6d00 14px,#ff4f00 17px,#ff1b00 42px,#f00 50px,#d50000 60px,#9f0000 86px,#820000 115px,#800000 140px)"></i>
<i style="left:357px;top:251px;height:140px;background:linear-gradient(#0025ff 0px,#00a2ff 1px,#00efff 2px,#2bffd4 3px,#a4ff5b 5px,#d1ff2e 6px,#fcff03 8px,#ffc500 12px,#ff9600 14px,#ff6400 17px,#ff4700 24px,#ff1c00 50px,#f80000 60px,#ca0000 72px,#980000 100px,#800000 130px,#800000 140px)"></i>
<i style="left:358px;top:251px;height:140px;background:linear-gradient(#0042ff 0px,#00b7ff 1px,#0ff 2px,#bfff40 5px,#e7ff18 6px,#fff800 8px,#ffd900 10px,#ff7f00 14px,#ff5800 17px,#ff3800 29px,#ff0f00 50px,#e50000 60px,#bd0000 72px,#910000 100px,#800000 140px)"></i>
<i style="left:359px;top:251px;height:140px;background:linear-gradient(#0000c4 0px,#006aff 1px,#00ceff 2px,#18ffe7 3px,#9eff61 5px,#cdff32 6px,#ecff13 7px,#fbff04 8px,#ffc400 12px,#ff9400 14px,#ff6300 17px,#ff4600 24px,#ff1b00 50px,#f70000 60px,#c90000 72px,#970000 100px,#800000 130px,#800000 140px)"></i>
<i style="left:360px;top:251px;height:140px;background:linear-gradient(#0089ff 0px,#00dcff 1px,#12ffed 2px,#d6ff29 6px,#feff01 8px,#ffc200 12px,#ff9300 14px,#ff6200 17px,#ff3e00 29px,#f60000 60px,#c80000 72px,#870000 115px,#800000 140px)"></i>
<i style="left:361px;top:251px;height:140px;background:linear-gradient(#03f 0px,#0af 1px,#00f3ff 2px,#2bffd4 3px,#a3ff5c 5px,#d0ff2f 6px,#fcff03 8px,#ffc500 12px,#ff9600 14px,#ff6400 17px,#ff3e00 29px,#f70000 60px,#ca0000 72px,#980000 100px,#800000 130px,#800000 140px)"></i>
<i style="left:362px;top:251px;height:140px;background:linear-gradient(#0000b9 0px,#06f 1px,#00ceff 2px,#2fd 3px,#b1ff4e 5px,#df2 6px,#fffc00 8px,#ffb000 12px,#ff8400 14px,#ff5a00 17px,#ff3900 29px,#f10 50px,#e80000 60px,#bf0000 72px,#920000 100px,#800000 140px)"></i>
<i style="left:363px;top:251px;height:140px;background:linear-gradient(#0037ff 0px,#00acff 1px,#00f4ff 2px,#2dffd2 3px,#a5ff5a 5px,#d2ff2d 6px,#fdff02 8px,#ffc200 12px,#ff9300 14px,#ff6200 17px,#ff3d00 29px,#f50000 60px,#c80000 72px,#870000 115px,#800000 140px)"></i>
<i style="left:364px;top:251px;height:140px;background:linear-gradient(#002fff 0px,#0af 1px,#00f5ff 2px,#b5ff4a 5px,#deff21 6px,#fffc00 8px,#ffb300 12px,#ff8600 14px,#ff5c00 17px,#ff3900 29px,#ff1200 50px,#e90000 60px,#c00000 72px,#850000 115px,#800000 140px)"></i>
<i style="left:365px;top:251px;height:140px;background:linear-gradient(#0000db 0px,#007bff 1px,#0df 2px,#32ffcd 3px,#7fff80 4px,#bdff42 5px,#e5ff1a 6px,#fff600 8px,#ffd500 10px,#ff7800 14px,#ff5400 17px,#ff3500 29px,#ff2000 42px,#ff0700 50px,#ba0000 72px,#8f0000 100px,#800000 140px)"></i>
<i style="left:366px;top:251px;height:140px;background:linear-gradient(#000bff 0px,#0094ff 1px,#00e8ff 2px,#2cffd3 3px,#afff50 5px,#d9ff26 6px,#fffe00 8px,#ffb700 12px,#ff8a00 14px,#ff5d00 17px,#ff3a00 29px,#ff1400 50px,#ec0000 60px,#c20000 72px,#850000 115px,#800000 140px)"></i>
<i style="left:367px;top:251px;height:140px;background:linear-gradient(#0046ff 0px,#00b6ff 1px,#00fbff 2px,#acff53 5px,#d6ff29 6px,#ff0 8px,#ffbd00 12px,#ff8f00 14px,#ff6000 17px,#ff3c00 29px,#ff1700 50px,#f00000 60px,#c50000 72px,#860000 115px,#800000 140px)"></i>
<i style="left:368px;top:251px;height:140px;background:linear-gradient(#03f 0px,#0af 1px,#00f4ff 2px,#2effd1 3px,#a8ff57 5px,#d4ff2b 6px,#feff01 8px,#ffbf00 12px,#ff9000 14px,#ff6100 17px,#ff3c00 29px,#ff1800 50px,#f20000 60px,#c60000 72px,#960000 100px,#800000 130px,#800000 140px)"></i>
<i style="left:369px;top:251px;height:140px;background:linear-gradient(#0092ff 0px,#00e1ff 1px,#13ffec 2px,#6dff92 4px,#ceff31 6px,#ef1 7px,#fbff04 8px,#ffca00 12px,#ff6500 17px,#ff3f00 29px,#ff1d00 50px,#fa0000 60px,#cb0000 72px,#870000 115px,#800000 140px)"></i>
<i style="left:370px;top:251px;height:140px;background:linear-gradient(#01f 0px,#0097ff 1px,#00e5ff 2px,#1cffe3 3px,#c3ff3c 6px,#e6ff19 7px,#f6ff09 8px,#ffd200 12px,#ff6c00 17px,#ff4100 29px,#ff2100 50px,#ff0100 60px,#cf0000 72px,#9a0000 100px,#800000 130px,#800000 140px)"></i>
<i style="left:371px;top:251px;height:140px;background:linear-gradient(#00beff 0px,#00fbff 1px,#4affb5 3px,#b3ff4c 5px,#f3ff0c 7px,#fffe00 8px,#ffbe00 12px,#ff8f00 14px,#ff6000 17px,#ff3c00 29px,#ff1700 50px,#f10000 60px,#c50000 72px,#860000 115px,#800000 140px)"></i>
<i style="left:372px;top:251px;height:140px;background:linear-gradient(#00f1ff 0px,#37ffc8 2px,#8aff75 4px,#bfff40 5px,#e2ff1d 6px,#fffb00 8px,#ffb700 12px,#ff8900 14px,#ff5d00 17px,#ff3a00 29px,#ff1400 50px,#ec0000 60px,#c20000 72px,#850000 115px,#800000 140px)"></i>
<i style="left:373px;top:251px;height:140px;background:linear-gradient(#00a7ff 0px,#00f3ff 1px,#29ffd6 2px,#a2ff5d 4px,#d3ff2c 5px,#ff0 7px,#fc0 10px,#ff6f00 14px,#ff5000 17px,#ff1b00 42px,#fe0000 50px,#d50000 60px,#9f0000 86px,#820000 115px,#800000 140px)"></i>
<i style="left:374px;top:251px;height:140px;background:linear-gradient(#00daff 0px,#0efff1 1px,#58ffa7 3px,#c1ff3e 5px,#e4ff1b 6px,#fffa00 8px,#ffb300 12px,#ff8600 14px,#ff5c00 17px,#ff3900 29px,#ff1200 50px,#e90000 60px,#c00000 72px,#850000 115px,#800000 140px)"></i>
<i style="left:375px;top:251px;height:140px;background:linear-gradient(#0ff 0px,#57ffa8 3px,#dcff23 6px,#fffe00 8px,#ffbe00 12px,#ff9000 14px,#ff6100 17px,#ff3c00 29px,#ff1800 50px,#f20000 60px,#c60000 72px,#960000 100px,#800000 130px,#800000 140px)"></i>
<i style="left:376px;top:251px;height:140px;background:linear-gradient(#1cffe3 0px,#49ffb6 2px,#d0ff2f 5px,#f0ff0f 6px,#fff400 8px,#ffd600 10px,#ff7b00 14px,#ff5600 17px,#ff3600 29px,#ff0b00 50px,#b00 72px,#900000 100px,#800000 140px)"></i>
<i style="left:377px;top:251px;height:140px;background:linear-gradient(#1effe1 0px,#65ff9a 3px,#c3ff3c 5px,#f7ff08 7px,#ffdf00 10px,#ff8b00 14px,#ff5f00 17px,#ff3b00 29px,#ff1600 50px,#f00000 60px,#c40000 72px,#860000 115px,#800000 140px)"></i>
<i style="left:378px;top:251px;height:140px;background:linear-gradient(#28ffd7 0px,#50ffaf 2px,#d1ff2e 5px,#f0ff0f 6px,#fff400 8px,#ffd700 10px,#ff7f00 14px,#ff5800 17px,#ff3800 29px,#ff1000 50px,#e60000 60px,#be0000 72px,#850000 115px,#800000 140px)"></i>
<i style="left:379px;top:251px;height:140px;background:linear-gradient(#3fc 0px,#5fffa0 2px,#84ff7b 3px,#e0ff1f 5px,#fffb00 7px,#ffcd00 10px,#ff7200 14px,#ff5200 17px,#ff0600 50px,#b90000 72px,#830000 115px,#800000 140px)"></i>
<i style="left:380px;top:251px;height:140px;background:linear-gradient(#3cffc3 0px,#65ff9a 2px,#8aff75 3px,#bfff40 4px,#e4ff1b 5px,#fff900 7px,#ffca00 10px,#ff7000 14px,#ff5100 17px,#ff1f00 42px,#ff0500 50px,#b90000 72px,#830000 115px,#800000 140px)"></i>
<i style="left:381px;top:251px;height:140px;background:linear-gradient(#3dffc2 0px,#5fa 2px,#a1ff5e 4px,#edff12 6px,#fff800 8px,#ffb600 12px,#ff8a00 14px,#ff5f00 17px,#ff3c00 29px,#ff1900 50px,#f40000 60px,#c70000 72px,#970000 100px,#800000 130px,#800000 140px)"></i>
<i style="left:382px;top:251px;height:140px;background:linear-gradient(#45ffba 0px,#58ffa7 2px,#a3ff5c 4px,#edff12 6px,#fff800 8px,#ffb800 12px,#ff8c00 14px,#ff6000 17px,#ff3d00 29px,#ff1b00 50px,#f70000 60px,#c90000 72px,#870000 115px,#800000 140px)"></i>
<i style="left:383px;top:251px;height:140px;background:linear-gradient(#4dffb2 0px,#5dffa2 2px,#a7ff58 4px,#efff10 6px,#fff700 8px,#ffb700 12px,#ff8c00 14px,#ff6000 17px,#ff3e00 29px,#f80000 60px,#ca0000 72px,#980000 100px,#800000 130px,#800000 140px)"></i>
<i style="left:384px;top:251px;height:140px;background:linear-gradient(#59ffa6 0px,#5cffa3 1px,#6eff91 2px,#92ff6d 3px,#c6ff39 4px,#e7ff18 5px,#fffa00 7px,#ffd200 10px,#ff7c00 14px,#ff5800 17px,#ff3900 29px,#ff1200 50px,#e90000 60px,#c00000 72px,#850000 115px,#800000 140px)"></i>
<i style="left:385px;top:251px;height:140px;background:linear-gradient(#61ff9e 0px,#67ff98 2px,#8dff72 3px,#c7ff38 4px,#edff12 5px,#ffed00 8px,#ffd300 10px,#ff8100 14px,#ff5c00 17px,#ff3a00 29px,#ff1400 50px,#ec0000 60px,#c20000 72px,#860000 115px,#800000 140px)"></i>
<i style="left:386px;top:251px;height:115px;background:linear-gradient(#74ff8b 0px,#7dff82 2px,#90ff6f 3px,#ceff31 4px,#f4ff0b 5px,#ffef00 7px,#ffc200 10px,#ff7400 14px,#ff5600 17px,#ff3600 29px,#ff0900 50px,#b00 72px,#8f0000 100px,#840000 115px)"></i>
<i style="left:387px;top:251px;height:115px;background:linear-gradient(#85ff7a 0px,#a1ff5e 3px,#f4ff0b 5px,#ffe600 7px,#ff6a00 14px,#ff4500 20px,#ff1b00 42px,#fe0000 50px,#d40000 60px,#9f0000 86px,#820000 115px)"></i>
<i style="left:388px;top:251px;height:140px;background:linear-gradient(#81ff7e 0px,#93ff6c 3px,#a1ff5e 4px,#f9ff06 6px,#ffca00 10px,#ff8300 14px,#ff6000 17px,#ff3a00 29px,#ff1200 50px,#e80000 60px,#bf0000 72px,#920000 100px,#800000 140px)"></i>
<i style="left:389px;top:251px;height:140px;background:linear-gradient(#8dff72 0px,#adff52 4px,#b9ff46 5px,#f1ff0e 6px,#fff800 7px,#ffe000 8px,#ff8400 14px,#ff6100 17px,#ff3a00 29px,#f10 50px,#e70000 60px,#be0000 72px,#910000 100px,#800000 140px)"></i>
<i style="left:390px;top:251px;height:140px;background:linear-gradient(#91ff6e 0px,#afff50 5px,#c8ff37 6px,#f7ff08 7px,#ff9100 14px,#ff6d00 17px,#ff4800 24px,#ff1800 50px,#f10000 60px,#c40000 72px,#850000 115px,#800000 140px)"></i>
<i style="left:391px;top:251px;height:140px;background:linear-gradient(#9bff64 0px,#b9ff46 6px,#fffe00 8px,#ffb400 12px,#ff7400 17px,#ff4b00 24px,#ff1900 50px,#f20000 60px,#c50000 72px,#940000 100px,#800000 130px,#800000 140px)"></i>
<i style="left:392px;top:251px;height:140px;background:linear-gradient(#a2ff5d 0px,#bdff42 7px,#f5ff0a 8px,#fc0 10px,#ff7100 17px,#ff4a00 24px,#ff1900 50px,#f30000 60px,#c60000 72px,#940000 100px,#800000 130px,#800000 140px)"></i>
<i style="left:393px;top:251px;height:140px;background:linear-gradient(#adff52 0px,#cf3 7px,#edff12 8px,#ffc300 10px,#ff8b00 12px,#ff5f00 17px,#ff3a00 29px,#ff1200 50px,#e80000 60px,#bf0000 72px,#920000 100px,#800000 140px)"></i>
<i style="left:394px;top:251px;height:140px;background:linear-gradient(#bf4 0px,#e0ff1f 8px,#ffc100 10px,#ff6e00 12px,#ff4500 20px,#ff1e00 42px,#ff0400 50px,#b90000 72px,#8e0000 100px,#800000 140px)"></i>
<i style="left:395px;top:251px;height:140px;background:linear-gradient(#c4ff3b 0px,#e9ff16 8px,#ffcf00 10px,#ff5f00 12px,#ff4100 20px,#fb0000 50px,#d20000 60px,#8c0000 100px,#800000 140px)"></i>
<i style="left:396px;top:251px;height:140px;background:linear-gradient(#c6ff39 0px,#e5ff1a 8px,#ffe500 10px,#ff5b00 12px,#ff3f00 20px,#ff1700 42px,#fb0000 50px,#d30000 60px,#a00000 86px,#830000 115px,#800000 140px)"></i>
<i style="left:397px;top:251px;height:140px;background:linear-gradient(#baff45 0px,#c8ff37 8px,#f5ff0a 10px,#ff7300 12px,#ff5200 14px,#ff0e00 50px,#e60000 60px,#c00000 72px,#860000 115px,#800000 140px)"></i>
<i style="left:398px;top:251px;height:140px;background:linear-gradient(#b9ff46 0px,#c1ff3e 8px,#d9ff26 10px,#ff8100 12px,#ff5000 14px,#ff1000 50px,#e80000 60px,#c10000 72px,#870000 115px,#800000 140px)"></i>
<i style="left:399px;top:251px;height:140px;background:linear-gradient(#a8ff57 0px,#95ff6a 8px,#aeff51 10px,#ff9800 12px,#ff5b00 14px,#ff4200 24px,#ff1e00 50px,#fe0000 60px,#d00000 72px,#9d0000 100px,#820000 130px,#800000 140px)"></i>
<i style="left:400px;top:251px;height:140px;background:linear-gradient(#c7ff38 0px,#dbff24 8px,#f2ff0d 10px,#ff6e00 12px,#ff4700 14px,#ff1900 42px,#fd0000 50px,#b80000 72px,#840000 115px,#800000 140px)"></i>
<i style="left:401px;top:251px;height:140px;background:linear-gradient(#ceff31 0px,#faff05 10px,#ff6300 12px,#f40 14px,#ff1000 42px,#f00000 50px,#c00 60px,#8b0000 100px,#800000 140px)"></i>
<i style="left:402px;top:251px;height:140px;background:linear-gradient(#c1ff3e 0px,#d1ff2e 8px,#e8ff17 10px,#ff7600 12px,#ff4a00 14px,#ff1e00 42px,#ff0600 50px,#b00 72px,#850000 115px,#800000 140px)"></i>
<i style="left:403px;top:251px;height:140px;background:linear-gradient(#c7ff38 0px,#dbff24 8px,#f2ff0d 10px,#ff6d00 12px,#ff4700 14px,#ff1800 42px,#fd0000 50px,#d60000 60px,#a20000 86px,#840000 115px,#800000 140px)"></i>
<i style="left:404px;top:251px;height:140px;background:linear-gradient(#c4ff3b 0px,#d6ff29 8px,#efff10 10px,#ff7100 12px,#ff4800 14px,#ff1b00 42px,#ff0100 50px,#b90000 72px,#850000 115px,#800000 140px)"></i>
<i style="left:405px;top:251px;height:140px;background:linear-gradient(#c9ff36 0px,#e0ff1f 8px,#f3ff0c 10px,#ff6a00 12px,#ff4600 14px,#ff1600 42px,#f90000 50px,#d20000 60px,#a00000 86px,#840000 115px,#800000 140px)"></i>
<i style="left:406px;top:251px;height:140px;background:linear-gradient(#bf4 0px,#c5ff3a 8px,#dbff24 10px,#ff7c00 12px,#ff4d00 14px,#f20 42px,#ff0b00 50px,#be0000 72px,#860000 115px,#800000 140px)"></i>
<i style="left:407px;top:251px;height:140px;background:linear-gradient(#adff52 0px,#a1ff5e 8px,#bdff42 10px,#ff8d00 12px,#ff5600 14px,#ff3100 35px,#ff1700 50px,#f20000 60px,#c70000 72px,#870000 115px,#800000 140px)"></i>
<i style="left:408px;top:251px;height:140px;background:linear-gradient(#b7ff48 0px,#baff45 8px,#d4ff2b 10px,#ff8000 12px,#ff4f00 14px,#ff2300 42px,#ff0d00 50px,#e40000 60px,#bd0000 72px,#850000 115px,#800000 140px)"></i>
<i style="left:409px;top:251px;height:118px;background:linear-gradient(#a1ff5e 0px,#82ff7d 8px,#98ff67 10px,#ff9c00 12px,#ff5b00 14px,#ff3a00 29px,#ff1400 50px,#e90000 60px,#bd0000 72px,#8e0000 100px,#810000 118px)"></i>
<i style="left:410px;top:251px;height:117px;background:linear-gradient(#a9ff56 0px,#96ff69 8px,#b1ff4e 10px,#ff8e00 12px,#f50 14px,#ff2d00 35px,#ff2300 42px,#ff0800 50px,#b60000 72px,#890000 100px,#800000 117px)"></i>
<i style="left:411px;top:251px;height:117px;background:linear-gradient(#a7ff58 0px,#91ff6e 8px,#abff54 10px,#ff9000 12px,#ff5600 14px,#ff2e00 35px,#ff0800 50px,#b60000 72px,#890000 100px,#800000 117px)"></i>
<i style="left:412px;top:251px;height:117px;background:linear-gradient(#b7ff48 0px,#baff45 8px,#d4ff2b 10px,#ff7c00 12px,#ff4b00 14px,#ff1500 42px,#f10000 50px,#c70000 60px,#950000 86px,#800000 117px)"></i>
<i style="left:413px;top:251px;height:115px;background:linear-gradient(#cf3 0px,#e7ff18 8px,#f7ff08 10px,#ff6200 12px,#ff4300 14px,#f60000 42px,#d00000 50px,#9e0000 72px,#800000 100px,#800000 115px)"></i>
<i style="left:414px;top:251px;height:114px;background:linear-gradient(#ceff31 0px,#faff05 10px,#ff5f00 12px,#ff4100 14px,#f10 35px,#e00 42px,#cb0000 50px,#9b0000 72px,#800000 100px,#800000 114px)"></i>
<i style="left:415px;top:251px;height:112px;background:linear-gradient(#bdff42 0px,#c9ff36 8px,#e1ff1e 10px,#ff7100 12px,#ff4700 14px,#ff2000 35px,#ff0600 42px,#ba0000 60px,#8b0000 86px,#800000 112px)"></i>
<i style="left:416px;top:251px;height:110px;background:linear-gradient(#b0ff4f 0px,#a9ff56 8px,#c8ff37 10px,#ff8000 12px,#ff4d00 14px,#f10 42px,#e90000 50px,#c00000 60px,#8e0000 86px,#800000 110px)"></i>
<i style="left:417px;top:251px;height:106px;background:linear-gradient(#afff50 0px,#a6ff59 8px,#c5ff3a 10px,#ff8100 12px,#ff4d00 14px,#ff2500 35px,#ff0e00 42px,#e40000 50px,#bc0000 60px,#8a0000 86px,#800000 106px)"></i>
<i style="left:418px;top:251px;height:102px;background:linear-gradient(#a8ff57 0px,#95ff6a 8px,#b1ff4e 10px,#f80 12px,#ff5000 14px,#ff1000 42px,#e50000 50px,#b00 60px,#890000 86px,#800000 102px)"></i>
<i style="left:419px;top:251px;height:98px;background:linear-gradient(#abff54 0px,#9bff64 8px,#b8ff47 10px,#ff8300 12px,#ff4d00 14px,#ff2300 35px,#ff0800 42px,#b60000 60px,#870000 86px,#800000 98px)"></i>
<i style="left:420px;top:251px;height:96px;background:linear-gradient(#c1ff3e 0px,#d1ff2e 8px,#eaff15 10px,#f60 12px,#f40 14px,#ff0f00 35px,#e60000 42px,#c10000 50px,#900000 72px,#800000 96px)"></i>
<i style="left:421px;top:251px;height:95px;background:linear-gradient(#b3ff4c 0px,#b0ff4f 8px,#cdff32 10px,#ff7800 12px,#ff4700 14px,#ff1900 35px,#f50000 42px,#cb0000 50px,#940000 72px,#800000 95px)"></i>
<i style="left:422px;top:251px;height:94px;background:linear-gradient(#cdff32 0px,#f9ff06 10px,#ff5d00 12px,#ff4000 14px,#f80000 35px,#cf0000 42px,#9e0000 60px,#800 72px,#800000 94px)"></i>
<i style="left:423px;top:251px;height:93px;background:linear-gradient(#c9ff36 0px,#e1ff1e 8px,#f5ff0a 10px,#ff6000 12px,#ff4100 14px,#ff1b00 29px,#fb0000 35px,#d20000 42px,#9e0000 60px,#800 72px,#800000 93px)"></i>
<i style="left:424px;top:251px;height:92px;background:linear-gradient(#cbff34 0px,#e6ff19 8px,#f7ff08 10px,#ff5e00 12px,#ff4000 14px,#f60000 35px,#cd0000 42px,#9c0000 60px,#870000 72px,#800000 92px)"></i>
<i style="left:425px;top:251px;height:91px;background:linear-gradient(#bfff40 0px,#cdff32 8px,#e6ff19 10px,#ff6500 12px,#ff4300 14px,#ff2000 29px,#ff0600 35px,#b90000 50px,#890000 72px,#800000 91px)"></i>
<i style="left:426px;top:251px;height:90px;background:linear-gradient(#c4ff3b 0px,#d6ff29 8px,#f0ff0f 10px,#ff6200 12px,#ff4200 14px,#ff1c00 29px,#fd0000 35px,#d20000 42px,#9d0000 60px,#870000 72px,#800000 90px)"></i>
<i style="left:427px;top:251px;height:88px;background:linear-gradient(#c4ff3b 0px,#d6ff29 8px,#f0ff0f 10px,#ff6200 12px,#ff4100 14px,#ff1a00 29px,#f90000 35px,#cf0000 42px,#9b0000 60px,#860000 72px,#800000 88px)"></i>
<i style="left:428px;top:251px;height:87px;background:linear-gradient(#bfff40 0px,#ceff31 8px,#e7ff18 10px,#ff6400 12px,#ff4200 14px,#ff1c00 29px,#fd0000 35px,#d10000 42px,#9b0000 60px,#860000 72px,#800000 87px)"></i>
<i style="left:429px;top:251px;height:86px;background:linear-gradient(#b8ff47 0px,#beff41 8px,#d9ff26 10px,#ff6a00 12px,#f40 14px,#ff2000 29px,#ff0400 35px,#b60000 50px,#870000 72px,#800000 86px)"></i>
<i style="left:430px;top:251px;height:84px;background:linear-gradient(#b9ff46 0px,#bf4 8px,#f0ff0f 10px,#ff6200 12px,#f40 14px,#ff1f00 29px,#ff0400 35px,#b60000 50px,#870000 72px,#800000 84px)"></i>
<i style="left:431px;top:251px;height:83px;background:linear-gradient(#b7ff48 0px,#adff52 8px,#ff0 10px,#ff5800 12px,#f40 14px,#ff2400 29px,#ff0c00 35px,#ba0000 50px,#800 72px,#800000 83px)"></i>
<i style="left:432px;top:251px;height:82px;background:linear-gradient(#d3ff2c 0px,#ecff13 8px,#ffcd00 10px,#ff4200 12px,#ff0f00 29px,#e70000 35px,#c20000 42px,#940000 60px,#800000 82px)"></i>
<i style="left:433px;top:251px;height:81px;background:linear-gradient(#dcff23 0px,#f4ff0b 8px,#ff3f00 12px,#ff2000 24px,#ff0700 29px,#bc0000 42px,#910000 60px,#800000 81px)"></i>
<i style="left:434px;top:251px;height:80px;background:linear-gradient(#dfff20 0px,#f5ff0a 8px,#ff7a00 10px,#ff3e00 12px,#ff1f00 24px,#ff0600 29px,#bd0000 42px,#920000 60px,#800000 80px)"></i>
<i style="left:435px;top:251px;height:78px;background:linear-gradient(#eaff15 0px,#fdff02 8px,#ff5c00 10px,#ff3b00 12px,#ff1800 24px,#f90000 29px,#d10000 35px,#8d0000 60px,#800000 78px)"></i>
<i style="left:436px;top:251px;height:77px;background:linear-gradient(#e1ff1e 0px,#f1ff0e 7px,#ff0 8px,#ff5800 10px,#ff3e00 12px,#f20 24px,#ff0c00 29px,#c20000 42px,#950000 60px,#800000 77px)"></i>
<i style="left:437px;top:251px;height:75px;background:linear-gradient(#f8ff07 0px,#fff800 7px,#ffb100 8px,#ff3f00 10px,#ff1300 24px,#f30000 29px,#cd0000 35px,#8c0000 60px,#800000 75px)"></i>
<i style="left:438px;top:251px;height:74px;background:linear-gradient(#fffb00 0px,#fff700 6px,#ffbf00 7px,#ff6400 8px,#ff3f00 10px,#ff1d00 24px,#ff0600 29px,#bf0000 42px,#940000 60px,#830000 74px)"></i>
<i style="left:439px;top:251px;height:72px;background:linear-gradient(#ffe800 0px,#ffe300 5px,#fa0 6px,#ff6000 7px,#f40 8px,#ff1600 24px,#fa0000 29px,#ba0000 42px,#900000 60px,#830000 72px)"></i>
<i style="left:440px;top:251px;height:71px;background:linear-gradient(#ffd200 0px,#ffc700 4px,#ff5900 6px,#ff4200 7px,#ff0a00 24px,#c80000 35px,#8b0000 60px,#810000 71px)"></i>
<i style="left:441px;top:251px;height:69px;background:linear-gradient(#ffab00 0px,#ffa300 3px,#ff5400 5px,#ff3c00 7px,#ff1a00 20px,#ff0700 24px,#c70000 35px,#8a0000 60px,#830000 69px)"></i>
<i style="left:442px;top:251px;height:67px;background:linear-gradient(#ff7d00 0px,#ff7800 2px,#ff4900 4px,#ff2c00 12px,#fa0000 24px,#bd0000 35px,#800 60px,#820000 67px)"></i>
<i style="left:443px;top:251px;height:65px;background:linear-gradient(#ff5f00 0px,#ff5100 2px,#ff3800 6px,#ff0e00 20px,#f30000 24px,#ba0000 35px,#860000 60px,#820000 65px)"></i>
<i style="left:444px;top:251px;height:63px;background:linear-gradient(#ff5200 0px,#ff3400 8px,#ff1500 20px,#f00 24px,#c50000 35px,#870000 63px)"></i>
<i style="left:445px;top:251px;height:61px;background:linear-gradient(#ff4300 0px,#ff0e00 20px,#f60000 24px,#c00000 35px,#870000 61px)"></i>
<i style="left:446px;top:251px;height:59px;background:linear-gradient(#ff3b00 0px,#ff1300 17px,#ef0000 24px,#be0000 35px,#890000 59px)"></i>
<i style="left:447px;top:251px;height:57px;background:linear-gradient(#ff3200 0px,#ff0f00 14px,#fe0000 17px,#c40000 29px,#800 57px)"></i>
<i style="left:448px;top:251px;height:55px;background:linear-gradient(#ff2b00 0px,#fe0000 12px,#c10000 24px,#890000 50px,#850000 55px)"></i>
<i style="left:449px;top:251px;height:53px;background:linear-gradient(#ff2600 0px,#f00 10px,#bd0000 24px,#870000 53px)"></i>
<i style="left:450px;top:251px;height:51px;background:linear-gradient(#ff2000 0px,#fb0000 8px,#c10000 20px,#860000 51px)"></i>
<i style="left:451px;top:251px;height:49px;background:linear-gradient(#ff1700 0px,#f80000 6px,#b80000 20px,#840000 49px)"></i>
<i style="left:452px;top:251px;height:47px;background:linear-gradient(#ff1000 0px,#f40000 5px,#bd0000 17px,#860000 47px)"></i>
<i style="left:453px;top:251px;height:45px;background:linear-gradient(#ff0200 0px,#bc0000 14px,#860000 42px,#830000 45px)"></i>
<i style="left:454px;top:251px;height:42px;background:linear-gradient(#f50000 0px,#b00 12px,#840000 42px)"></i>
<i style="left:455px;top:251px;height:39px;background:linear-gradient(#e90000 0px,#b90000 10px,#860000 35px,#830000 39px)"></i>
<i style="left:456px;top:251px;height:36px;background:linear-gradient(#e00000 0px,#b00000 12px,#840000 36px)"></i>
<i style="left:457px;top:251px;height:32px;background:linear-gradient(#d40000 0px,#a20000 14px,#820000 32px)"></i>
<i style="left:458px;top:251px;height:27px;background:linear-gradient(#ca0000 0px,#890000 20px,#820000 27px)"></i>
<i style="left:459px;top:251px;height:22px;background:linear-gradient(#c30000 0px,#890000 17px,#840000 22px)"></i>
<i style="left:460px;top:251px;height:23px;background:linear-gradient(#be0000 0px,#870000 20px,#840000 23px)"></i>
<i style="left:461px;top:251px;height:27px;background:linear-gradient(#c00000 0px,#890000 20px,#820000 27px)"></i>
<i style="left:462px;top:251px;height:32px;background:linear-gradient(#c00 0px,#800 24px,#810000 32px)"></i>
<i style="left:463px;top:251px;height:37px;background:linear-gradient(#de0000 0px,#ae0000 12px,#830000 35px,#810000 37px)"></i>
<i style="left:464px;top:251px;height:40px;background:linear-gradient(#f20000 0px,#b90000 12px,#840000 40px)"></i>
<i style="left:465px;top:251px;height:43px;background:linear-gradient(#ff0200 0px,#bd0000 12px,#800 35px,#810000 43px)"></i>
<i style="left:466px;top:251px;height:45px;background:linear-gradient(#ff2800 0px,#fc0000 6px,#b90000 20px,#870000 45px)"></i>
<i style="left:467px;top:251px;height:46px;background:linear-gradient(#ff5400 0px,#ff2a00 3px,#fe0000 10px,#c60000 20px,#800 46px)"></i>
<i style="left:468px;top:251px;height:47px;background:linear-gradient(#ff7b00 0px,#ff4600 2px,#ff1e00 8px,#fa0000 14px,#bf0000 24px,#800 47px)"></i>
<i style="left:469px;top:251px;height:48px;background:linear-gradient(#ffa600 0px,#ff7900 1px,#ff4b00 3px,#ff2c00 8px,#ff0800 17px,#c00000 29px,#8d0000 48px)"></i>
<i style="left:470px;top:251px;height:49px;background:linear-gradient(#ffbe00 0px,#f80 1px,#ff5700 3px,#f30 8px,#ff1600 17px,#ff0400 20px,#c80000 29px,#8e0000 49px)"></i>
<i style="left:471px;top:251px;height:50px;background:linear-gradient(#ffc600 0px,#ff9300 1px,#ff5b00 3px,#ff3800 8px,#ff0d00 20px,#e00 24px,#c00 29px,#8d0000 50px)"></i>
<i style="left:472px;top:251px;height:51px;background:linear-gradient(#ffdf00 0px,#ffa700 1px,#ff8200 2px,#ff5000 5px,#ff1900 20px,#ff0100 24px,#b00 35px,#910000 51px)"></i>
<i style="left:473px;top:251px;height:53px;background:linear-gradient(#faff05 0px,#ffc800 1px,#ff8100 3px,#f50 6px,#ff2900 17px,#ff0a00 24px,#be0000 35px,#8e0000 53px)"></i>
<i style="left:474px;top:251px;height:53px;background:linear-gradient(#e0ff1f 0px,#ffe700 1px,#ff9a00 3px,#ff6b00 5px,#ff4300 10px,#ff1300 24px,#ed0000 29px,#c50000 35px,#920000 53px)"></i>
<i style="left:475px;top:251px;height:55px;background:linear-gradient(#e2ff1d 0px,#ffea00 1px,#ff9d00 3px,#ff6c00 5px,#ff4300 10px,#ff1000 24px,#e80000 29px,#c10000 35px,#8c0000 55px)"></i>
<i style="left:476px;top:251px;height:55px;background:linear-gradient(#deff21 0px,#fff800 1px,#ff9400 4px,#ff6900 6px,#ff4000 12px,#f60000 29px,#c00 35px,#910000 55px)"></i>
<i style="left:477px;top:251px;height:57px;background:linear-gradient(#d6ff29 0px,#faff05 1px,#f80 6px,#f60 8px,#ff4100 14px,#ff1400 29px,#ec0000 35px,#c40000 42px,#9a0000 57px)"></i>
<i style="left:478px;top:251px;height:57px;background:linear-gradient(#d3ff2c 0px,#f3ff0c 1px,#ffdf00 3px,#ff7600 8px,#ff4500 14px,#ff1c00 29px,#fa0000 35px,#ce0000 42px,#9f0000 57px)"></i>
<i style="left:479px;top:251px;height:59px;background:linear-gradient(#d3ff2c 0px,#fff800 2px,#ff8200 8px,#ff6400 10px,#ff4700 14px,#ff2000 29px,#ff0200 35px,#d40000 42px,#9e0000 59px)"></i>
<i style="left:480px;top:251px;height:60px;background:linear-gradient(#ceff31 0px,#ff0 2px,#ff6e00 10px,#ff4200 17px,#ff0c00 35px,#b90000 50px,#9f0000 60px)"></i>
<i style="left:481px;top:251px;height:61px;background:linear-gradient(#c6ff39 0px,#f8ff07 2px,#ffc200 6px,#ff7900 10px,#ff5300 14px,#ff1300 35px,#e80000 42px,#bf0000 50px,#a10000 61px)"></i>
<i style="left:482px;top:251px;height:62px;background:linear-gradient(#c2ff3d 0px,#f9ff06 2px,#ffb800 6px,#ff6e00 10px,#ff4d00 14px,#ff2400 29px,#ff0800 35px,#b80000 50px,#9b0000 62px)"></i>
<i style="left:483px;top:251px;height:63px;background:linear-gradient(#b7ff48 0px,#f0ff0f 2px,#fffb00 3px,#ff6500 12px,#ff3e00 20px,#ff1700 35px,#e00 42px,#c40000 50px,#a00000 63px)"></i>
<i style="left:484px;top:251px;height:65px;background:linear-gradient(#abff54 0px,#d3ff2c 1px,#feff01 3px,#ffc100 7px,#ff6c00 12px,#ff4800 17px,#ff1c00 35px,#f70000 42px,#ca0000 50px,#a00000 65px)"></i>
<i style="left:485px;top:251px;height:66px;background:linear-gradient(#a1ff5e 0px,#ceff31 1px,#fbff04 3px,#ffb100 8px,#ff6f00 12px,#ff4a00 17px,#ff1d00 35px,#f90000 42px,#c00 50px,#9f0000 66px)"></i>
<i style="left:486px;top:251px;height:67px;background:linear-gradient(#8bff74 0px,#c0ff3f 1px,#f1ff0e 3px,#fff100 5px,#ffa800 10px,#ff6e00 14px,#ff4700 20px,#f10 42px,#e20000 50px,#b80000 60px,#a70000 67px)"></i>
<i style="left:487px;top:251px;height:69px;background:linear-gradient(#8fff70 0px,#c6ff39 1px,#f6ff09 3px,#ffca00 7px,#ff7100 12px,#ff4a00 17px,#ff1c00 35px,#f90000 42px,#cd0000 50px,#9c0000 69px)"></i>
<i style="left:488px;top:251px;height:71px;background:linear-gradient(#7eff81 0px,#bdff42 1px,#f2ff0d 3px,#ffea00 5px,#ff7300 12px,#ff4a00 17px,#f90000 42px,#ce0000 50px,#900 71px)"></i>
<i style="left:489px;top:251px;height:73px;background:linear-gradient(#69ff96 0px,#b1ff4e 1px,#efff10 3px,#fffb00 4px,#ff6b00 12px,#ff4700 17px,#ff1500 35px,#ef0000 42px,#c80000 50px,#930000 73px)"></i>
<i style="left:490px;top:251px;height:76px;background:linear-gradient(#4effb1 0px,#9f6 1px,#cf3 2px,#f7ff08 4px,#ffd000 8px,#ff6b00 14px,#ff4500 20px,#ff2400 35px,#ff0a00 42px,#b80000 60px,#970000 76px)"></i>
<i style="left:491px;top:251px;height:80px;background:linear-gradient(#67ff98 0px,#a6ff59 1px,#d0ff2f 2px,#f8ff07 4px,#ffd500 8px,#ff7000 14px,#ff4600 20px,#ff0d00 42px,#e20000 50px,#ba0000 60px,#930000 80px)"></i>
<i style="left:492px;top:251px;height:80px;background:linear-gradient(#00c7ff 0px,#46ffb9 1px,#95ff6a 2px,#c8ff37 3px,#f7ff08 5px,#ffb900 10px,#ff7600 14px,#ff4700 20px,#ff0f00 42px,#e30000 50px,#b00 60px,#930000 80px)"></i>
<i style="left:493px;top:251px;height:77px;background:linear-gradient(#00efff 0px,#5fa 1px,#9bff64 2px,#c9ff36 3px,#f5ff0a 5px,#ffe300 8px,#ff8400 14px,#ff6100 17px,#ff3400 29px,#ff1500 42px,#eb0000 50px,#be0000 60px,#9a0000 77px)"></i>
<i style="left:494px;top:251px;height:74px;background:linear-gradient(#00beff 0px,#30ffcf 1px,#81ff7e 2px,#dbff24 4px,#fbff04 6px,#ffd500 10px,#ff6b00 17px,#f40 24px,#ff1c00 42px,#f50000 50px,#c40000 60px,#a10000 74px)"></i>
<i style="left:495px;top:251px;height:72px;background:linear-gradient(#21ffde 0px,#75ff8a 1px,#afff50 2px,#d8ff27 3px,#fbff04 5px,#ffbc00 10px,#ff7800 14px,#ff4700 20px,#ff2500 35px,#ff0a00 42px,#b60000 60px,#9c0000 72px)"></i>
<i style="left:496px;top:251px;height:71px;background:linear-gradient(#00a0ff 0px,#25ffda 1px,#7fff80 2px,#b8ff47 3px,#dbff24 4px,#ff0 6px,#ff8100 14px,#ff5f00 17px,#ff3f00 24px,#ff1000 42px,#e20000 50px,#b80000 60px,#9f0000 71px)"></i>
<i style="left:497px;top:251px;height:69px;background:linear-gradient(#00f6ff 0px,#5effa1 1px,#a3ff5c 2px,#d2ff2d 3px,#faff05 5px,#ffb400 10px,#ff6f00 14px,#ff4500 20px,#ff2100 35px,#f00 42px,#d00000 50px,#9c0000 69px)"></i>
<i style="left:498px;top:251px;height:67px;background:linear-gradient(#19ffe6 0px,#73ff8c 1px,#afff50 2px,#d9ff26 3px,#fdff02 5px,#ffb400 10px,#ff7000 14px,#ff4500 20px,#f20 35px,#ff0100 42px,#d00000 50px,#9f0000 67px)"></i>
<i style="left:499px;top:251px;height:64px;background:linear-gradient(#0afff5 0px,#76ff89 1px,#b8ff47 2px,#f5ff0a 4px,#ffcf00 7px,#ff6a00 12px,#ff4500 17px,#ff0d00 35px,#b00 50px,#900 64px)"></i>
<i style="left:500px;top:251px;height:64px;background:linear-gradient(#52ffad 0px,#9fff60 1px,#ceff31 2px,#fdff02 4px,#ffb900 8px,#ff6f00 12px,#ff4700 17px,#ff1300 35px,#e80000 42px,#bf0000 50px,#9c0000 64px)"></i>
<i style="left:501px;top:251px;height:63px;background:linear-gradient(#70ff8f 0px,#b1ff4e 1px,#d7ff28 2px,#fffe00 4px,#ffbd00 8px,#ff7500 12px,#ff4b00 17px,#ff1a00 35px,#f20000 42px,#c60000 50px,#a10000 63px)"></i>
<i style="left:502px;top:251px;height:63px;background:linear-gradient(#8fff70 0px,#c6ff39 1px,#f7ff08 3px,#ffc600 7px,#ff6d00 12px,#ff4700 17px,#ff1800 35px,#f00000 42px,#c40000 50px,#a00000 63px)"></i>
<i style="left:503px;top:251px;height:63px;background:linear-gradient(#a3ff5c 0px,#ceff31 1px,#fdff02 3px,#fa0 8px,#ff6a00 12px,#ff4700 17px,#ff1b00 35px,#f50000 42px,#c80000 50px,#a20000 63px)"></i>
<i style="left:504px;top:251px;height:62px;background:linear-gradient(#abff54 0px,#eaff15 2px,#fcff03 3px,#ffba00 8px,#ff6500 14px,#ff3c00 24px,#ff0f00 42px,#dc0000 50px,#af0000 62px)"></i>
<i style="left:505px;top:251px;height:62px;background:linear-gradient(#bf4 0px,#f9ff06 2px,#ff7a00 10px,#ff5600 14px,#ff3500 24px,#ff1c00 35px,#f70000 42px,#ca0000 50px,#a60000 62px)"></i>
<i style="left:506px;top:251px;height:61px;background:linear-gradient(#c7ff38 0px,#edff12 1px,#fff600 2px,#ff7e00 8px,#ff5600 12px,#ff2f00 24px,#ff0f00 35px,#e30000 42px,#bc0000 50px,#a10000 61px)"></i>
<i style="left:507px;top:251px;height:61px;background:linear-gradient(#ceff31 0px,#f6ff09 1px,#ffa300 5px,#ff7100 8px,#ff4600 14px,#ff0d00 35px,#bc0000 50px,#a10000 61px)"></i>
<i style="left:508px;top:251px;height:60px;background:linear-gradient(#d3ff2c 0px,#fcff03 1px,#f90 5px,#ff6b00 8px,#ff3e00 17px,#f10 35px,#e70000 42px,#bf0000 50px,#a50000 60px)"></i>
<i style="left:509px;top:251px;height:60px;background:linear-gradient(#e0ff1f 0px,#ffeb00 1px,#ffa700 3px,#ff6300 7px,#ff3f00 14px,#f90000 35px,#d00000 42px,#9d0000 60px)"></i>
<i style="left:510px;top:251px;height:59px;background:linear-gradient(#f7ff08 0px,#ffad00 2px,#ff6c00 5px,#ff4100 12px,#ff1400 29px,#f10000 35px,#ca0000 42px,#9c0000 59px)"></i>
<i style="left:511px;top:251px;height:59px;background:linear-gradient(#fff500 0px,#ffa500 2px,#ff6b00 5px,#ff4300 12px,#ff1f00 29px,#ff0800 35px,#b00 50px,#a50000 59px)"></i>
<i style="left:512px;top:251px;height:58px;background:linear-gradient(#ffd100 0px,#ff8700 2px,#ff5c00 5px,#ff4100 10px,#ff0e00 29px,#ea0000 35px,#c60000 42px,#9d0000 58px)"></i>
<i style="left:513px;top:251px;height:58px;background:linear-gradient(#ffbf00 0px,#ff7b00 2px,#ff4a00 7px,#ff1400 29px,#f50000 35px,#ce0000 42px,#a10000 58px)"></i>
<i style="left:514px;top:251px;height:57px;background:linear-gradient(#ff9d00 0px,#ff6d00 2px,#ff4800 6px,#ff0a00 29px,#c70000 42px,#9f0000 57px)"></i>
<i style="left:515px;top:251px;height:56px;background:linear-gradient(#ff7e00 0px,#ff4e00 3px,#ff0d00 24px,#ef0000 29px,#b60000 42px,#980000 56px)"></i>
<i style="left:516px;top:251px;height:55px;background:linear-gradient(#ff6300 0px,#ff4200 4px,#ff1800 20px,#ff0500 24px,#c90000 35px,#980000 55px)"></i>
<i style="left:517px;top:251px;height:55px;background:linear-gradient(#ff4b00 0px,#ff0a00 20px,#d30000 29px,#ab0000 42px,#910000 55px)"></i>
<i style="left:518px;top:251px;height:54px;background:linear-gradient(#ff4000 0px,#ff1500 17px,#f00000 24px,#bc0000 35px,#940000 54px)"></i>
<i style="left:519px;top:251px;height:53px;background:linear-gradient(#ff3c00 0px,#ff0f00 17px,#fd0000 20px,#b80000 35px,#930000 53px)"></i>
<i style="left:520px;top:251px;height:52px;background:linear-gradient(#ff3800 0px,#ff1600 14px,#f80000 20px,#b70000 35px,#930000 52px)"></i>
<i style="left:521px;top:251px;height:51px;background:linear-gradient(#ff3400 0px,#ff1000 14px,#f00 17px,#c30000 29px,#910000 51px)"></i>
<i style="left:522px;top:251px;height:49px;background:linear-gradient(#ff3000 0px,#ff0e00 12px,#ef0000 17px,#b90000 29px,#8d0000 49px)"></i>
<i style="left:523px;top:251px;height:48px;background:linear-gradient(#ff2d00 0px,#ff0e00 10px,#f50000 14px,#c10000 24px,#8a0000 48px)"></i>
<i style="left:524px;top:251px;height:47px;background:linear-gradient(#ff2a00 0px,#f80000 12px,#bc0000 24px,#890000 47px)"></i>
<i style="left:525px;top:251px;height:45px;background:linear-gradient(#ff2700 0px,#ff0200 8px,#bd0000 20px,#870000 45px)"></i>
<i style="left:526px;top:251px;height:44px;background:linear-gradient(#ff2400 0px,#fb0000 8px,#b00 20px,#870000 44px)"></i>
<i style="left:527px;top:251px;height:42px;background:linear-gradient(#ff1e00 0px,#fc0000 6px,#c90000 14px,#8d0000 35px,#850000 42px)"></i>
<i style="left:528px;top:251px;height:41px;background:linear-gradient(#ff1a00 0px,#f50000 6px,#b90000 17px,#850000 41px)"></i>
<i style="left:529px;top:251px;height:39px;background:linear-gradient(#ff1500 0px,#f50000 5px,#c00000 14px,#860000 39px)"></i>
<i style="left:530px;top:251px;height:37px;background:linear-gradient(#f10 0px,#f50000 4px,#bc0000 14px,#870000 37px)"></i>
<i style="left:531px;top:251px;height:34px;background:linear-gradient(#ff0900 0px,#ce0000 8px,#8d0000 29px,#860000 34px)"></i>
<i style="left:532px;top:251px;height:31px;background:linear-gradient(#fe0000 0px,#b00 10px,#850000 31px)"></i>
<i style="left:533px;top:251px;height:26px;background:linear-gradient(#f80000 0px,#be0000 8px,#800 26px)"></i>
<i style="left:534px;top:251px;height:20px;background:linear-gradient(#e00 0px,#b90000 7px,#8b0000 20px)"></i>
<i style="left:535px;top:251px;height:23px;background:linear-gradient(#e90000 0px,#b60000 8px,#800 23px)"></i>
<i style="left:536px;top:251px;height:28px;background:linear-gradient(#e40000 0px,#b10000 10px,#860000 28px)"></i>
<i style="left:537px;top:251px;height:33px;background:linear-gradient(#df0000 0px,#b30000 10px,#840000 33px)"></i>
<i style="left:538px;top:251px;height:36px;background:linear-gradient(#da0000 0px,#ab0000 14px,#850000 36px)"></i>
<i style="left:539px;top:251px;height:37px;background:linear-gradient(#d20000 0px,#900 20px,#820000 37px)"></i>
<i style="left:540px;top:251px;height:39px;background:linear-gradient(#ce0000 0px,#910000 24px,#810000 39px)"></i>
<i style="left:541px;top:251px;height:40px;background:linear-gradient(#ca0000 0px,#890000 29px,#810000 40px)"></i>
<i style="left:542px;top:251px;height:41px;background:linear-gradient(#c50000 0px,#800 29px,#800000 41px)"></i>
<i style="left:543px;top:251px;height:41px;background:linear-gradient(#c50000 0px,#870000 35px,#830000 41px)"></i>
</div>
<svg width="600" height="451" viewBox="0 0 600 451">
<text x="155.9" y="26.5" font-size="17" textLength="307" lengthAdjust="spacingAndGlyphs" font-family="Liberation Serif" font-weight="bold">Salinity: Gridded data (1km x 4m) (pcolor plot)</text>
<text x="120" y="240.4" font-size="17" textLength="379" lengthAdjust="spacingAndGlyphs" font-family="Liberation Serif" font-weight="bold">Salinity: Full data set (scatter plot, every 20th point used)</text>
<text x="263.3" y="434.7" font-size="15.2" textLength="90.5" lengthAdjust="spacingAndGlyphs" font-family="Liberation Serif" font-weight="bold">Distance, (km)</text>
<text transform="translate(43.8 114.6) rotate(-90)" text-anchor="middle" font-size="15.2" textLength="62.7" lengthAdjust="spacingAndGlyphs" font-family="Liberation Serif" font-weight="bold">Depth,(m)</text>
<text transform="translate(43.8 327.6) rotate(-90)" text-anchor="middle" font-size="15.2" textLength="62.7" lengthAdjust="spacingAndGlyphs" font-family="Liberation Serif" font-weight="bold">Depth,(m)</text>
<text x="73.4" y="205" font-size="15" textLength="6.6" lengthAdjust="spacingAndGlyphs" font-family="Liberation Serif" font-weight="bold">0</text>
<text x="73.4" y="417.8" font-size="15" textLength="6.6" lengthAdjust="spacingAndGlyphs" font-family="Liberation Serif" font-weight="bold">0</text>
<text x="117.10000000000001" y="205" font-size="15" textLength="13.2" lengthAdjust="spacingAndGlyphs" font-family="Liberation Serif" font-weight="bold">50</text>
<text x="117.10000000000001" y="417.8" font-size="15" textLength="13.2" lengthAdjust="spacingAndGlyphs" font-family="Liberation Serif" font-weight="bold">50</text>
<text x="159.79999999999998" y="205" font-size="15" textLength="19.799999999999997" lengthAdjust="spacingAndGlyphs" font-family="Liberation Serif" font-weight="bold">100</text>
<text x="159.79999999999998" y="417.8" font-size="15" textLength="19.799999999999997" lengthAdjust="spacingAndGlyphs" font-family="Liberation Serif" font-weight="bold">100</text>
<text x="206.79999999999998" y="205" font-size="15" textLength="19.799999999999997" lengthAdjust="spacingAndGlyphs" font-family="Liberation Serif" font-weight="bold">150</text>
<text x="206.79999999999998" y="417.8" font-size="15" textLength="19.799999999999997" lengthAdjust="spacingAndGlyphs" font-family="Liberation Serif" font-weight="bold">150</text>
<text x="253.79999999999998" y="205" font-size="15" textLength="19.799999999999997" lengthAdjust="spacingAndGlyphs" font-family="Liberation Serif" font-weight="bold">200</text>
<text x="253.79999999999998" y="417.8" font-size="15" textLength="19.799999999999997" lengthAdjust="spacingAndGlyphs" font-family="Liberation Serif" font-weight="bold">200</text>
<text x="299.8" y="205" font-size="15" textLength="19.799999999999997" lengthAdjust="spacingAndGlyphs" font-family="Liberation Serif" font-weight="bold">250</text>
<text x="299.8" y="417.8" font-size="15" textLength="19.799999999999997" lengthAdjust="spacingAndGlyphs" font-family="Liberation Serif" font-weight="bold">250</text>
<text x="346.8" y="205" font-size="15" textLength="19.799999999999997" lengthAdjust="spacingAndGlyphs" font-family="Liberation Serif" font-weight="bold">300</text>
<text x="346.8" y="417.8" font-size="15" textLength="19.799999999999997" lengthAdjust="spacingAndGlyphs" font-family="Liberation Serif" font-weight="bold">300</text>
<text x="392.8" y="205" font-size="15" textLength="19.799999999999997" lengthAdjust="spacingAndGlyphs" font-family="Liberation Serif" font-weight="bold">350</text>
<text x="392.8" y="417.8" font-size="15" textLength="19.799999999999997" lengthAdjust="spacingAndGlyphs" font-family="Liberation Serif" font-weight="bold">350</text>
<text x="439.8" y="205" font-size="15" textLength="19.799999999999997" lengthAdjust="spacingAndGlyphs" font-family="Liberation Serif" font-weight="bold">400</text>
<text x="439.8" y="417.8" font-size="15" textLength="19.799999999999997" lengthAdjust="spacingAndGlyphs" font-family="Liberation Serif" font-weight="bold">400</text>
<text x="485.8" y="205" font-size="15" textLength="19.799999999999997" lengthAdjust="spacingAndGlyphs" font-family="Liberation Serif" font-weight="bold">450</text>
<text x="485.8" y="417.8" font-size="15" textLength="19.799999999999997" lengthAdjust="spacingAndGlyphs" font-family="Liberation Serif" font-weight="bold">450</text>
<text x="532.8000000000001" y="205" font-size="15" textLength="19.799999999999997" lengthAdjust="spacingAndGlyphs" font-family="Liberation Serif" font-weight="bold">500</text>
<text x="532.8000000000001" y="417.8" font-size="15" textLength="19.799999999999997" lengthAdjust="spacingAndGlyphs" font-family="Liberation Serif" font-weight="bold">500</text>
<text x="66.2" y="43" font-size="15" textLength="6.5" lengthAdjust="spacingAndGlyphs" font-family="Liberation Serif" font-weight="bold">0</text>
<text x="59.7" y="80" font-size="15" textLength="13.0" lengthAdjust="spacingAndGlyphs" font-family="Liberation Serif" font-weight="bold">50</text>
<text x="53.2" y="117" font-size="15" textLength="19.5" lengthAdjust="spacingAndGlyphs" font-family="Liberation Serif" font-weight="bold">100</text>
<text x="53.2" y="154" font-size="15" textLength="19.5" lengthAdjust="spacingAndGlyphs" font-family="Liberation Serif" font-weight="bold">150</text>
<text x="53.2" y="191" font-size="15" textLength="19.5" lengthAdjust="spacingAndGlyphs" font-family="Liberation Serif" font-weight="bold">200</text>
<text x="66.2" y="256" font-size="15" textLength="6.5" lengthAdjust="spacingAndGlyphs" font-family="Liberation Serif" font-weight="bold">0</text>
<text x="59.7" y="293" font-size="15" textLength="13.0" lengthAdjust="spacingAndGlyphs" font-family="Liberation Serif" font-weight="bold">50</text>
<text x="53.2" y="330" font-size="15" textLength="19.5" lengthAdjust="spacingAndGlyphs" font-family="Liberation Serif" font-weight="bold">100</text>
<text x="53.2" y="367" font-size="15" textLength="19.5" lengthAdjust="spacingAndGlyphs" font-family="Liberation Serif" font-weight="bold">150</text>
<text x="53.2" y="404" font-size="15" textLength="19.5" lengthAdjust="spacingAndGlyphs" font-family="Liberation Serif" font-weight="bold">200</text>
</svg>
</body></html>
